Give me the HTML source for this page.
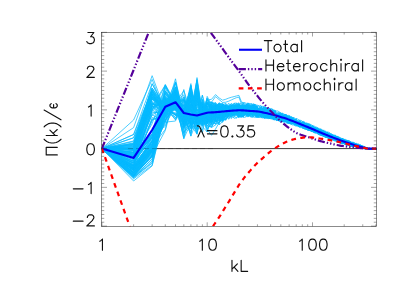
<!DOCTYPE html>
<html><head><meta charset="utf-8"><title>Flux</title>
<style>
html,body{margin:0;padding:0;background:#fff;}
body{width:407px;height:291px;overflow:hidden;font-family:"Liberation Sans",sans-serif;}
svg{display:block}
</style></head><body>
<svg width="407" height="291" viewBox="0 0 407 291">
<rect width="407" height="291" fill="#fff"/>
<defs><clipPath id="c"><rect x="101.5" y="32.5" width="275.0" height="193.8"/></clipPath></defs>
<g clip-path="url(#c)" fill="none" stroke-linejoin="round">
<path d="M101.5,148.6H376.5" stroke="#000" stroke-width="0.78"/>
<path d="M101.9,148.6L133.6,165.63L152.14,108.97L165.3,108.96L175.5,114.77L183.84,110.46L190.89,94.19L197,111.27L202.38,124.31L207.2,100L211.56,99.29L215.54,94.6L219.2,97.96L222.59,100.18L225.74,99.28L228.69,98.1L231.47,97.24L234.08,96.58L236.55,95.94L238.9,95.33L241.13,100.97L243.26,103.1L245.29,104.16L247.24,105.19L248.64,105.84L250.04,110.87L251.44,112.92L252.84,114.57L254.24,114.2L255.64,111.16L257.04,111.33L258.44,111.08L259.84,109.7L261.24,108.76L262.64,110.94L264.04,112.41L265.44,112.06L266.84,114.89L268.24,114.88L269.64,115.18L271.04,116.73L272.44,116.41L273.84,114.98L275.24,116.11L276.64,116.49L278.04,116.16L279.44,117.98L280.84,116.75L282.24,118.81L283.64,118.78L285.04,118.79L286.44,118.26L287.84,118.78L289.24,119.2L290.64,116.87L292.04,117.85L293.44,119.99L294.84,121.43L296.24,121.56L297.64,122.73L299.04,122.8L300.44,122.88L301.84,123.79L303.24,122.46L304.64,125.7L306.04,125.83L307.44,128.71L308.84,127.29L310.24,130.03L311.64,129.05L313.04,127.81L314.44,128.66L315.84,130.04L317.24,129.07L318.64,131.94L320.04,132.28L321.44,134.16L322.84,134.5L324.24,134.67L325.64,134.78L327.04,136.53L328.44,136.85L329.84,137.24L331.24,138.74L332.64,137.89L334.04,138.68L335.44,138.7L336.84,138.53L338.24,139.69L339.64,139.26L341.04,141.07L342.44,141.11L343.84,142.08L345.24,142.97L346.64,142.65L348.04,143.46L349.44,142.64L350.84,144.23L352.24,144.67L353.64,144.92L355.04,144.64L356.44,145.32L357.84,146L359.24,146.47L360.64,147.43L362.04,148.08L363.44,148.3L364.84,148.74L366.24,148.37L367.64,148.59L369.04,148.6L370.44,148.6L371.84,148.6L373.24,148.6L374.64,148.6L376.5,148.6M101.9,148.6L133.6,156.82L152.14,107.44L165.3,99.91L175.5,103.6L183.84,113.56L190.89,83.6L197,124.21L202.38,111.03L207.2,102.99L211.56,102.17L215.54,96.6L219.2,99.66L222.59,102.44L225.74,102.22L228.69,101.19L231.47,99.91L234.08,98.64L236.55,97.65L238.9,97.1L241.13,103.15L243.26,105.78L245.29,107.2L247.24,108.3L248.64,108.83L250.04,113.18L251.44,106.72L252.84,109.01L254.24,110.83L255.64,111.46L257.04,114.92L258.44,112.29L259.84,111.32L261.24,113.23L262.64,114.75L264.04,118.4L265.44,118.54L266.84,115.79L268.24,116.61L269.64,118.88L271.04,116.61L272.44,114.09L273.84,115.06L275.24,117.45L276.64,117.96L278.04,117.44L279.44,119.35L280.84,119.37L282.24,118.09L283.64,118.14L285.04,118.28L286.44,118.75L287.84,119.65L289.24,118.83L290.64,118.99L292.04,119.75L293.44,120.95L294.84,123.03L296.24,123.95L297.64,124.96L299.04,125.21L300.44,124.83L301.84,126.82L303.24,128.07L304.64,128.54L306.04,129.61L307.44,127.15L308.84,128.34L310.24,130.6L311.64,131.67L313.04,130.04L314.44,129.83L315.84,128.9L317.24,131.76L318.64,132.64L320.04,132.19L321.44,132.83L322.84,133.66L324.24,135.48L325.64,136.11L327.04,136.49L328.44,137.58L329.84,136.85L331.24,137.03L332.64,139.49L334.04,139.82L335.44,139.84L336.84,139.46L338.24,139.09L339.64,138.31L341.04,140.06L342.44,140.98L343.84,140.86L345.24,141.39L346.64,142.09L348.04,143.38L349.44,143.33L350.84,143.75L352.24,144.36L353.64,144.96L355.04,145.57L356.44,145.99L357.84,145.85L359.24,146.86L360.64,146.84L362.04,147.28L363.44,147.88L364.84,147.91L366.24,148.18L367.64,148.58L369.04,148.6L370.44,148.6L371.84,148.6L373.24,148.6L374.64,148.6L376.5,148.6M101.9,148.6L133.6,167.77L152.14,143.6L165.3,105.99L175.5,102.8L183.84,116.77L190.89,85.42L197,118.31L202.38,117.72L207.2,111L211.56,108.8L215.54,104.93L219.2,114.69L222.59,111.07L225.74,107.78L228.69,107.62L231.47,109.19L234.08,111.99L236.55,108.81L238.9,110.26L241.13,108.99L243.26,110.66L245.29,110.28L247.24,110.94L248.64,109.01L250.04,110.05L251.44,110.9L252.84,106.96L254.24,104.95L255.64,109.68L257.04,112.94L258.44,113.18L259.84,111.85L261.24,109.18L262.64,110.55L264.04,113.1L265.44,112.15L266.84,111.74L268.24,109.23L269.64,110.15L271.04,108.89L272.44,108.97L273.84,111.61L275.24,110.94L276.64,115.05L278.04,116.55L279.44,116.31L280.84,117.3L282.24,120.14L283.64,121.59L285.04,120.94L286.44,121.54L287.84,121.85L289.24,119.72L290.64,119.51L292.04,120.75L293.44,121.29L294.84,121.28L296.24,122.42L297.64,123.33L299.04,124.03L300.44,123.48L301.84,122.36L303.24,122.86L304.64,125.62L306.04,125.7L307.44,127.5L308.84,128.78L310.24,128.9L311.64,131.6L313.04,130.09L314.44,128.62L315.84,130.8L317.24,132.47L318.64,132.9L320.04,131.97L321.44,131.35L322.84,134.43L324.24,133.48L325.64,134.63L327.04,132.99L328.44,135.17L329.84,137.26L331.24,136.77L332.64,137.21L334.04,137.5L335.44,138.49L336.84,139.01L338.24,139.49L339.64,140.43L341.04,142.36L342.44,142.05L343.84,141.05L345.24,141.35L346.64,143.12L348.04,142.88L349.44,143.35L350.84,144.3L352.24,144.28L353.64,144.79L355.04,145.48L356.44,145.16L357.84,145.76L359.24,146.08L360.64,147.15L362.04,147.16L363.44,147.87L364.84,148.18L366.24,148.19L367.64,148.3L369.04,148.6L370.44,148.6L371.84,148.6L373.24,148.6L374.64,148.6L376.5,148.6M101.9,148.6L133.6,170.48L152.14,149.93L165.3,115.57L175.5,97.51L183.84,112L190.89,117.04L197,124.85L202.38,115.31L207.2,110.06L211.56,103.65L215.54,106.26L219.2,103.26L222.59,107.39L225.74,107.54L228.69,107.29L231.47,107.41L234.08,106.59L236.55,107.46L238.9,109.45L241.13,113.16L243.26,115.83L245.29,114.48L247.24,113.47L248.64,112.98L250.04,110.1L251.44,110.37L252.84,108.9L254.24,110.42L255.64,112.15L257.04,110.97L258.44,111.32L259.84,111.44L261.24,112.81L262.64,112.49L264.04,113.72L265.44,113.15L266.84,115.94L268.24,114.09L269.64,115.74L271.04,117.43L272.44,118.17L273.84,118.68L275.24,117.04L276.64,115.57L278.04,114.17L279.44,116.41L280.84,115.86L282.24,118.1L283.64,117.19L285.04,116.98L286.44,115.82L287.84,116.8L289.24,116.87L290.64,119.74L292.04,120.21L293.44,122.53L294.84,122.15L296.24,122.09L297.64,122.71L299.04,123.53L300.44,125.56L301.84,126.65L303.24,127.55L304.64,127.89L306.04,125.65L307.44,126.09L308.84,125.29L310.24,126.58L311.64,128.69L313.04,129.25L314.44,130.52L315.84,131.41L317.24,131.93L318.64,132.13L320.04,132.71L321.44,132.41L322.84,131.01L324.24,133.43L325.64,134.53L327.04,135.67L328.44,136.6L329.84,135.84L331.24,137.12L332.64,139.36L334.04,138.26L335.44,139.8L336.84,140.4L338.24,139.39L339.64,139.3L341.04,139.91L342.44,138.43L343.84,140.76L345.24,142.07L346.64,142.05L348.04,142.43L349.44,143.73L350.84,144.01L352.24,144.32L353.64,145.93L355.04,146.38L356.44,145.59L357.84,145.06L359.24,146.35L360.64,146.69L362.04,145.67L363.44,147.01L364.84,147.96L366.24,148.23L367.64,148.46L369.04,148.6L370.44,148.6L371.84,148.6L373.24,148.6L374.64,148.6L376.5,148.6M101.9,148.6L133.6,168.56L152.14,147.65L165.3,105.94L175.5,115.6L183.84,114.34L190.89,97.79L197,119.74L202.38,126.24L207.2,99.77L211.56,102.87L215.54,104.77L219.2,110.92L222.59,118.04L225.74,114.89L228.69,108.27L231.47,110.3L234.08,108.29L236.55,110.61L238.9,108.34L241.13,107.34L243.26,111.38L245.29,111.84L247.24,112.68L248.64,112.52L250.04,112.5L251.44,113.92L252.84,111.65L254.24,110.42L255.64,111.13L257.04,109.9L258.44,112.97L259.84,113.91L261.24,117.24L262.64,114.57L264.04,115.28L265.44,114.84L266.84,113.26L268.24,114.36L269.64,114.75L271.04,114L272.44,109.35L273.84,112.19L275.24,114.84L276.64,115.03L278.04,116.07L279.44,117.18L280.84,116.82L282.24,118.35L283.64,118.58L285.04,116.42L286.44,117.89L287.84,118.59L289.24,121.17L290.64,120.19L292.04,119.73L293.44,119.52L294.84,122.07L296.24,122.96L297.64,124.52L299.04,124.52L300.44,124.4L301.84,125.53L303.24,124.98L304.64,126.26L306.04,126.19L307.44,126.55L308.84,127.83L310.24,127.15L311.64,128.59L313.04,129.3L314.44,131.34L315.84,130.73L317.24,130.99L318.64,132.39L320.04,133.86L321.44,133.56L322.84,133L324.24,134L325.64,134.51L327.04,131.55L328.44,133.8L329.84,134.86L331.24,135.7L332.64,137.26L334.04,137.73L335.44,139.49L336.84,139.49L338.24,139.79L339.64,139.5L341.04,140.19L342.44,140.04L343.84,141.51L345.24,143.57L346.64,143.37L348.04,143.84L349.44,144.46L350.84,144.96L352.24,144.23L353.64,144.8L355.04,145.33L356.44,145.52L357.84,145.93L359.24,146.47L360.64,147.17L362.04,148.24L363.44,148.04L364.84,148.59L366.24,148.25L367.64,148.48L369.04,148.6L370.44,148.6L371.84,148.6L373.24,148.6L374.64,148.6L376.5,148.6M101.9,148.6L133.6,172.15L152.14,141.67L165.3,104.99L175.5,105.5L183.84,113.1L190.89,108.38L197,119.46L202.38,120.19L207.2,123.59L211.56,109.04L215.54,117.18L219.2,113.84L222.59,109.81L225.74,110L228.69,113.06L231.47,111.23L234.08,112.27L236.55,108.43L238.9,108L241.13,111.64L243.26,108.74L245.29,106.39L247.24,108.12L248.64,113.31L250.04,114.12L251.44,113.63L252.84,111.52L254.24,110.57L255.64,110.11L257.04,112.28L258.44,112.37L259.84,113.12L261.24,117.32L262.64,112.64L264.04,113.09L265.44,113.98L266.84,113.14L268.24,111.72L269.64,113.75L271.04,114.15L272.44,116L273.84,114.44L275.24,117.73L276.64,116.75L278.04,115.9L279.44,116.64L280.84,116.7L282.24,117.25L283.64,117.86L285.04,117.1L286.44,119.36L287.84,120.21L289.24,119.4L290.64,117.68L292.04,119.69L293.44,121.28L294.84,121.8L296.24,123.8L297.64,124.87L299.04,124.54L300.44,125.22L301.84,124.7L303.24,126.36L304.64,126.31L306.04,128.48L307.44,128.63L308.84,128.36L310.24,128.95L311.64,127.77L313.04,127.88L314.44,131.18L315.84,130.63L317.24,131.41L318.64,133.63L320.04,131.91L321.44,133.1L322.84,134.27L324.24,135.78L325.64,134.87L327.04,135.33L328.44,135.98L329.84,136.15L331.24,136.15L332.64,137.33L334.04,137.96L335.44,139.79L336.84,140.53L338.24,142.47L339.64,141.35L341.04,141.99L342.44,142.69L343.84,141.39L345.24,141.79L346.64,142.79L348.04,143.88L349.44,143.51L350.84,143.9L352.24,144.82L353.64,144.69L355.04,145.52L356.44,145.15L357.84,145.7L359.24,145.78L360.64,146.29L362.04,146.92L363.44,148.13L364.84,148.29L366.24,148.25L367.64,148.51L369.04,148.6L370.44,148.6L371.84,148.6L373.24,148.6L374.64,148.6L376.5,148.6M101.9,148.6L133.6,168.31L152.14,140.93L165.3,94.18L175.5,105.1L183.84,125.88L190.89,104.37L197,93.87L202.38,114.13L207.2,118.41L211.56,117.08L215.54,114.67L219.2,112.37L222.59,110.36L225.74,110.47L228.69,107.55L231.47,110.89L234.08,107.48L236.55,111.42L238.9,113.16L241.13,114.88L243.26,111.98L245.29,113.23L247.24,113.47L248.64,113.53L250.04,117L251.44,116.49L252.84,114.43L254.24,113.14L255.64,112.83L257.04,113.2L258.44,111.22L259.84,110.68L261.24,107.67L262.64,110.05L264.04,113.04L265.44,109.73L266.84,111.28L268.24,112.51L269.64,116.09L271.04,115.48L272.44,115.69L273.84,115.07L275.24,115.85L276.64,116.06L278.04,116.1L279.44,117.93L280.84,116.58L282.24,119.23L283.64,121.11L285.04,119.85L286.44,120.25L287.84,122.91L289.24,121.95L290.64,120.77L292.04,120.94L293.44,121.28L294.84,120.95L296.24,122.51L297.64,123.01L299.04,123.36L300.44,124.18L301.84,125.25L303.24,125.05L304.64,124.83L306.04,125.96L307.44,126.62L308.84,126.83L310.24,127.8L311.64,127.94L313.04,128.56L314.44,129.79L315.84,130.5L317.24,133.25L318.64,133.36L320.04,132.68L321.44,133.82L322.84,135.77L324.24,136.79L325.64,135.53L327.04,135.87L328.44,135.7L329.84,136.65L331.24,136.35L332.64,137.45L334.04,137.57L335.44,137.61L336.84,138.92L338.24,140.1L339.64,141.17L341.04,142.1L342.44,141.93L343.84,142.08L345.24,142.97L346.64,143.46L348.04,142.25L349.44,143.1L350.84,143.3L352.24,143.62L353.64,145.52L355.04,145.07L356.44,145.59L357.84,145.94L359.24,146.25L360.64,147.22L362.04,146.42L363.44,147.43L364.84,147.83L366.24,148.48L367.64,148.64L369.04,148.6L370.44,148.6L371.84,148.6L373.24,148.6L374.64,148.6L376.5,148.6M101.9,148.6L133.6,147.25L152.14,95.68L165.3,111.71L175.5,108.46L183.84,116.02L190.89,89.38L197,120.29L202.38,107.05L207.2,115.26L211.56,109.47L215.54,110.85L219.2,106.27L222.59,108.87L225.74,113.15L228.69,112.59L231.47,111.72L234.08,111.87L236.55,110.4L238.9,105.19L241.13,109.3L243.26,105.99L245.29,110.28L247.24,109.18L248.64,112.1L250.04,111.12L251.44,109.56L252.84,108.22L254.24,112.41L255.64,110.69L257.04,110.89L258.44,105.11L259.84,107.69L261.24,109.99L262.64,109.14L264.04,109.17L265.44,107.23L266.84,113.13L268.24,112.75L269.64,113.91L271.04,114.87L272.44,116.74L273.84,119.96L275.24,116.56L276.64,116.28L278.04,115.33L279.44,114.49L280.84,116.96L282.24,116.09L283.64,117.01L285.04,120.19L286.44,118.66L287.84,120.41L289.24,122.16L290.64,120.15L292.04,122.07L293.44,124.17L294.84,125.69L296.24,126.18L297.64,125.48L299.04,126.94L300.44,127.65L301.84,126.66L303.24,127.3L304.64,128.47L306.04,127.99L307.44,127.78L308.84,127.28L310.24,127.84L311.64,129.06L313.04,129.65L314.44,131.78L315.84,129.49L317.24,130.96L318.64,131.15L320.04,132.27L321.44,132.58L322.84,133.05L324.24,134.34L325.64,134.12L327.04,133.56L328.44,136.39L329.84,136.66L331.24,137.2L332.64,137.29L334.04,137.91L335.44,139.89L336.84,140.95L338.24,141.66L339.64,141.94L341.04,143.49L342.44,143.08L343.84,143.27L345.24,144.37L346.64,143.9L348.04,142.39L349.44,143.48L350.84,143.87L352.24,144.22L353.64,144.85L355.04,144.92L356.44,145.55L357.84,147.05L359.24,146.36L360.64,146.7L362.04,147.39L363.44,147.27L364.84,148.32L366.24,148.31L367.64,148.54L369.04,148.6L370.44,148.6L371.84,148.6L373.24,148.6L374.64,148.6L376.5,148.6M101.9,148.6L133.6,155.13L152.14,114.91L165.3,107.45L175.5,119.54L183.84,89.5L190.89,123.67L197,120.12L202.38,106.41L207.2,113.95L211.56,101.85L215.54,107.01L219.2,110.77L222.59,107.67L225.74,106L228.69,110.1L231.47,108.48L234.08,110.18L236.55,111.5L238.9,110.25L241.13,110.68L243.26,110.41L245.29,111.13L247.24,113.03L248.64,112.16L250.04,113.36L251.44,112.84L252.84,112.59L254.24,110.15L255.64,108.61L257.04,113.8L258.44,111.56L259.84,109.11L261.24,111.71L262.64,111.47L264.04,112.66L265.44,109.3L266.84,110.86L268.24,112.18L269.64,116.21L271.04,115.87L272.44,115.33L273.84,114.69L275.24,115.6L276.64,115.71L278.04,120.38L279.44,119.63L280.84,118.53L282.24,118.72L283.64,118.82L285.04,117.58L286.44,120.09L287.84,122.53L289.24,120.71L290.64,119.63L292.04,119.21L293.44,120.18L294.84,121.66L296.24,122.11L297.64,122.64L299.04,124.23L300.44,123.88L301.84,126.23L303.24,127.36L304.64,128.76L306.04,127.83L307.44,128.16L308.84,128.19L310.24,127.56L311.64,127.91L313.04,129.86L314.44,130.4L315.84,130.65L317.24,131.3L318.64,133.15L320.04,132.89L321.44,131.92L322.84,130.18L324.24,134.21L325.64,134.59L327.04,135.4L328.44,135.32L329.84,136.55L331.24,137.07L332.64,138.38L334.04,139.61L335.44,138.74L336.84,139.32L338.24,139.14L339.64,139.54L341.04,140.95L342.44,141.64L343.84,141.92L345.24,142.6L346.64,142.82L348.04,142.95L349.44,143.73L350.84,143.77L352.24,144.32L353.64,144.55L355.04,145.12L356.44,146.18L357.84,145.96L359.24,147.35L360.64,147.12L362.04,146.99L363.44,147.56L364.84,147.66L366.24,147.99L367.64,148.46L369.04,148.6L370.44,148.6L371.84,148.6L373.24,148.6L374.64,148.6L376.5,148.6M101.9,148.6L133.6,170.89L152.14,152.6L165.3,121.04L175.5,102.58L183.84,113.91L190.89,94.34L197,118.02L202.38,114.25L207.2,115.51L211.56,121.47L215.54,124.28L219.2,115.04L222.59,108.28L225.74,114.29L228.69,111.97L231.47,111.2L234.08,110.38L236.55,112.28L238.9,111.62L241.13,108.99L243.26,107.35L245.29,110.78L247.24,111.62L248.64,114.41L250.04,112.16L251.44,110.8L252.84,111.78L254.24,111.16L255.64,111.03L257.04,112.08L258.44,111.86L259.84,112.61L261.24,114.12L262.64,115.28L264.04,117.89L265.44,117.2L266.84,117.91L268.24,118.1L269.64,118.05L271.04,114.62L272.44,116.97L273.84,116.41L275.24,116.94L276.64,115.71L278.04,113.96L279.44,115.43L280.84,116.95L282.24,117.93L283.64,116.83L285.04,115.7L286.44,114.99L287.84,116.62L289.24,119.81L290.64,119.9L292.04,120.92L293.44,120.05L294.84,119.61L296.24,123.13L297.64,124.4L299.04,127.16L300.44,125.93L301.84,125.88L303.24,126.34L304.64,128.54L306.04,128.26L307.44,127.75L308.84,129.25L310.24,129.12L311.64,128.45L313.04,129.26L314.44,129.67L315.84,130.11L317.24,127.21L318.64,130.02L320.04,131.58L321.44,132.53L322.84,132.5L324.24,133.23L325.64,134.61L327.04,135.02L328.44,136.41L329.84,136.25L331.24,138.47L332.64,136.9L334.04,137.61L335.44,138.85L336.84,139.43L338.24,139.45L339.64,137.93L341.04,138.38L342.44,141.35L343.84,141.32L345.24,143.71L346.64,143.85L348.04,143.95L349.44,142.95L350.84,144.56L352.24,145.64L353.64,144.71L355.04,145.44L356.44,146.03L357.84,146.93L359.24,146.98L360.64,147.34L362.04,147.35L363.44,147.64L364.84,148.37L366.24,148.35L367.64,148.47L369.04,148.6L370.44,148.6L371.84,148.6L373.24,148.6L374.64,148.6L376.5,148.6M101.9,148.6L133.6,159.82L152.14,133.51L165.3,98.45L175.5,104.92L183.84,115.43L190.89,114.67L197,94.84L202.38,114.84L207.2,102.99L211.56,102.92L215.54,103.93L219.2,109.83L222.59,115.54L225.74,108.79L228.69,110.28L231.47,111.65L234.08,112.84L236.55,110.59L238.9,105.85L241.13,107.1L243.26,105.35L245.29,108.58L247.24,109.56L248.64,109.96L250.04,110.59L251.44,112.03L252.84,111.52L254.24,109.42L255.64,110.27L257.04,107.27L258.44,111.59L259.84,115.73L261.24,116.72L262.64,114.23L264.04,115.97L265.44,115.58L266.84,112.52L268.24,111.61L269.64,113.5L271.04,113.41L272.44,114.16L273.84,116.25L275.24,115.18L276.64,115.7L278.04,116.56L279.44,119.14L280.84,116.87L282.24,117.96L283.64,118.94L285.04,119.19L286.44,118.56L287.84,119.1L289.24,118.68L290.64,118.18L292.04,120.49L293.44,123.18L294.84,124.58L296.24,123.03L297.64,124.89L299.04,124.1L300.44,125.45L301.84,125.13L303.24,125.17L304.64,124.91L306.04,125.63L307.44,126.42L308.84,125.84L310.24,128.46L311.64,128.9L313.04,129.02L314.44,130.05L315.84,131.11L317.24,130.26L318.64,131.18L320.04,133.43L321.44,132.43L322.84,131.98L324.24,132.49L325.64,135.39L327.04,136.53L328.44,137.86L329.84,138.88L331.24,138.37L332.64,137.65L334.04,137.82L335.44,137.96L336.84,136.63L338.24,138.71L339.64,139.88L341.04,140.7L342.44,141.08L343.84,140.47L345.24,141.87L346.64,141.7L348.04,142.01L349.44,142.34L350.84,143.1L352.24,143.72L353.64,144.57L355.04,146.61L356.44,146.53L357.84,146.71L359.24,146.29L360.64,147.08L362.04,148.05L363.44,148.08L364.84,147.81L366.24,147.87L367.64,148.52L369.04,148.6L370.44,148.6L371.84,148.6L373.24,148.6L374.64,148.6L376.5,148.6M101.9,148.6L133.6,152.72L152.14,96.89L165.3,112.58L175.5,97.42L183.84,114.91L190.89,90.77L197,117.97L202.38,120L207.2,114.34L211.56,105.36L215.54,109.7L219.2,106.7L222.59,111.66L225.74,108.13L228.69,112.14L231.47,113.7L234.08,113.33L236.55,113.87L238.9,109.7L241.13,110.11L243.26,107.58L245.29,107.83L247.24,105.02L248.64,107.19L250.04,112.45L251.44,112.78L252.84,110.65L254.24,113.9L255.64,113.54L257.04,108.61L258.44,109.78L259.84,111.25L261.24,108.87L262.64,110.46L264.04,112.21L265.44,111.15L266.84,112.44L268.24,113.04L269.64,113.65L271.04,115.58L272.44,113.95L273.84,112.49L275.24,115.97L276.64,115.63L278.04,118.39L279.44,118.6L280.84,116.89L282.24,118.49L283.64,120.3L285.04,120.25L286.44,120.46L287.84,121.2L289.24,118.83L290.64,119.77L292.04,120.74L293.44,119.65L294.84,121.54L296.24,124.05L297.64,124.44L299.04,123.54L300.44,125.46L301.84,124.73L303.24,125.06L304.64,124.57L306.04,126.19L307.44,127.81L308.84,128.52L310.24,127.69L311.64,127.96L313.04,129.11L314.44,130.73L315.84,129.25L317.24,130.48L318.64,131.72L320.04,132.51L321.44,133.37L322.84,134.73L324.24,135.38L325.64,135.77L327.04,136.87L328.44,137.9L329.84,136.72L331.24,136.85L332.64,136.56L334.04,137.1L335.44,137.67L336.84,138.17L338.24,138.9L339.64,138.37L341.04,138.59L342.44,141.08L343.84,141.98L345.24,141.38L346.64,140.78L348.04,141.15L349.44,142.76L350.84,143.44L352.24,144.04L353.64,144.43L355.04,145.26L356.44,145.21L357.84,143.87L359.24,146.35L360.64,147.37L362.04,147.26L363.44,147.81L364.84,147.95L366.24,148.32L367.64,148.52L369.04,148.6L370.44,148.6L371.84,148.6L373.24,148.6L374.64,148.6L376.5,148.6M101.9,148.6L133.6,149.4L152.14,102.16L165.3,116.12L175.5,105.66L183.84,105.76L190.89,109.45L197,125.47L202.38,109.5L207.2,117.81L211.56,112.1L215.54,114.3L219.2,116.8L222.59,107.94L225.74,109.5L228.69,114.01L231.47,112.11L234.08,111.78L236.55,105.78L238.9,107.49L241.13,107.16L243.26,109.79L245.29,106.47L247.24,106.33L248.64,111.74L250.04,107.87L251.44,106.11L252.84,108.14L254.24,112.53L255.64,111.67L257.04,112.11L258.44,115.61L259.84,113.2L261.24,113.2L262.64,115.26L264.04,112.91L265.44,115.31L266.84,116.45L268.24,117.22L269.64,115.9L271.04,113.21L272.44,113.78L273.84,117.41L275.24,116.68L276.64,118.8L278.04,117.92L279.44,118.12L280.84,119.85L282.24,120.27L283.64,119.4L285.04,118.29L286.44,117.01L287.84,119.04L289.24,120.2L290.64,120.08L292.04,121.57L293.44,121.26L294.84,123.39L296.24,123.37L297.64,122.65L299.04,121.91L300.44,124.14L301.84,124.9L303.24,123.97L304.64,126.67L306.04,126.41L307.44,128.44L308.84,128.97L310.24,128.42L311.64,128.66L313.04,129.07L314.44,128.76L315.84,128.59L317.24,131.27L318.64,131.66L320.04,133.56L321.44,132.6L322.84,133.18L324.24,135.44L325.64,136.22L327.04,136.67L328.44,137.17L329.84,136.66L331.24,136.05L332.64,136.31L334.04,138.01L335.44,138.02L336.84,139.02L338.24,139.51L339.64,138.55L341.04,140.52L342.44,141.58L343.84,141.48L345.24,144.16L346.64,144.34L348.04,144.61L349.44,143.92L350.84,144.68L352.24,144.32L353.64,143.74L355.04,144.25L356.44,145.61L357.84,146.84L359.24,146.8L360.64,147.17L362.04,147.83L363.44,147.81L364.84,148.13L366.24,148.19L367.64,148.52L369.04,148.6L370.44,148.6L371.84,148.6L373.24,148.6L374.64,148.6L376.5,148.6M101.9,148.6L133.6,174.98L152.14,155.11L165.3,103.58L175.5,102.78L183.84,126.9L190.89,119.15L197,128.16L202.38,113.64L207.2,123.51L211.56,113.16L215.54,113.77L219.2,114.67L222.59,107.58L225.74,111.83L228.69,113.34L231.47,111.31L234.08,106.89L236.55,109.58L238.9,107.98L241.13,109.07L243.26,110.13L245.29,114.22L247.24,113.33L248.64,113.56L250.04,110.47L251.44,112.48L252.84,110.85L254.24,114.18L255.64,115.62L257.04,110.84L258.44,112.96L259.84,111.8L261.24,108.58L262.64,108.47L264.04,108.86L265.44,112.75L266.84,111L268.24,113.57L269.64,114.1L271.04,116.42L272.44,116.25L273.84,113.33L275.24,113.51L276.64,114.78L278.04,112.25L279.44,115.38L280.84,113.97L282.24,113.43L283.64,117.76L285.04,119.32L286.44,117.07L287.84,115.13L289.24,115.69L290.64,119.67L292.04,120.64L293.44,121.92L294.84,122.37L296.24,124.45L297.64,124.68L299.04,124.66L300.44,123.7L301.84,124.3L303.24,124.29L304.64,126.97L306.04,127.89L307.44,128.57L308.84,126.16L310.24,127.21L311.64,128.77L313.04,129.5L314.44,130.23L315.84,130.37L317.24,130.82L318.64,132.23L320.04,132.38L321.44,134.06L322.84,135.6L324.24,135.62L325.64,137.23L327.04,136.37L328.44,135.59L329.84,134.17L331.24,136.89L332.64,136.89L334.04,138.19L335.44,137.68L336.84,137.91L338.24,139.51L339.64,141.05L341.04,141.43L342.44,140.31L343.84,141.49L345.24,141.82L346.64,142.4L348.04,141.62L349.44,141.85L350.84,143.38L352.24,144.19L353.64,143.97L355.04,144.04L356.44,144.78L357.84,145.56L359.24,146.17L360.64,146.47L362.04,147.04L363.44,147.89L364.84,148L366.24,148.45L367.64,148.55L369.04,148.6L370.44,148.6L371.84,148.6L373.24,148.6L374.64,148.6L376.5,148.6M101.9,148.6L133.6,162.72L152.14,138.16L165.3,92.78L175.5,103.85L183.84,115.36L190.89,104.27L197,122.32L202.38,108.63L207.2,112.69L211.56,106.45L215.54,109.72L219.2,104.51L222.59,109.64L225.74,111.09L228.69,107.15L231.47,108.91L234.08,106.11L236.55,102.94L238.9,108.2L241.13,107.48L243.26,108.09L245.29,109.28L247.24,107.95L248.64,111.9L250.04,110.14L251.44,113.75L252.84,116.61L254.24,114.77L255.64,113.33L257.04,114.07L258.44,112.39L259.84,112.09L261.24,112.71L262.64,112.48L264.04,113.65L265.44,116.55L266.84,113.25L268.24,112.37L269.64,108.1L271.04,111.1L272.44,109.72L273.84,114.08L275.24,116.01L276.64,114.73L278.04,115.01L279.44,116.51L280.84,119.17L282.24,118.24L283.64,117.84L285.04,117.44L286.44,117.62L287.84,117.65L289.24,118.21L290.64,116.25L292.04,116.81L293.44,121.22L294.84,124.3L296.24,124.33L297.64,123.91L299.04,123.28L300.44,124.11L301.84,124.42L303.24,127.88L304.64,127.17L306.04,126.97L307.44,126.98L308.84,126.74L310.24,129.03L311.64,130.63L313.04,131.31L314.44,130.82L315.84,132.31L317.24,133.43L318.64,133.34L320.04,133.32L321.44,133.35L322.84,131.61L324.24,134.2L325.64,133.4L327.04,135.13L328.44,135.36L329.84,136.15L331.24,137.57L332.64,137.86L334.04,137.92L335.44,139.05L336.84,139.98L338.24,138.53L339.64,140.03L341.04,141.04L342.44,140.61L343.84,140.45L345.24,142.11L346.64,143.74L348.04,143.9L349.44,143.53L350.84,145.94L352.24,145.78L353.64,145.72L355.04,147.28L356.44,145.58L357.84,145.89L359.24,147.93L360.64,147.51L362.04,148.28L363.44,148L364.84,148.36L366.24,148.36L367.64,148.57L369.04,148.6L370.44,148.6L371.84,148.6L373.24,148.6L374.64,148.6L376.5,148.6M101.9,148.6L133.6,154.25L152.14,106.1L165.3,122.16L175.5,121L183.84,100.48L190.89,116.11L197,134.2L202.38,99.26L207.2,112.5L211.56,116.87L215.54,111.8L219.2,110.18L222.59,116.12L225.74,111.55L228.69,106.21L231.47,109.64L234.08,110.85L236.55,112.92L238.9,113.67L241.13,115.79L243.26,116.25L245.29,113.04L247.24,111.33L248.64,108.18L250.04,112.48L251.44,111.01L252.84,109L254.24,106.56L255.64,109.58L257.04,112.15L258.44,114.73L259.84,114.55L261.24,118.12L262.64,114.78L264.04,114.54L265.44,110.38L266.84,113.19L268.24,114.22L269.64,113.69L271.04,113.98L272.44,115.75L273.84,113.57L275.24,115.79L276.64,115.71L278.04,118.66L279.44,117.68L280.84,116.2L282.24,117.23L283.64,119.42L285.04,120.51L286.44,119.99L287.84,121.76L289.24,120.25L290.64,120.18L292.04,120.15L293.44,119.44L294.84,122.75L296.24,122.23L297.64,122.9L299.04,123.54L300.44,124.45L301.84,125.4L303.24,126.25L304.64,125.44L306.04,125.47L307.44,124.53L308.84,127.45L310.24,128.07L311.64,128.8L313.04,130.35L314.44,129.69L315.84,130.05L317.24,130.76L318.64,132.47L320.04,131.8L321.44,133.66L322.84,133.39L324.24,133.95L325.64,136.37L327.04,137.73L328.44,138.21L329.84,137.98L331.24,138.81L332.64,136.87L334.04,137.94L335.44,139.22L336.84,138.79L338.24,139.36L339.64,138.8L341.04,140.27L342.44,141.59L343.84,141.58L345.24,142.43L346.64,142.98L348.04,142.6L349.44,143.2L350.84,143.78L352.24,144.16L353.64,144.98L355.04,146.62L356.44,147.6L357.84,146.92L359.24,146.2L360.64,146.6L362.04,146.89L363.44,147.91L364.84,148.14L366.24,148.38L367.64,148.52L369.04,148.6L370.44,148.6L371.84,148.6L373.24,148.6L374.64,148.6L376.5,148.6M101.9,148.6L133.6,177.71L152.14,163.32L165.3,112.73L175.5,102.26L183.84,110.39L190.89,114.72L197,96.38L202.38,113.99L207.2,123.86L211.56,115.72L215.54,118.91L219.2,115.61L222.59,116.32L225.74,110.44L228.69,108.74L231.47,107.88L234.08,105.46L236.55,105.47L238.9,113.69L241.13,116.2L243.26,112.76L245.29,111.76L247.24,107.84L248.64,115.29L250.04,113.93L251.44,114.63L252.84,108.86L254.24,108.25L255.64,111.81L257.04,116.7L258.44,111.54L259.84,109.77L261.24,108.9L262.64,112.32L264.04,112.43L265.44,111L266.84,107.21L268.24,111.02L269.64,114.56L271.04,113.14L272.44,112.45L273.84,114.18L275.24,114.67L276.64,117.72L278.04,118.37L279.44,115.88L280.84,116.39L282.24,115.6L283.64,117.54L285.04,119.25L286.44,116.82L287.84,118.89L289.24,121.38L290.64,120.92L292.04,119.84L293.44,120.52L294.84,121.97L296.24,121.92L297.64,123.46L299.04,124.08L300.44,124.09L301.84,125.24L303.24,127.86L304.64,126.03L306.04,127.11L307.44,125.92L308.84,127.41L310.24,129.87L311.64,128.67L313.04,130.07L314.44,131.72L315.84,131.75L317.24,131.57L318.64,131.66L320.04,132.31L321.44,132.43L322.84,135.29L324.24,134.92L325.64,134.76L327.04,135L328.44,135.65L329.84,136.17L331.24,136.19L332.64,137.92L334.04,138.24L335.44,138.97L336.84,138.83L338.24,139.55L339.64,139.55L341.04,139.8L342.44,141.42L343.84,141.55L345.24,142.8L346.64,142.54L348.04,143.61L349.44,144.74L350.84,145.01L352.24,144.67L353.64,144.49L355.04,144.91L356.44,145.6L357.84,146L359.24,146.95L360.64,146.49L362.04,148.15L363.44,147.8L364.84,147.56L366.24,148.29L367.64,148.52L369.04,148.6L370.44,148.6L371.84,148.6L373.24,148.6L374.64,148.6L376.5,148.6M101.9,148.6L133.6,162.16L152.14,137.71L165.3,113.84L175.5,95.71L183.84,112.05L190.89,101.67L197,118.28L202.38,124.75L207.2,118.57L211.56,120.94L215.54,119.45L219.2,106.89L222.59,110.42L225.74,109.63L228.69,107.25L231.47,103.11L234.08,106.21L236.55,111.02L238.9,106.75L241.13,107.17L243.26,105.98L245.29,108.44L247.24,107.46L248.64,110.02L250.04,111.9L251.44,112.38L252.84,109.58L254.24,110.44L255.64,105.85L257.04,106.56L258.44,109.15L259.84,111.38L261.24,112.24L262.64,112.32L264.04,107.9L265.44,109.95L266.84,113.54L268.24,113.03L269.64,114.48L271.04,114.1L272.44,114.8L273.84,117.6L275.24,117.03L276.64,115.33L278.04,114.43L279.44,116L280.84,117.94L282.24,119.07L283.64,119.24L285.04,119.07L286.44,117.33L287.84,120.2L289.24,119.58L290.64,118.99L292.04,118.24L293.44,119.01L294.84,121.08L296.24,121.19L297.64,121.97L299.04,124.13L300.44,124.47L301.84,123.03L303.24,124.9L304.64,125.53L306.04,125.81L307.44,126.27L308.84,127.36L310.24,130.11L311.64,131.44L313.04,131L314.44,131.84L315.84,131.07L317.24,131.91L318.64,131.22L320.04,131.63L321.44,131.98L322.84,134.83L324.24,135.24L325.64,134.74L327.04,135.43L328.44,136.01L329.84,136.43L331.24,139.42L332.64,138.45L334.04,137.81L335.44,138.93L336.84,136.13L338.24,139.61L339.64,139.87L341.04,142.49L342.44,142.9L343.84,143.07L345.24,142.48L346.64,142.16L348.04,142.88L349.44,144.5L350.84,146.1L352.24,145.2L353.64,145.04L355.04,145.94L356.44,146.15L357.84,146.64L359.24,146.92L360.64,147.18L362.04,147.47L363.44,148.15L364.84,148.43L366.24,148.57L367.64,148.65L369.04,148.6L370.44,148.6L371.84,148.6L373.24,148.6L374.64,148.6L376.5,148.6M101.9,148.6L133.6,176.38L152.14,159.26L165.3,114.13L175.5,94.41L183.84,121.57L190.89,118.54L197,99.28L202.38,117.44L207.2,109.03L211.56,114.57L215.54,111.32L219.2,109.84L222.59,117.57L225.74,110.16L228.69,111.94L231.47,111.98L234.08,110.11L236.55,113.18L238.9,116.71L241.13,117.45L243.26,115.98L245.29,113.67L247.24,107.33L248.64,113.36L250.04,112.99L251.44,110.67L252.84,111.41L254.24,111.13L255.64,113.33L257.04,113.75L258.44,114.22L259.84,111.8L261.24,112.57L262.64,112.23L264.04,113.97L265.44,113.09L266.84,113.07L268.24,113.4L269.64,114.89L271.04,113.48L272.44,113.93L273.84,114.62L275.24,115.39L276.64,116.47L278.04,119.39L279.44,118.54L280.84,120.21L282.24,118.1L283.64,118.45L285.04,120.5L286.44,121.49L287.84,122.97L289.24,121.86L290.64,122.04L292.04,122.62L293.44,122.44L294.84,122.2L296.24,122.81L297.64,123.03L299.04,124.56L300.44,124.46L301.84,125.55L303.24,125.23L304.64,125.37L306.04,126.91L307.44,126.41L308.84,127.91L310.24,128.6L311.64,130.87L313.04,130.68L314.44,128.31L315.84,128.14L317.24,129.84L318.64,131.72L320.04,132.6L321.44,134.12L322.84,133.62L324.24,134.08L325.64,134.95L327.04,135.64L328.44,137.42L329.84,137.49L331.24,138.62L332.64,138.41L334.04,138.04L335.44,138.13L336.84,139.87L338.24,140.49L339.64,140.62L341.04,140.44L342.44,142.69L343.84,142.52L345.24,142.65L346.64,142.77L348.04,143.67L349.44,144.96L350.84,144.51L352.24,143.63L353.64,144.74L355.04,145.25L356.44,145.23L357.84,144.27L359.24,145.12L360.64,145.85L362.04,146.28L363.44,146.81L364.84,147.26L366.24,148L367.64,148.34L369.04,148.6L370.44,148.6L371.84,148.6L373.24,148.6L374.64,148.6L376.5,148.6M101.9,148.6L133.6,172.87L152.14,147.12L165.3,100.04L175.5,108.53L183.84,119.85L190.89,133.87L197,80.4L202.38,121.25L207.2,108.21L211.56,113.5L215.54,111.67L219.2,115.82L222.59,113.54L225.74,113.91L228.69,112.22L231.47,110.42L234.08,107.96L236.55,108.17L238.9,106.87L241.13,109.45L243.26,105.31L245.29,105.84L247.24,103.55L248.64,107.71L250.04,112.17L251.44,113.2L252.84,114.16L254.24,111.27L255.64,113.26L257.04,107.94L258.44,111.43L259.84,112.06L261.24,109.43L262.64,111.93L264.04,111.59L265.44,112.95L266.84,111.66L268.24,115.3L269.64,115.18L271.04,114.84L272.44,114.78L273.84,114.83L275.24,115.13L276.64,120.55L278.04,119.63L279.44,119.08L280.84,119.12L282.24,118.51L283.64,119.35L285.04,119.14L286.44,119.64L287.84,119.45L289.24,119.2L290.64,120.06L292.04,120.32L293.44,121.74L294.84,121.82L296.24,122.41L297.64,122.91L299.04,124.05L300.44,123.95L301.84,123.42L303.24,125.87L304.64,125.79L306.04,126.7L307.44,126.94L308.84,129.7L310.24,129.74L311.64,129.07L313.04,128.62L314.44,129.73L315.84,131L317.24,131.8L318.64,131.3L320.04,132.29L321.44,133.7L322.84,133.77L324.24,133.46L325.64,131.32L327.04,134.47L328.44,136.2L329.84,137.71L331.24,135.99L332.64,137.18L334.04,136.48L335.44,137.69L336.84,138.77L338.24,139.47L339.64,139.71L341.04,139.96L342.44,141.48L343.84,142.01L345.24,142.96L346.64,143.27L348.04,143.42L349.44,145.1L350.84,145.38L352.24,145.7L353.64,145.56L355.04,145.89L356.44,144.99L357.84,146.86L359.24,148.19L360.64,147.1L362.04,147.13L363.44,147.22L364.84,148.02L366.24,148.2L367.64,148.28L369.04,148.6L370.44,148.6L371.84,148.6L373.24,148.6L374.64,148.6L376.5,148.6M101.9,148.6L133.6,177.75L152.14,161.02L165.3,110.58L175.5,91.05L183.84,112.85L190.89,96.18L197,119.59L202.38,122.39L207.2,116.34L211.56,115.4L215.54,115.12L219.2,109.96L222.59,116.4L225.74,112.53L228.69,110.55L231.47,109.23L234.08,108.89L236.55,107.38L238.9,111.22L241.13,111.15L243.26,111.8L245.29,112.16L247.24,111.85L248.64,108.66L250.04,109.81L251.44,108.65L252.84,109.49L254.24,110.91L255.64,110.95L257.04,110.93L258.44,114.13L259.84,114.87L261.24,114.67L262.64,113.48L264.04,112.23L265.44,113.35L266.84,117.23L268.24,114.92L269.64,115.74L271.04,113.88L272.44,114.26L273.84,114.26L275.24,114.75L276.64,115.7L278.04,116.77L279.44,113.88L280.84,115.56L282.24,117.91L283.64,119.47L285.04,118.47L286.44,119.25L287.84,116.9L289.24,118.46L290.64,120.32L292.04,119.51L293.44,119.39L294.84,119.99L296.24,121.73L297.64,123.99L299.04,123.48L300.44,123.97L301.84,124.57L303.24,126.43L304.64,127.12L306.04,127.39L307.44,126.44L308.84,126.21L310.24,127L311.64,131.07L313.04,131.58L314.44,132.28L315.84,131.45L317.24,132.32L318.64,134.27L320.04,134.89L321.44,135.06L322.84,135L324.24,133.45L325.64,134.41L327.04,137.01L328.44,138.5L329.84,139.07L331.24,137.87L332.64,137.65L334.04,137.9L335.44,138.45L336.84,139.11L338.24,139.8L339.64,140.75L341.04,141.11L342.44,141.62L343.84,144.29L345.24,144.68L346.64,145.08L348.04,143.49L349.44,143.67L350.84,143.91L352.24,143.16L353.64,144.08L355.04,144.21L356.44,144.51L357.84,146L359.24,146.31L360.64,146.53L362.04,147.15L363.44,148.06L364.84,148.22L366.24,148.42L367.64,148.59L369.04,148.6L370.44,148.6L371.84,148.6L373.24,148.6L374.64,148.6L376.5,148.6M101.9,148.6L133.6,159.53L152.14,111.79L165.3,114.35L175.5,97.7L183.84,120.97L190.89,97.04L197,121.12L202.38,104.18L207.2,113.48L211.56,111.66L215.54,114.75L219.2,118.86L222.59,120.23L225.74,119.39L228.69,116.38L231.47,118.6L234.08,109.69L236.55,112.91L238.9,114.46L241.13,114.04L243.26,113.24L245.29,112.06L247.24,112.66L248.64,113.24L250.04,111.7L251.44,112.72L252.84,114.14L254.24,111.89L255.64,115.54L257.04,113.98L258.44,116L259.84,111.67L261.24,109.93L262.64,114.76L264.04,116.65L265.44,113.64L266.84,112.33L268.24,111.54L269.64,114.06L271.04,114.02L272.44,114.49L273.84,113.68L275.24,116.02L276.64,115.59L278.04,113.49L279.44,112.92L280.84,116.17L282.24,115.9L283.64,117.55L285.04,119.76L286.44,120.32L287.84,118.53L289.24,117.78L290.64,119.61L292.04,117.45L293.44,120.87L294.84,121.21L296.24,121.87L297.64,124.13L299.04,122.95L300.44,123.2L301.84,122.42L303.24,124.1L304.64,123.13L306.04,123.98L307.44,125.33L308.84,125.39L310.24,125.23L311.64,126.62L313.04,129.67L314.44,130.39L315.84,130.02L317.24,128.99L318.64,131.69L320.04,131.43L321.44,133.91L322.84,133.43L324.24,134.6L325.64,135.74L327.04,134.49L328.44,136.09L329.84,137.13L331.24,138.66L332.64,139.14L334.04,137.61L335.44,137.91L336.84,138.56L338.24,139.65L339.64,137.98L341.04,139.69L342.44,141.37L343.84,141.22L345.24,142.07L346.64,142.46L348.04,143.9L349.44,143.56L350.84,144.19L352.24,146.65L353.64,145.98L355.04,146.81L356.44,146.86L357.84,145.81L359.24,146.51L360.64,146.71L362.04,147.19L363.44,147.41L364.84,147.53L366.24,148.32L367.64,148.46L369.04,148.6L370.44,148.6L371.84,148.6L373.24,148.6L374.64,148.6L376.5,148.6M101.9,148.6L133.6,174.42L152.14,147.04L165.3,97.62L175.5,102.02L183.84,99.8L190.89,112.24L197,94.87L202.38,113.43L207.2,109.39L211.56,108.23L215.54,114.13L219.2,108.16L222.59,106.78L225.74,106.63L228.69,111.37L231.47,110.48L234.08,109.58L236.55,106.49L238.9,108.29L241.13,110.85L243.26,111.48L245.29,111.01L247.24,107.9L248.64,108.78L250.04,110L251.44,106.98L252.84,107.37L254.24,108.75L255.64,111.84L257.04,115.86L258.44,113.27L259.84,116.46L261.24,115.29L262.64,111.96L264.04,112.13L265.44,113.89L266.84,113.91L268.24,112.87L269.64,110.06L271.04,108.41L272.44,113.38L273.84,115.67L275.24,116.96L276.64,116L278.04,117.02L279.44,116.41L280.84,116.36L282.24,119.29L283.64,119.83L285.04,118.24L286.44,120.9L287.84,120.36L289.24,119.91L290.64,120.91L292.04,122.71L293.44,121.3L294.84,121.48L296.24,122.52L297.64,125.44L299.04,125.81L300.44,126.46L301.84,126.27L303.24,126.82L304.64,126.67L306.04,127.82L307.44,127.09L308.84,127.43L310.24,128.08L311.64,129.24L313.04,129.06L314.44,130.26L315.84,130.51L317.24,130.74L318.64,132.44L320.04,132.54L321.44,134.06L322.84,132.11L324.24,132.75L325.64,132.09L327.04,134.61L328.44,137.71L329.84,137.85L331.24,137.84L332.64,137.26L334.04,137.24L335.44,138.39L336.84,138.5L338.24,139.41L339.64,140.89L341.04,141.45L342.44,140.94L343.84,141.53L345.24,141.36L346.64,143L348.04,143.62L349.44,144.3L350.84,144.07L352.24,144.04L353.64,144.75L355.04,145.5L356.44,146.47L357.84,146.04L359.24,146.39L360.64,146.76L362.04,147.38L363.44,147.77L364.84,148.42L366.24,148.51L367.64,148.61L369.04,148.6L370.44,148.6L371.84,148.6L373.24,148.6L374.64,148.6L376.5,148.6M101.9,148.6L133.6,156.24L152.14,119.87L165.3,114.39L175.5,93.42L183.84,126.58L190.89,104.78L197,91.95L202.38,120.56L207.2,125.71L211.56,127.33L215.54,118.51L219.2,109.89L222.59,113.79L225.74,111.64L228.69,110.73L231.47,112.35L234.08,114.15L236.55,113.9L238.9,112.14L241.13,107.81L243.26,110.9L245.29,110.38L247.24,108.64L248.64,112.16L250.04,112.58L251.44,109.69L252.84,111.19L254.24,114.47L255.64,116.53L257.04,111.69L258.44,111.31L259.84,112.91L261.24,114.3L262.64,115.23L264.04,114.57L265.44,111.87L266.84,112.91L268.24,110.45L269.64,112.42L271.04,114.3L272.44,115.61L273.84,114.89L275.24,114.9L276.64,114.78L278.04,113.9L279.44,114.7L280.84,117.87L282.24,117.15L283.64,117.74L285.04,118.96L286.44,118.19L287.84,119.31L289.24,119.22L290.64,119.65L292.04,121.86L293.44,123.36L294.84,124.15L296.24,122.59L297.64,123.33L299.04,123.55L300.44,124.14L301.84,124.38L303.24,123.36L304.64,125.83L306.04,125.62L307.44,126.7L308.84,127.69L310.24,126.35L311.64,127.88L313.04,129.06L314.44,130.99L315.84,131.3L317.24,131.97L318.64,130.95L320.04,132.28L321.44,133.81L322.84,133.56L324.24,134.41L325.64,135.68L327.04,135.2L328.44,136.55L329.84,137.98L331.24,136.95L332.64,137L334.04,135.51L335.44,135.28L336.84,138.74L338.24,140.31L339.64,141.85L341.04,141.25L342.44,141.47L343.84,141.92L345.24,143.25L346.64,143.26L348.04,142.97L349.44,143.3L350.84,143.82L352.24,144.9L353.64,145.2L355.04,144.91L356.44,145.55L357.84,146.45L359.24,147.29L360.64,146.28L362.04,145.64L363.44,146.11L364.84,147.2L366.24,147.83L367.64,148.49L369.04,148.6L370.44,148.6L371.84,148.6L373.24,148.6L374.64,148.6L376.5,148.6M101.9,148.6L133.6,166.14L152.14,144.53L165.3,99.85L175.5,104.4L183.84,121.05L190.89,93.39L197,119.52L202.38,108.74L207.2,114.07L211.56,104.14L215.54,103.62L219.2,109.02L222.59,110.19L225.74,112.22L228.69,112.13L231.47,107.46L234.08,105.86L236.55,106.82L238.9,106.29L241.13,115.15L243.26,112.24L245.29,111.72L247.24,111.7L248.64,105.86L250.04,105.47L251.44,109.93L252.84,108.48L254.24,110.68L255.64,113L257.04,113.51L258.44,112.06L259.84,111.63L261.24,111.26L262.64,115.39L264.04,116.1L265.44,115.36L266.84,116.34L268.24,114.84L269.64,115.22L271.04,113.42L272.44,113.57L273.84,113.49L275.24,112.42L276.64,114.7L278.04,116.08L279.44,117.82L280.84,117.82L282.24,119.28L283.64,119.41L285.04,118.4L286.44,118.76L287.84,119.18L289.24,118.06L290.64,119.82L292.04,120.16L293.44,121.77L294.84,122.38L296.24,122.44L297.64,123.28L299.04,123.58L300.44,124.53L301.84,124.67L303.24,125.05L304.64,126.01L306.04,128.37L307.44,127.87L308.84,127.76L310.24,128.92L311.64,128.02L313.04,128.88L314.44,129.9L315.84,131.47L317.24,132.53L318.64,133.04L320.04,132.85L321.44,132.59L322.84,135.09L324.24,135.95L325.64,137.07L327.04,135.18L328.44,136.66L329.84,138.02L331.24,137.32L332.64,137.55L334.04,137.96L335.44,139.9L336.84,140.85L338.24,140.45L339.64,140.47L341.04,140.82L342.44,141.74L343.84,142.15L345.24,142.06L346.64,142.53L348.04,143.54L349.44,143.44L350.84,144.1L352.24,143.31L353.64,145.11L355.04,145.24L356.44,145.66L357.84,146.65L359.24,146.2L360.64,146.69L362.04,147.14L363.44,147.72L364.84,148.67L366.24,148.62L367.64,148.5L369.04,148.6L370.44,148.6L371.84,148.6L373.24,148.6L374.64,148.6L376.5,148.6M101.9,148.6L133.6,169.67L152.14,145.12L165.3,115.21L175.5,100.86L183.84,120.26L190.89,118.11L197,123.36L202.38,104.13L207.2,112.48L211.56,106.74L215.54,114.19L219.2,116.13L222.59,110.69L225.74,107.35L228.69,111.93L231.47,111.87L234.08,112.21L236.55,110.31L238.9,105.04L241.13,106.31L243.26,107.52L245.29,106.91L247.24,112.29L248.64,108.76L250.04,110.32L251.44,110.96L252.84,108.43L254.24,104.7L255.64,109.81L257.04,111.14L258.44,111.41L259.84,112.16L261.24,113.57L262.64,114.66L264.04,113.1L265.44,114.8L266.84,113.68L268.24,112.91L269.64,113.84L271.04,113.78L272.44,114.44L273.84,115.34L275.24,113.65L276.64,115.36L278.04,117.05L279.44,117.38L280.84,117.54L282.24,117.3L283.64,121L285.04,119.78L286.44,119.6L287.84,118.78L289.24,119.29L290.64,120.62L292.04,121.34L293.44,122.96L294.84,119.68L296.24,120.73L297.64,122.07L299.04,123.51L300.44,124.1L301.84,124.78L303.24,124.99L304.64,127.33L306.04,127.42L307.44,125.52L308.84,125.77L310.24,126.53L311.64,129.44L313.04,126.98L314.44,129.01L315.84,130.5L317.24,131.04L318.64,131.28L320.04,132.3L321.44,131.5L322.84,133.08L324.24,132.61L325.64,134.83L327.04,134.46L328.44,136.01L329.84,136.79L331.24,137.39L332.64,137.2L334.04,137.9L335.44,138.33L336.84,138.79L338.24,140.67L339.64,139.74L341.04,141.14L342.44,139.89L343.84,141.13L345.24,141.7L346.64,143.07L348.04,141.82L349.44,143.1L350.84,143.48L352.24,144.69L353.64,144.03L355.04,145.21L356.44,145.56L357.84,146.09L359.24,147.31L360.64,147.38L362.04,147.49L363.44,147.77L364.84,148.4L366.24,148.19L367.64,148.5L369.04,148.6L370.44,148.6L371.84,148.6L373.24,148.6L374.64,148.6L376.5,148.6M101.9,148.6L133.6,176.17L152.14,156.18L165.3,115.59L175.5,92.15L183.84,115.01L190.89,121.33L197,112.51L202.38,116.93L207.2,116.98L211.56,109.96L215.54,105.15L219.2,107.45L222.59,106.73L225.74,106.78L228.69,107.7L231.47,111.06L234.08,111.52L236.55,108.94L238.9,108.18L241.13,105.07L243.26,103.52L245.29,106.68L247.24,112.95L248.64,108.6L250.04,115.36L251.44,114.88L252.84,117.28L254.24,114.41L255.64,113.21L257.04,117.39L258.44,116.16L259.84,112.67L261.24,110.67L262.64,112.9L264.04,111.32L265.44,109.42L266.84,113.55L268.24,111.26L269.64,113.23L271.04,113.8L272.44,116.04L273.84,117.57L275.24,118.21L276.64,120.66L278.04,117.49L279.44,116.91L280.84,120.63L282.24,117.28L283.64,117.94L285.04,119.04L286.44,117.46L287.84,120.59L289.24,119.37L290.64,120.22L292.04,121.96L293.44,120.69L294.84,119.05L296.24,121.2L297.64,121.66L299.04,124.09L300.44,124.5L301.84,124.67L303.24,123.46L304.64,125.11L306.04,125.35L307.44,127.32L308.84,128.96L310.24,130.19L311.64,131.17L313.04,129.16L314.44,129.84L315.84,131.57L317.24,131.19L318.64,133.71L320.04,134.05L321.44,134.5L322.84,135.65L324.24,134.91L325.64,135.79L327.04,135.61L328.44,136.77L329.84,136.27L331.24,137.65L332.64,138.88L334.04,137.75L335.44,137.97L336.84,137.87L338.24,139.67L339.64,140.58L341.04,140.79L342.44,140.75L343.84,141.32L345.24,143.43L346.64,143.19L348.04,144.89L349.44,145.1L350.84,144.36L352.24,144.09L353.64,143.94L355.04,144.24L356.44,145.73L357.84,144.23L359.24,145.83L360.64,146.12L362.04,147.14L363.44,147.64L364.84,148.11L366.24,148.54L367.64,148.5L369.04,148.6L370.44,148.6L371.84,148.6L373.24,148.6L374.64,148.6L376.5,148.6M101.9,148.6L133.6,169.73L152.14,150.69L165.3,122.42L175.5,81.81L183.84,112.79L190.89,116.57L197,129.01L202.38,116.91L207.2,129.17L211.56,122.99L215.54,112.73L219.2,112.13L222.59,113.36L225.74,120.3L228.69,115.15L231.47,113.56L234.08,118.3L236.55,117.8L238.9,113.56L241.13,112.22L243.26,109.49L245.29,109.55L247.24,108.69L248.64,113.21L250.04,113.32L251.44,111.97L252.84,111.06L254.24,111.41L255.64,109.82L257.04,108.93L258.44,110.77L259.84,111.47L261.24,110.14L262.64,110.87L264.04,108.76L265.44,111.78L266.84,114.24L268.24,114.74L269.64,112.38L271.04,114.21L272.44,115.72L273.84,117.43L275.24,115.1L276.64,117.52L278.04,116.11L279.44,116.5L280.84,116.75L282.24,116.71L283.64,115.92L285.04,117.99L286.44,119.36L287.84,122.16L289.24,121.19L290.64,121.16L292.04,120.73L293.44,122.97L294.84,122.03L296.24,122.23L297.64,123.03L299.04,124.51L300.44,125.3L301.84,125.84L303.24,126.71L304.64,125.6L306.04,125.83L307.44,126.58L308.84,127.51L310.24,128.05L311.64,127.38L313.04,127.53L314.44,128.61L315.84,128.25L317.24,128.98L318.64,131.06L320.04,131.65L321.44,132.81L322.84,134.26L324.24,134.38L325.64,134.78L327.04,135.26L328.44,135.11L329.84,136.13L331.24,136.22L332.64,138.68L334.04,139.02L335.44,139.59L336.84,140.98L338.24,141.08L339.64,140.98L341.04,140.46L342.44,140.98L343.84,142.48L345.24,141.9L346.64,142.53L348.04,140.96L349.44,141.32L350.84,144.51L352.24,145.47L353.64,144.54L355.04,144.85L356.44,144.58L357.84,145.18L359.24,146L360.64,145.54L362.04,146.97L363.44,146.95L364.84,147.29L366.24,148L367.64,148.45L369.04,148.6L370.44,148.6L371.84,148.6L373.24,148.6L374.64,148.6L376.5,148.6M101.9,148.6L133.6,157.25L152.14,109.96L165.3,85.18L175.5,103.82L183.84,100.27L190.89,118.58L197,87.08L202.38,116.07L207.2,114.77L211.56,114.23L215.54,115.03L219.2,118.14L222.59,114.76L225.74,112.47L228.69,108.52L231.47,108.69L234.08,107.03L236.55,104.21L238.9,107.82L241.13,109.23L243.26,108.22L245.29,109.44L247.24,107.4L248.64,112.2L250.04,111.73L251.44,109.54L252.84,111.53L254.24,112.34L255.64,110.94L257.04,109.62L258.44,113.7L259.84,113.54L261.24,113.13L262.64,114.4L264.04,114.72L265.44,112.89L266.84,114.05L268.24,111.25L269.64,111.88L271.04,112.9L272.44,114.58L273.84,114.3L275.24,113.85L276.64,115.36L278.04,118.84L279.44,119.45L280.84,120.95L282.24,120.27L283.64,119.16L285.04,121.11L286.44,120.71L287.84,118.33L289.24,118.54L290.64,120.17L292.04,121.61L293.44,122.79L294.84,122.01L296.24,123.47L297.64,123.77L299.04,125.65L300.44,125.62L301.84,125.45L303.24,125.81L304.64,127.61L306.04,128.66L307.44,128.66L308.84,129.13L310.24,129.32L311.64,129.8L313.04,129.06L314.44,131.52L315.84,131.17L317.24,130.19L318.64,131.06L320.04,130.33L321.44,131.77L322.84,132.67L324.24,133.46L325.64,134.18L327.04,134.76L328.44,135.74L329.84,135.94L331.24,136.72L332.64,137.84L334.04,138.56L335.44,139.32L336.84,141.19L338.24,139.92L339.64,141.1L341.04,140.98L342.44,139.67L343.84,140.97L345.24,141.87L346.64,141.89L348.04,143.23L349.44,142.82L350.84,143.64L352.24,144.99L353.64,145.17L355.04,145.92L356.44,146.67L357.84,147.17L359.24,147.23L360.64,146.51L362.04,146.89L363.44,148L364.84,147.93L366.24,148.14L367.64,148.41L369.04,148.6L370.44,148.6L371.84,148.6L373.24,148.6L374.64,148.6L376.5,148.6M101.9,148.6L133.6,157.21L152.14,95.64L165.3,108.51L175.5,102.35L183.84,132.48L190.89,125.07L197,134.12L202.38,108.87L207.2,114.76L211.56,110.01L215.54,107.67L219.2,107.51L222.59,112.65L225.74,116.27L228.69,113.02L231.47,113.08L234.08,109.64L236.55,108.07L238.9,106.73L241.13,107.26L243.26,108.78L245.29,112.2L247.24,109.05L248.64,106.87L250.04,107.38L251.44,112.08L252.84,114.57L254.24,113.38L255.64,110.96L257.04,112.62L258.44,112.37L259.84,108.91L261.24,108.91L262.64,110.86L264.04,111.34L265.44,112.92L266.84,115.4L268.24,112.19L269.64,110.9L271.04,115.08L272.44,115.11L273.84,114.45L275.24,115.16L276.64,115.34L278.04,115.33L279.44,117.03L280.84,121.71L282.24,119.82L283.64,118.48L285.04,119.59L286.44,119.2L287.84,119.21L289.24,120.49L290.64,119.84L292.04,122.95L293.44,121.7L294.84,121.43L296.24,122.5L297.64,122.94L299.04,123.78L300.44,123.71L301.84,124.7L303.24,126.38L304.64,125.46L306.04,127.47L307.44,126.6L308.84,126.51L310.24,127.92L311.64,128.68L313.04,129.24L314.44,131.45L315.84,132.24L317.24,131.83L318.64,132.15L320.04,132.82L321.44,133.8L322.84,134.17L324.24,134.64L325.64,136.47L327.04,135.29L328.44,135.7L329.84,135.61L331.24,135.9L332.64,137.16L334.04,137.73L335.44,137.52L336.84,137.33L338.24,138.48L339.64,139.74L341.04,140.43L342.44,139.82L343.84,141.04L345.24,139.8L346.64,141.74L348.04,142.06L349.44,143.42L350.84,144.32L352.24,144.21L353.64,144.69L355.04,144.67L356.44,145.1L357.84,145.64L359.24,146.37L360.64,146.75L362.04,147.46L363.44,147.46L364.84,148.15L366.24,148.1L367.64,148.5L369.04,148.6L370.44,148.6L371.84,148.6L373.24,148.6L374.64,148.6L376.5,148.6M101.9,148.6L133.6,175.54L152.14,156.08L165.3,99.63L175.5,101.61L183.84,106.21L190.89,119.35L197,124.44L202.38,108.06L207.2,118.39L211.56,112.55L215.54,118.69L219.2,124.58L222.59,110.63L225.74,107.56L228.69,109.78L231.47,110.14L234.08,108.06L236.55,110.11L238.9,109.46L241.13,106.2L243.26,111.56L245.29,112.81L247.24,115L248.64,113.56L250.04,112.88L251.44,110.61L252.84,112.03L254.24,109.38L255.64,109.71L257.04,110.72L258.44,109.91L259.84,111.16L261.24,110.71L262.64,113.15L264.04,107.71L265.44,115.01L266.84,112.05L268.24,111.7L269.64,118.1L271.04,118.38L272.44,116.72L273.84,117.78L275.24,116.13L276.64,118.05L278.04,116.34L279.44,116.32L280.84,117.84L282.24,118.52L283.64,117.89L285.04,119.42L286.44,120.15L287.84,118.4L289.24,118.2L290.64,119.09L292.04,120.23L293.44,120.8L294.84,121.96L296.24,124.07L297.64,122.8L299.04,123.53L300.44,124.67L301.84,124.44L303.24,124.95L304.64,123.5L306.04,124.6L307.44,122.97L308.84,124.91L310.24,126.4L311.64,128.23L313.04,127.89L314.44,128.48L315.84,129.68L317.24,131.76L318.64,134.51L320.04,135.04L321.44,135L322.84,135.68L324.24,136.25L325.64,135.6L327.04,135.17L328.44,135.36L329.84,135.47L331.24,136.22L332.64,134.04L334.04,136.49L335.44,137.92L336.84,138L338.24,139.15L339.64,140.62L341.04,140.76L342.44,141.89L343.84,141.91L345.24,141.12L346.64,141.38L348.04,141.22L349.44,140.87L350.84,143.69L352.24,143.82L353.64,144.23L355.04,144.24L356.44,145.24L357.84,146.09L359.24,146.67L360.64,146.59L362.04,147.42L363.44,147.62L364.84,148L366.24,148.33L367.64,148.43L369.04,148.6L370.44,148.6L371.84,148.6L373.24,148.6L374.64,148.6L376.5,148.6M101.9,148.6L133.6,169.27L152.14,146.53L165.3,105.23L175.5,90.07L183.84,115.82L190.89,120.57L197,116.96L202.38,105.61L207.2,122.81L211.56,127.48L215.54,124.93L219.2,121.71L222.59,114.15L225.74,105.14L228.69,107.42L231.47,112.21L234.08,108.61L236.55,111.96L238.9,112.61L241.13,114.7L243.26,113.34L245.29,113.93L247.24,109.92L248.64,111.28L250.04,111.68L251.44,113.83L252.84,113.34L254.24,112.56L255.64,113.33L257.04,111.99L258.44,110.68L259.84,111.48L261.24,112.13L262.64,108.81L264.04,112.57L265.44,112.23L266.84,115.08L268.24,111.76L269.64,112.47L271.04,112.72L272.44,113.73L273.84,116.69L275.24,115.13L276.64,116.66L278.04,118.03L279.44,117.02L280.84,117.79L282.24,119.68L283.64,119.89L285.04,117.38L286.44,118.55L287.84,119.06L289.24,118.11L290.64,119.6L292.04,120.34L293.44,117.71L294.84,117.93L296.24,121.59L297.64,123.11L299.04,123.93L300.44,125.6L301.84,125.45L303.24,124.92L304.64,125.4L306.04,127.46L307.44,127.78L308.84,129.47L310.24,131.03L311.64,129.35L313.04,130.28L314.44,130.94L315.84,132.08L317.24,130.26L318.64,131.38L320.04,132.55L321.44,132.38L322.84,133.29L324.24,132.1L325.64,130.93L327.04,134.15L328.44,134.64L329.84,136.1L331.24,137.12L332.64,137.81L334.04,139.36L335.44,140.54L336.84,139.61L338.24,140.79L339.64,141.52L341.04,142.21L342.44,141.62L343.84,142.9L345.24,143.08L346.64,141.87L348.04,142.49L349.44,143.26L350.84,142.96L352.24,144.34L353.64,144.44L355.04,145.07L356.44,146.32L357.84,145.56L359.24,145.92L360.64,146.23L362.04,147.13L363.44,147.7L364.84,147.93L366.24,148.36L367.64,148.41L369.04,148.6L370.44,148.6L371.84,148.6L373.24,148.6L374.64,148.6L376.5,148.6M101.9,148.6L133.6,168.86L152.14,149.85L165.3,102.15L175.5,101.7L183.84,121.73L190.89,124.07L197,115.85L202.38,105.56L207.2,122.54L211.56,112.57L215.54,117.99L219.2,117.34L222.59,119.06L225.74,115.97L228.69,113.25L231.47,112.52L234.08,107.19L236.55,112.61L238.9,112.13L241.13,111.17L243.26,113.34L245.29,111.42L247.24,112.56L248.64,111.01L250.04,112.38L251.44,113.37L252.84,110.74L254.24,112.53L255.64,110.57L257.04,109.36L258.44,111.54L259.84,113.6L261.24,111.78L262.64,111.64L264.04,111.83L265.44,114.86L266.84,115.58L268.24,113.53L269.64,112.27L271.04,115.74L272.44,116.51L273.84,114.46L275.24,111.6L276.64,114.67L278.04,115.32L279.44,119.31L280.84,116.96L282.24,119.27L283.64,120.8L285.04,118.6L286.44,118.18L287.84,117.54L289.24,118.91L290.64,121.25L292.04,120.63L293.44,118.84L294.84,121.51L296.24,122.42L297.64,122.84L299.04,123.56L300.44,123.85L301.84,125.57L303.24,124.7L304.64,126.64L306.04,126.29L307.44,129.79L308.84,129.84L310.24,129.25L311.64,128.43L313.04,129.63L314.44,129.16L315.84,132.77L317.24,131.49L318.64,131.45L320.04,129.84L321.44,131.52L322.84,133.52L324.24,133.49L325.64,134.96L327.04,135.07L328.44,135.33L329.84,136.3L331.24,135.83L332.64,135.84L334.04,137.22L335.44,139.01L336.84,140.44L338.24,140.57L339.64,141.75L341.04,142.35L342.44,142.41L343.84,142.27L345.24,142.62L346.64,142.72L348.04,144.61L349.44,144.58L350.84,143.92L352.24,142.83L353.64,145.13L355.04,144.87L356.44,145.49L357.84,145.83L359.24,146.24L360.64,146.65L362.04,147.21L363.44,147.67L364.84,148.47L366.24,148.6L367.64,148.55L369.04,148.6L370.44,148.6L371.84,148.6L373.24,148.6L374.64,148.6L376.5,148.6M101.9,148.6L133.6,170.96L152.14,146.55L165.3,104.19L175.5,89.11L183.84,113.56L190.89,92.34L197,111.01L202.38,105.85L207.2,118.17L211.56,102L215.54,107.69L219.2,110.44L222.59,110.71L225.74,110.48L228.69,112.39L231.47,109.15L234.08,109.77L236.55,113.11L238.9,112.4L241.13,112.08L243.26,108.5L245.29,111.45L247.24,109.82L248.64,113.44L250.04,110.89L251.44,114.26L252.84,116.02L254.24,117.42L255.64,116.9L257.04,115.07L258.44,114.45L259.84,114.31L261.24,114.23L262.64,110.55L264.04,109.22L265.44,108.76L266.84,112.4L268.24,114.53L269.64,110.88L271.04,110.54L272.44,112.84L273.84,116.55L275.24,118.01L276.64,120.45L278.04,118.75L279.44,117.81L280.84,118.71L282.24,118.29L283.64,117.61L285.04,119.86L286.44,119.82L287.84,120.71L289.24,119.58L290.64,119.85L292.04,119.67L293.44,119.92L294.84,121.55L296.24,121.86L297.64,122.96L299.04,123.26L300.44,123.29L301.84,124.56L303.24,125.2L304.64,126.71L306.04,127.53L307.44,126.86L308.84,125.04L310.24,128L311.64,128.64L313.04,129.68L314.44,129.86L315.84,129.21L317.24,129.53L318.64,130.04L320.04,132.13L321.44,132.85L322.84,133.1L324.24,133.75L325.64,134.58L327.04,134.97L328.44,136.08L329.84,138.35L331.24,138.55L332.64,137.48L334.04,138.25L335.44,137.93L336.84,138.94L338.24,139.04L339.64,140.15L341.04,142.63L342.44,143.42L343.84,143.49L345.24,143.99L346.64,143.15L348.04,143.74L349.44,144.04L350.84,145.03L352.24,145.28L353.64,145L355.04,145.99L356.44,146.19L357.84,145.65L359.24,146.33L360.64,146.49L362.04,147.03L363.44,147.16L364.84,147.61L366.24,147.93L367.64,148.51L369.04,148.6L370.44,148.6L371.84,148.6L373.24,148.6L374.64,148.6L376.5,148.6M101.9,148.6L133.6,146.73L152.14,106.04L165.3,84.92L175.5,107.4L183.84,123.19L190.89,110.29L197,104.87L202.38,104.96L207.2,115.17L211.56,125.06L215.54,118.66L219.2,114.52L222.59,109.67L225.74,111.29L228.69,112.01L231.47,106.11L234.08,105.91L236.55,105.9L238.9,106.82L241.13,107.6L243.26,108.55L245.29,112.22L247.24,110.58L248.64,108.2L250.04,110.96L251.44,106.21L252.84,105.85L254.24,110.1L255.64,112.01L257.04,108.7L258.44,109.31L259.84,109.25L261.24,109.14L262.64,112.58L264.04,112.58L265.44,115.71L266.84,114.79L268.24,112.88L269.64,113.53L271.04,114.24L272.44,116.88L273.84,116.19L275.24,115.19L276.64,118.98L278.04,119.19L279.44,116.36L280.84,114.78L282.24,115.47L283.64,115.84L285.04,115.5L286.44,114.97L287.84,117.71L289.24,118.27L290.64,121.01L292.04,120.84L293.44,120.83L294.84,119.29L296.24,122.44L297.64,123.39L299.04,124.91L300.44,125.16L301.84,125.24L303.24,126.48L304.64,126.88L306.04,126.94L307.44,126.71L308.84,128.41L310.24,128.45L311.64,129.35L313.04,128.24L314.44,130.68L315.84,129.86L317.24,129.18L318.64,130.87L320.04,130.18L321.44,132.59L322.84,133.46L324.24,133.39L325.64,133.81L327.04,134.13L328.44,136.14L329.84,137.27L331.24,136.95L332.64,135.55L334.04,137.35L335.44,138.7L336.84,139.01L338.24,138.71L339.64,137.87L341.04,139.88L342.44,138.41L343.84,140.27L345.24,142.44L346.64,143.48L348.04,143.5L349.44,144.88L350.84,145.57L352.24,144.3L353.64,145.35L355.04,145.1L356.44,145.62L357.84,145.98L359.24,147.19L360.64,146.76L362.04,147.42L363.44,147.43L364.84,147.38L366.24,148.12L367.64,148.52L369.04,148.6L370.44,148.6L371.84,148.6L373.24,148.6L374.64,148.6L376.5,148.6M101.9,148.6L133.6,169.83L152.14,151.26L165.3,114.9L175.5,102.42L183.84,138.34L190.89,123.31L197,115.88L202.38,109.23L207.2,117L211.56,108.76L215.54,112.95L219.2,118.14L222.59,112.79L225.74,110.26L228.69,108.45L231.47,107.34L234.08,110.83L236.55,111.37L238.9,109.45L241.13,109.48L243.26,105.93L245.29,107.55L247.24,111.07L248.64,110.96L250.04,112.25L251.44,111.63L252.84,107.02L254.24,112.7L255.64,109.88L257.04,111.25L258.44,109.75L259.84,109.75L261.24,112.29L262.64,111.79L264.04,111.03L265.44,115.4L266.84,113.24L268.24,113.31L269.64,116.67L271.04,115.17L272.44,119.61L273.84,119.43L275.24,118.09L276.64,117.82L278.04,118.66L279.44,119.01L280.84,116.42L282.24,119.71L283.64,118.46L285.04,118.31L286.44,119.98L287.84,118.39L289.24,120.53L290.64,120.3L292.04,121.09L293.44,123.19L294.84,125.09L296.24,121.55L297.64,122.32L299.04,122.07L300.44,123.51L301.84,124.98L303.24,126.36L304.64,127.92L306.04,125.47L307.44,127.99L308.84,127.92L310.24,128.01L311.64,128.68L313.04,127.87L314.44,128.78L315.84,131.13L317.24,133L318.64,134.23L320.04,133.92L321.44,132.57L322.84,133.03L324.24,132.56L325.64,132.76L327.04,134.15L328.44,135.81L329.84,136.13L331.24,137.33L332.64,137.54L334.04,137.92L335.44,137.31L336.84,138.11L338.24,140.29L339.64,140.55L341.04,140.27L342.44,139.39L343.84,139.54L345.24,140.57L346.64,142L348.04,142.51L349.44,143.44L350.84,143.52L352.24,144.82L353.64,145.05L355.04,145.47L356.44,145.43L357.84,144.43L359.24,145.97L360.64,146.46L362.04,147.11L363.44,146.87L364.84,147.06L366.24,148.12L367.64,148.54L369.04,148.6L370.44,148.6L371.84,148.6L373.24,148.6L374.64,148.6L376.5,148.6M101.9,148.6L133.6,152.52L152.14,93.85L165.3,115.26L175.5,102.46L183.84,117.87L190.89,117.51L197,90.87L202.38,120.68L207.2,106.07L211.56,107.04L215.54,108.75L219.2,107.95L222.59,104.38L225.74,105.7L228.69,106.62L231.47,107.27L234.08,109.45L236.55,112.54L238.9,113.1L241.13,109.96L243.26,108.11L245.29,108.1L247.24,110.91L248.64,109.15L250.04,111.99L251.44,111.07L252.84,110.36L254.24,113.5L255.64,111.52L257.04,113.18L258.44,115.79L259.84,113.72L261.24,113.18L262.64,114.49L264.04,113.94L265.44,112.93L266.84,112.3L268.24,112.57L269.64,112.4L271.04,113.62L272.44,114.33L273.84,117.85L275.24,117.33L276.64,116.5L278.04,118.05L279.44,117.17L280.84,116.09L282.24,117.16L283.64,117.52L285.04,118.48L286.44,118.72L287.84,118.45L289.24,118.86L290.64,119.92L292.04,121.17L293.44,122.38L294.84,122.17L296.24,122.83L297.64,123.96L299.04,126L300.44,126.24L301.84,124.66L303.24,126.78L304.64,128.11L306.04,126.14L307.44,126.91L308.84,128.22L310.24,128.9L311.64,128.79L313.04,130.03L314.44,131.4L315.84,131.82L317.24,132.37L318.64,132.61L320.04,132.2L321.44,133.45L322.84,134.09L324.24,134.64L325.64,135.67L327.04,134.66L328.44,135.76L329.84,137.48L331.24,137.79L332.64,137.36L334.04,137.96L335.44,137.38L336.84,138.69L338.24,139.68L339.64,140.05L341.04,140.99L342.44,142.51L343.84,141.56L345.24,142.25L346.64,144.55L348.04,143.15L349.44,144.62L350.84,145.09L352.24,145.77L353.64,145.84L355.04,146.27L356.44,146.76L357.84,146.31L359.24,146.35L360.64,145.9L362.04,147.12L363.44,147.73L364.84,148.21L366.24,148.38L367.64,148.51L369.04,148.6L370.44,148.6L371.84,148.6L373.24,148.6L374.64,148.6L376.5,148.6M101.9,148.6L133.6,143.59L152.14,98.37L165.3,112.13L175.5,93.85L183.84,123.51L190.89,94.05L197,125.97L202.38,113.16L207.2,111.88L211.56,112.71L215.54,121.33L219.2,118.42L222.59,109.08L225.74,106.43L228.69,105.71L231.47,104.79L234.08,105.02L236.55,107.87L238.9,111.27L241.13,112.07L243.26,108.78L245.29,113.71L247.24,117.12L248.64,115.62L250.04,112.35L251.44,113.04L252.84,111.17L254.24,109.73L255.64,110.59L257.04,111.96L258.44,113.01L259.84,113.65L261.24,112.46L262.64,111.94L264.04,110.96L265.44,111.47L266.84,113.11L268.24,113.39L269.64,114.77L271.04,114.11L272.44,117.14L273.84,116.41L275.24,114.59L276.64,115.96L278.04,116.96L279.44,119.54L280.84,116.74L282.24,116.8L283.64,117.39L285.04,117.42L286.44,120.3L287.84,120.75L289.24,119.08L290.64,120.42L292.04,122.78L293.44,122.57L294.84,124.41L296.24,122.57L297.64,124.11L299.04,124.34L300.44,124.79L301.84,124.69L303.24,125.19L304.64,125.88L306.04,125.96L307.44,126.72L308.84,125.77L310.24,127.85L311.64,127.96L313.04,127.3L314.44,128.83L315.84,129.62L317.24,131.11L318.64,131.24L320.04,132.11L321.44,132.72L322.84,132.76L324.24,133.26L325.64,135.09L327.04,135.21L328.44,135.76L329.84,135.33L331.24,136.66L332.64,137.4L334.04,137.35L335.44,138.28L336.84,138.98L338.24,139.51L339.64,138.14L341.04,140.46L342.44,140.69L343.84,141.57L345.24,142.41L346.64,142.95L348.04,142.56L349.44,142.53L350.84,143.73L352.24,144.27L353.64,143.72L355.04,145.01L356.44,143.79L357.84,144.96L359.24,146.17L360.64,146.75L362.04,146.79L363.44,147.95L364.84,148.27L366.24,148.29L367.64,148.5L369.04,148.6L370.44,148.6L371.84,148.6L373.24,148.6L374.64,148.6L376.5,148.6M101.9,148.6L133.6,166.33L152.14,119.05L165.3,119.84L175.5,90.13L183.84,118.31L190.89,92.3L197,115.89L202.38,111.62L207.2,122.73L211.56,109.09L215.54,108.31L219.2,113L222.59,114.65L225.74,115.61L228.69,116.14L231.47,111.55L234.08,109.74L236.55,105.68L238.9,105.29L241.13,107.94L243.26,108.16L245.29,105.95L247.24,109.6L248.64,108.56L250.04,111.33L251.44,109.48L252.84,110.47L254.24,109.09L255.64,109.2L257.04,115.69L258.44,113.61L259.84,111.72L261.24,113.55L262.64,112.14L264.04,109.83L265.44,111.66L266.84,113.21L268.24,111.47L269.64,115.8L271.04,115.58L272.44,116.9L273.84,116.81L275.24,115.17L276.64,119.51L278.04,121.01L279.44,117.75L280.84,117.02L282.24,117.4L283.64,118.08L285.04,117.59L286.44,118.62L287.84,118.52L289.24,119.7L290.64,121.4L292.04,121.82L293.44,121.98L294.84,123.04L296.24,122.3L297.64,122.74L299.04,123.09L300.44,123.03L301.84,123.19L303.24,122.79L304.64,125.06L306.04,127.34L307.44,129.87L308.84,129.29L310.24,130.24L311.64,129.9L313.04,130.07L314.44,129.36L315.84,130.46L317.24,129.96L318.64,131.87L320.04,133.86L321.44,134.97L322.84,134.78L324.24,135.12L325.64,136.25L327.04,135.18L328.44,135.84L329.84,135.28L331.24,136.84L332.64,138.28L334.04,137.94L335.44,138.16L336.84,137.98L338.24,138.9L339.64,140.16L341.04,140.16L342.44,142.25L343.84,142.49L345.24,142.77L346.64,144.15L348.04,142.77L349.44,143.24L350.84,145.14L352.24,145.83L353.64,145.16L355.04,144.71L356.44,144.81L357.84,146.12L359.24,146.01L360.64,145.73L362.04,146.81L363.44,147.52L364.84,148.21L366.24,148.31L367.64,148.56L369.04,148.6L370.44,148.6L371.84,148.6L373.24,148.6L374.64,148.6L376.5,148.6M101.9,148.6L133.6,166.19L152.14,110.28L165.3,98L175.5,108.76L183.84,108.03L190.89,116.55L197,121.59L202.38,116.03L207.2,108.72L211.56,117.64L215.54,120.15L219.2,122.68L222.59,117.79L225.74,108.51L228.69,110.72L231.47,106.22L234.08,111.61L236.55,111.71L238.9,115.36L241.13,115L243.26,112.72L245.29,111.49L247.24,115.35L248.64,114.76L250.04,115.83L251.44,117.14L252.84,117.16L254.24,116.36L255.64,113.7L257.04,114.88L258.44,111.44L259.84,114.41L261.24,114.65L262.64,116.12L264.04,116.13L265.44,116.57L266.84,115.21L268.24,113.69L269.64,115.15L271.04,115.4L272.44,117.21L273.84,114.52L275.24,116.72L276.64,116.55L278.04,116.82L279.44,118.93L280.84,119.47L282.24,120.16L283.64,119.14L285.04,119.75L286.44,120.73L287.84,121.24L289.24,123.5L290.64,123.19L292.04,120.95L293.44,122.75L294.84,122.91L296.24,125.81L297.64,124.58L299.04,125.54L300.44,124.42L301.84,125.46L303.24,128.4L304.64,126.94L306.04,126.47L307.44,126.52L308.84,127.58L310.24,127.8L311.64,127.56L313.04,126.98L314.44,125.97L315.84,129.56L317.24,131.77L318.64,131.66L320.04,132.62L321.44,133.76L322.84,133.98L324.24,133.88L325.64,133.71L327.04,134.75L328.44,134.76L329.84,136.11L331.24,136.66L332.64,138.21L334.04,138.48L335.44,139.39L336.84,140.2L338.24,140.14L339.64,141.19L341.04,141.28L342.44,140.65L343.84,141.72L345.24,141.83L346.64,142.31L348.04,143.83L349.44,144.7L350.84,144.8L352.24,144.53L353.64,144.89L355.04,145.6L356.44,146.59L357.84,146.76L359.24,148.21L360.64,146.56L362.04,147.15L363.44,147.62L364.84,148.12L366.24,148.1L367.64,148.4L369.04,148.6L370.44,148.6L371.84,148.6L373.24,148.6L374.64,148.6L376.5,148.6M101.9,148.6L133.6,167.89L152.14,141.85L165.3,95.67L175.5,106.37L183.84,109.11L190.89,104.04L197,110.42L202.38,107.69L207.2,116.08L211.56,113.12L215.54,115.55L219.2,119.31L222.59,120.73L225.74,117.82L228.69,114.47L231.47,109.87L234.08,109.01L236.55,111.21L238.9,112.51L241.13,113.37L243.26,110.16L245.29,110.77L247.24,109.09L248.64,107.2L250.04,108.6L251.44,110.02L252.84,109.63L254.24,107.84L255.64,112.71L257.04,110.74L258.44,112.97L259.84,113.05L261.24,113.97L262.64,115.12L264.04,114.41L265.44,112.4L266.84,111.82L268.24,113.81L269.64,112.53L271.04,113.89L272.44,113.63L273.84,110.1L275.24,113.7L276.64,117.06L278.04,119.87L279.44,120.57L280.84,118.33L282.24,116.86L283.64,117.75L285.04,118.55L286.44,117.2L287.84,120.44L289.24,120.09L290.64,118.52L292.04,119.15L293.44,121.29L294.84,122.32L296.24,123.09L297.64,123.6L299.04,125.7L300.44,125.17L301.84,125.5L303.24,128.23L304.64,128.89L306.04,128.12L307.44,127.2L308.84,129.05L310.24,129.64L311.64,130.64L313.04,130.61L314.44,130.73L315.84,131.34L317.24,132.01L318.64,132.67L320.04,130.71L321.44,132.09L322.84,133.51L324.24,134.41L325.64,134.24L327.04,135.4L328.44,135.99L329.84,135.85L331.24,135.52L332.64,137.36L334.04,137.89L335.44,138.73L336.84,139.83L338.24,139.49L339.64,139.8L341.04,140.4L342.44,141.01L343.84,141.39L345.24,141.4L346.64,144L348.04,142.96L349.44,143.21L350.84,143.07L352.24,145.42L353.64,144.58L355.04,145.21L356.44,147.43L357.84,146.67L359.24,145.73L360.64,144.88L362.04,146.45L363.44,147.4L364.84,147.87L366.24,148.56L367.64,148.6L369.04,148.6L370.44,148.6L371.84,148.6L373.24,148.6L374.64,148.6L376.5,148.6M101.9,148.6L133.6,152.68L152.14,99.25L165.3,111.81L175.5,97.97L183.84,99.7L190.89,115.88L197,105.17L202.38,117.26L207.2,132L211.56,113.03L215.54,114.45L219.2,111.19L222.59,110.12L225.74,109.53L228.69,109.57L231.47,110.22L234.08,110.91L236.55,106.6L238.9,103.93L241.13,107.69L243.26,106.49L245.29,106.3L247.24,107.01L248.64,105.85L250.04,110.69L251.44,105.33L252.84,107.61L254.24,107.78L255.64,110.56L257.04,110.81L258.44,110.98L259.84,111.7L261.24,110.94L262.64,113.61L264.04,113.79L265.44,116.04L266.84,113.76L268.24,113.32L269.64,111.68L271.04,111.74L272.44,114.86L273.84,115.62L275.24,115.32L276.64,115.45L278.04,115.94L279.44,116.83L280.84,116.14L282.24,118.76L283.64,118.26L285.04,118.31L286.44,118.06L287.84,118.64L289.24,119.95L290.64,120.74L292.04,118.97L293.44,121.22L294.84,121.79L296.24,121.48L297.64,122.83L299.04,122.94L300.44,124.09L301.84,123.85L303.24,123.18L304.64,122.63L306.04,125.3L307.44,126.01L308.84,127.26L310.24,127.67L311.64,128.37L313.04,128.06L314.44,128.69L315.84,130.06L317.24,129.05L318.64,131.1L320.04,132.05L321.44,133.05L322.84,133.45L324.24,131.32L325.64,135.56L327.04,136.52L328.44,135.21L329.84,137.25L331.24,135.93L332.64,135.39L334.04,136.29L335.44,138.18L336.84,139.2L338.24,140.85L339.64,141.72L341.04,141.38L342.44,141.78L343.84,142.39L345.24,142.56L346.64,143.77L348.04,145.45L349.44,145.44L350.84,145.48L352.24,145.18L353.64,145.22L355.04,145.82L356.44,145.38L357.84,146.1L359.24,146.61L360.64,146.75L362.04,147.15L363.44,147.19L364.84,147.52L366.24,147.91L367.64,148.22L369.04,148.6L370.44,148.6L371.84,148.6L373.24,148.6L374.64,148.6L376.5,148.6M101.9,148.6L133.6,169.53L152.14,117.64L165.3,120.4L175.5,105.39L183.84,114.76L190.89,120.78L197,122.55L202.38,119.93L207.2,96.4L211.56,104.86L215.54,113.32L219.2,117.17L222.59,113.75L225.74,108.21L228.69,110.71L231.47,109.64L234.08,112.2L236.55,109.93L238.9,116.81L241.13,114.6L243.26,114.88L245.29,112.37L247.24,108.84L248.64,107.2L250.04,109.29L251.44,110.88L252.84,109.87L254.24,111.76L255.64,114.12L257.04,115.16L258.44,114.43L259.84,114.44L261.24,115.22L262.64,116.25L264.04,116.62L265.44,115.54L266.84,115.55L268.24,113.58L269.64,113.04L271.04,112.27L272.44,113.23L273.84,112.71L275.24,116.37L276.64,116.57L278.04,116.92L279.44,114.22L280.84,115.3L282.24,115.57L283.64,118.37L285.04,119.89L286.44,119.03L287.84,118.18L289.24,115.87L290.64,119.3L292.04,120.43L293.44,119.88L294.84,121.95L296.24,125.25L297.64,123.9L299.04,124.97L300.44,126.42L301.84,126.82L303.24,128.63L304.64,126.52L306.04,125.77L307.44,127.48L308.84,127.05L310.24,129.34L311.64,128.23L313.04,129.01L314.44,129.58L315.84,130.7L317.24,130.78L318.64,131.15L320.04,131.35L321.44,131.86L322.84,134.72L324.24,135.12L325.64,137.26L327.04,136.71L328.44,135.72L329.84,137.37L331.24,136.38L332.64,136.98L334.04,137.26L335.44,137.46L336.84,138.97L338.24,138.31L339.64,139.35L341.04,139.74L342.44,139.22L343.84,141.34L345.24,142.04L346.64,142.49L348.04,142.96L349.44,143.41L350.84,143.93L352.24,144.85L353.64,145.47L355.04,146.01L356.44,146.03L357.84,144.57L359.24,146.39L360.64,146.86L362.04,148.02L363.44,147.13L364.84,147.71L366.24,148.24L367.64,148.47L369.04,148.6L370.44,148.6L371.84,148.6L373.24,148.6L374.64,148.6L376.5,148.6M101.9,148.6L133.6,157.87L152.14,134.51L165.3,110.27L175.5,113.7L183.84,128.59L190.89,99.77L197,118.47L202.38,103.67L207.2,113.82L211.56,115.97L215.54,119.38L219.2,116.12L222.59,104.7L225.74,105.7L228.69,109.21L231.47,109.07L234.08,108.46L236.55,108.83L238.9,111.65L241.13,114.17L243.26,111.37L245.29,112.29L247.24,110.9L248.64,109.03L250.04,110.08L251.44,110.63L252.84,103.71L254.24,104.09L255.64,109.04L257.04,109.89L258.44,108.05L259.84,109.44L261.24,109.72L262.64,112.32L264.04,112.63L265.44,114.49L266.84,117.41L268.24,117.33L269.64,117.79L271.04,114.18L272.44,115.32L273.84,114.21L275.24,113.56L276.64,115.24L278.04,117.35L279.44,118.32L280.84,118.57L282.24,116.05L283.64,118.09L285.04,118.27L286.44,115.91L287.84,117.5L289.24,118.83L290.64,119.04L292.04,121.9L293.44,121.39L294.84,122.1L296.24,122.19L297.64,123.1L299.04,123.2L300.44,123.82L301.84,124.25L303.24,124.77L304.64,124.84L306.04,127.63L307.44,128.32L308.84,127.5L310.24,126.81L311.64,127.59L313.04,128.74L314.44,128.96L315.84,129.7L317.24,131.07L318.64,132.39L320.04,133.01L321.44,133.27L322.84,130.38L324.24,132.24L325.64,134.93L327.04,135.01L328.44,136.04L329.84,136.91L331.24,137.4L332.64,137.88L334.04,137.4L335.44,139.06L336.84,139.37L338.24,140.69L339.64,139.92L341.04,140.53L342.44,141.05L343.84,143.36L345.24,143.1L346.64,142.87L348.04,144.35L349.44,143.63L350.84,142.96L352.24,144.43L353.64,144.96L355.04,144.74L356.44,145.45L357.84,145.94L359.24,147.59L360.64,148.11L362.04,147.97L363.44,147.73L364.84,148.31L366.24,148.35L367.64,148.43L369.04,148.6L370.44,148.6L371.84,148.6L373.24,148.6L374.64,148.6L376.5,148.6M101.9,148.6L133.6,137.66L152.14,90.22L165.3,112.17L175.5,91.61L183.84,118.82L190.89,110.51L197,96L202.38,115.48L207.2,102.33L211.56,106.33L215.54,113.67L219.2,108.2L222.59,109.16L225.74,113.39L228.69,109.49L231.47,108.9L234.08,110.86L236.55,111.94L238.9,108.97L241.13,106.51L243.26,102.67L245.29,102.62L247.24,105.62L248.64,106.3L250.04,106.16L251.44,107.18L252.84,107.47L254.24,112.31L255.64,113.54L257.04,117.21L258.44,114.08L259.84,114.03L261.24,111L262.64,113.29L264.04,115.99L265.44,115.12L266.84,110.94L268.24,113.28L269.64,107.91L271.04,111.63L272.44,114.86L273.84,116.24L275.24,116.24L276.64,115.6L278.04,115.37L279.44,117.94L280.84,120.64L282.24,122.06L283.64,119.82L285.04,119.49L286.44,117.72L287.84,120.43L289.24,120.43L290.64,120.16L292.04,120.09L293.44,121.22L294.84,123.13L296.24,124.28L297.64,123.17L299.04,123.24L300.44,123.73L301.84,124.43L303.24,126.4L304.64,127.21L306.04,126.67L307.44,127.81L308.84,129.51L310.24,130.22L311.64,129.66L313.04,129.79L314.44,132.8L315.84,132.07L317.24,130.43L318.64,128.51L320.04,130.56L321.44,133.43L322.84,134.51L324.24,134.16L325.64,136.23L327.04,135L328.44,135.14L329.84,136.01L331.24,135.48L332.64,136.77L334.04,137.79L335.44,138.45L336.84,139.23L338.24,139.63L339.64,141.02L341.04,142.17L342.44,142.15L343.84,142.67L345.24,141.32L346.64,143.55L348.04,145.38L349.44,144.32L350.84,143.88L352.24,144.29L353.64,144.94L355.04,143.35L356.44,145.58L357.84,146.48L359.24,146.3L360.64,146.73L362.04,146.59L363.44,147.84L364.84,147.84L366.24,148.25L367.64,148.55L369.04,148.6L370.44,148.6L371.84,148.6L373.24,148.6L374.64,148.6L376.5,148.6M101.9,148.6L133.6,172.34L152.14,155.34L165.3,130.5L175.5,92.91L183.84,119.74L190.89,118.97L197,101.35L202.38,112.98L207.2,120.48L211.56,119.34L215.54,115.08L219.2,108.87L222.59,119.01L225.74,116.48L228.69,112.71L231.47,111.26L234.08,114.36L236.55,115.41L238.9,117.6L241.13,115.05L243.26,113.55L245.29,114.06L247.24,112.19L248.64,117.06L250.04,112.22L251.44,113.21L252.84,111.59L254.24,113.24L255.64,110.62L257.04,111.49L258.44,112.12L259.84,113.46L261.24,112.44L262.64,114.96L264.04,112.9L265.44,111.87L266.84,111.2L268.24,113.29L269.64,115.71L271.04,115.41L272.44,117.8L273.84,118.46L275.24,117.07L276.64,117.72L278.04,115.02L279.44,115.61L280.84,115.48L282.24,116.41L283.64,117.84L285.04,119.25L286.44,118.54L287.84,118.49L289.24,119.77L290.64,119.54L292.04,119.31L293.44,120.86L294.84,121.98L296.24,123.15L297.64,123.02L299.04,123.61L300.44,123.54L301.84,124.7L303.24,124.69L304.64,123.77L306.04,125.49L307.44,125.85L308.84,124.28L310.24,125.18L311.64,128.57L313.04,129.09L314.44,130.06L315.84,131.28L317.24,132.94L318.64,132.58L320.04,132.46L321.44,135.39L322.84,134.79L324.24,135.14L325.64,134.84L327.04,135.4L328.44,138.37L329.84,138.16L331.24,137.55L332.64,138.37L334.04,138.25L335.44,138.6L336.84,139.63L338.24,139.5L339.64,140.47L341.04,139.61L342.44,139.57L343.84,141.54L345.24,143.66L346.64,144.09L348.04,143L349.44,144.25L350.84,143.58L352.24,144.33L353.64,144.77L355.04,144.17L356.44,146.15L357.84,145.78L359.24,146.18L360.64,145.09L362.04,146.41L363.44,146.68L364.84,147.16L366.24,148.05L367.64,148.54L369.04,148.6L370.44,148.6L371.84,148.6L373.24,148.6L374.64,148.6L376.5,148.6M101.9,148.6L133.6,142.91L152.14,91.29L165.3,107.47L175.5,97.32L183.84,121.1L190.89,118.32L197,121L202.38,106.69L207.2,117.71L211.56,106.72L215.54,106.81L219.2,104.25L222.59,109.26L225.74,111.85L228.69,113.81L231.47,113.95L234.08,114.85L236.55,114.95L238.9,106.03L241.13,112.16L243.26,112.27L245.29,111.58L247.24,112.32L248.64,109.01L250.04,111.6L251.44,111.33L252.84,108.19L254.24,112.22L255.64,111.21L257.04,110.83L258.44,111.85L259.84,109.41L261.24,113.49L262.64,112.84L264.04,109.51L265.44,112.78L266.84,112.96L268.24,114.42L269.64,114.49L271.04,117.14L272.44,115.5L273.84,113.38L275.24,114.05L276.64,114.89L278.04,113.99L279.44,115.4L280.84,115.86L282.24,116.53L283.64,120.77L285.04,120.9L286.44,121.43L287.84,119.71L289.24,119.69L290.64,121.94L292.04,122.88L293.44,122.03L294.84,123.8L296.24,123.42L297.64,122.67L299.04,123.35L300.44,122.14L301.84,123.62L303.24,123.89L304.64,125.55L306.04,126.91L307.44,128.31L308.84,128.59L310.24,129.17L311.64,130.2L313.04,130.65L314.44,130.34L315.84,130.67L317.24,130.93L318.64,131.51L320.04,131.78L321.44,131.51L322.84,133.34L324.24,133.26L325.64,134.19L327.04,135.31L328.44,134.94L329.84,136.48L331.24,135.56L332.64,136.86L334.04,136L335.44,136.6L336.84,136.32L338.24,137.15L339.64,137.14L341.04,139.37L342.44,140.72L343.84,141.74L345.24,143.12L346.64,140.58L348.04,142.51L349.44,143.35L350.84,143.56L352.24,144.37L353.64,144.48L355.04,144.62L356.44,146.64L357.84,146.85L359.24,147.11L360.64,147.91L362.04,147.15L363.44,147.78L364.84,148.24L366.24,148.2L367.64,148.6L369.04,148.6L370.44,148.6L371.84,148.6L373.24,148.6L374.64,148.6L376.5,148.6M101.9,148.6L133.6,152.18L152.14,92.19L165.3,112.83L175.5,105.21L183.84,108.26L190.89,109.54L197,82.59L202.38,116.12L207.2,103.46L211.56,111.47L215.54,109.08L219.2,111.5L222.59,110.78L225.74,111.06L228.69,107.39L231.47,113.74L234.08,107.73L236.55,110L238.9,116.57L241.13,111.26L243.26,112.96L245.29,109.39L247.24,107.81L248.64,110.02L250.04,111.09L251.44,109.59L252.84,112.92L254.24,113.6L255.64,114.69L257.04,112.24L258.44,111.03L259.84,110.45L261.24,111.07L262.64,111.27L264.04,107.27L265.44,109.36L266.84,111.34L268.24,112.19L269.64,115.52L271.04,114.11L272.44,114.15L273.84,115.21L275.24,112.54L276.64,114.07L278.04,116.63L279.44,115.17L280.84,118.03L282.24,117.68L283.64,117.96L285.04,118.14L286.44,120.75L287.84,120.98L289.24,121.63L290.64,122.73L292.04,123.7L293.44,123.32L294.84,122.48L296.24,124.93L297.64,123.03L299.04,122.96L300.44,123.66L301.84,125.21L303.24,125.37L304.64,124.34L306.04,124L307.44,123.13L308.84,127.06L310.24,127.45L311.64,128.62L313.04,130.59L314.44,130.08L315.84,132.04L317.24,132.38L318.64,133.1L320.04,130.93L321.44,132.8L322.84,133.92L324.24,134.43L325.64,133.15L327.04,134.98L328.44,135.46L329.84,134.08L331.24,136.86L332.64,137.43L334.04,137.95L335.44,140.1L336.84,140.03L338.24,139.43L339.64,140.83L341.04,141.98L342.44,141.02L343.84,140.71L345.24,141.4L346.64,141.21L348.04,141.82L349.44,143.16L350.84,142.97L352.24,143.47L353.64,144.5L355.04,144.4L356.44,143.35L357.84,144.63L359.24,146.1L360.64,147.31L362.04,147.79L363.44,147.77L364.84,148.13L366.24,148.25L367.64,148.48L369.04,148.6L370.44,148.6L371.84,148.6L373.24,148.6L374.64,148.6L376.5,148.6M101.9,148.6L133.6,170.31L152.14,141.78L165.3,93.12L175.5,105.1L183.84,120.53L190.89,107.77L197,80.35L202.38,113.69L207.2,103.96L211.56,104.26L215.54,111.81L219.2,117.08L222.59,119.53L225.74,110.58L228.69,107.99L231.47,110.98L234.08,114.12L236.55,112.78L238.9,107.41L241.13,111.22L243.26,114.91L245.29,114.6L247.24,112.63L248.64,111.64L250.04,113.78L251.44,112.25L252.84,114.16L254.24,111.12L255.64,111.38L257.04,113.47L258.44,111.54L259.84,110.3L261.24,108.77L262.64,113.02L264.04,110.82L265.44,110.76L266.84,113.16L268.24,112.11L269.64,110.31L271.04,111.56L272.44,111.9L273.84,113.93L275.24,114.83L276.64,115.43L278.04,114.63L279.44,117.36L280.84,117.32L282.24,118.94L283.64,121.82L285.04,119.41L286.44,119.55L287.84,123.04L289.24,123.34L290.64,118.46L292.04,119.75L293.44,121.04L294.84,123.1L296.24,123.01L297.64,122.87L299.04,123.24L300.44,123.28L301.84,124.06L303.24,124.11L304.64,124.26L306.04,126.61L307.44,126.8L308.84,127.33L310.24,128.09L311.64,128.62L313.04,127.5L314.44,129.78L315.84,128.71L317.24,129.74L318.64,131.32L320.04,132.08L321.44,131.04L322.84,132.24L324.24,133.93L325.64,134.06L327.04,133.55L328.44,134.88L329.84,135.63L331.24,135.15L332.64,135.91L334.04,135.82L335.44,138.74L336.84,139.63L338.24,139.31L339.64,140.44L341.04,140.63L342.44,141.08L343.84,142.63L345.24,142.59L346.64,142.73L348.04,144.79L349.44,144.1L350.84,145.49L352.24,145.1L353.64,145.18L355.04,145.62L356.44,145.07L357.84,145.81L359.24,146.31L360.64,146.38L362.04,147.64L363.44,147.49L364.84,147.89L366.24,148.46L367.64,148.6L369.04,148.6L370.44,148.6L371.84,148.6L373.24,148.6L374.64,148.6L376.5,148.6M101.9,148.6L133.6,120L152.14,79.44L165.3,113.84L175.5,103.09L183.84,137L190.89,116.38L197,127.9L202.38,129.9L207.2,110.21L211.56,119.09L215.54,118.21L219.2,110.45L222.59,114.95L225.74,116.61L228.69,114.32L231.47,116.57L234.08,113.67L236.55,111.35L238.9,106.1L241.13,107.41L243.26,105.79L245.29,108.16L247.24,111.97L248.64,112.15L250.04,108.3L251.44,109.1L252.84,110.87L254.24,113.07L255.64,115.03L257.04,111.97L258.44,114.4L259.84,113.01L261.24,113.46L262.64,113.97L264.04,116.1L265.44,117.35L266.84,117.25L268.24,113.03L269.64,112.98L271.04,114.21L272.44,111.85L273.84,114.31L275.24,115.33L276.64,114.94L278.04,115.49L279.44,118.61L280.84,116.94L282.24,118.04L283.64,116.04L285.04,116.67L286.44,118.58L287.84,118.35L289.24,119.29L290.64,120.11L292.04,120.15L293.44,122.54L294.84,121.87L296.24,123.31L297.64,123.64L299.04,125.07L300.44,126.01L301.84,126.48L303.24,126.61L304.64,127.62L306.04,127.36L307.44,129.75L308.84,129.82L310.24,128.62L311.64,129.34L313.04,130.04L314.44,129.67L315.84,131.81L317.24,132.27L318.64,132.61L320.04,132.98L321.44,133.31L322.84,134.28L324.24,134.53L325.64,134.79L327.04,135.18L328.44,137.3L329.84,137.02L331.24,137.9L332.64,137.26L334.04,137.38L335.44,138.73L336.84,138.25L338.24,138.04L339.64,139.32L341.04,139.24L342.44,139.42L343.84,141.86L345.24,141.51L346.64,144.71L348.04,145.48L349.44,143.45L350.84,144.52L352.24,144.4L353.64,144.4L355.04,145.2L356.44,146.05L357.84,146.7L359.24,147.16L360.64,146.76L362.04,147.53L363.44,147.56L364.84,148.45L366.24,148.39L367.64,148.46L369.04,148.6L370.44,148.6L371.84,148.6L373.24,148.6L374.64,148.6L376.5,148.6M101.9,148.6L133.6,156.66L152.14,137.96L165.3,109.34L175.5,91.61L183.84,115.17L190.89,118.59L197,102.37L202.38,119.81L207.2,121.38L211.56,112.3L215.54,116.43L219.2,113.01L222.59,113.89L225.74,110.31L228.69,108.28L231.47,108.8L234.08,107.92L236.55,107.13L238.9,105.71L241.13,108.26L243.26,108.79L245.29,108.72L247.24,109.17L248.64,113.51L250.04,111.41L251.44,111.97L252.84,113.07L254.24,113.71L255.64,113.21L257.04,109.19L258.44,110.99L259.84,110L261.24,108.31L262.64,111.14L264.04,107.76L265.44,112.96L266.84,113.95L268.24,112.32L269.64,111.57L271.04,112.15L272.44,113.19L273.84,114.58L275.24,111.87L276.64,115.56L278.04,116.07L279.44,117.09L280.84,117.59L282.24,119.94L283.64,118.37L285.04,119.72L286.44,120.64L287.84,119.16L289.24,120.84L290.64,121.23L292.04,122.52L293.44,121.45L294.84,122.49L296.24,123.75L297.64,123.54L299.04,123.8L300.44,123.48L301.84,125.29L303.24,125.17L304.64,126.15L306.04,126.39L307.44,125.26L308.84,127.28L310.24,128.01L311.64,130.33L313.04,131.91L314.44,130.22L315.84,130.72L317.24,132.15L318.64,133.62L320.04,133.95L321.44,134.76L322.84,134.96L324.24,135.61L325.64,134.5L327.04,135.54L328.44,133.84L329.84,134.57L331.24,134.91L332.64,137.86L334.04,138.51L335.44,138.96L336.84,139.99L338.24,140.17L339.64,140.69L341.04,142.51L342.44,141.48L343.84,141.42L345.24,141.11L346.64,142.62L348.04,143.19L349.44,142.54L350.84,144.55L352.24,144.03L353.64,144.52L355.04,145.67L356.44,144.92L357.84,144.61L359.24,145.53L360.64,147.1L362.04,146.89L363.44,147.45L364.84,147.83L366.24,148.21L367.64,148.51L369.04,148.6L370.44,148.6L371.84,148.6L373.24,148.6L374.64,148.6L376.5,148.6M101.9,148.6L133.6,169.72L152.14,148.57L165.3,119.72L175.5,107.51L183.84,112.81L190.89,93.9L197,125.64L202.38,115.85L207.2,113.91L211.56,113.9L215.54,110.29L219.2,106.92L222.59,107.76L225.74,107.49L228.69,111.2L231.47,110.86L234.08,108.66L236.55,108.44L238.9,109.84L241.13,109.39L243.26,108.9L245.29,105.02L247.24,105.96L248.64,109.61L250.04,107.77L251.44,108.99L252.84,108.6L254.24,111.57L255.64,110.93L257.04,112.16L258.44,115L259.84,111.99L261.24,111.43L262.64,112.3L264.04,114.33L265.44,114.42L266.84,114.47L268.24,112.9L269.64,113.46L271.04,112.25L272.44,113.23L273.84,114.95L275.24,116.35L276.64,115.47L278.04,116.82L279.44,116.48L280.84,116.16L282.24,116.96L283.64,117.15L285.04,116.68L286.44,118.52L287.84,118.84L289.24,117.7L290.64,119.46L292.04,120.62L293.44,120.24L294.84,121.77L296.24,122.09L297.64,123.23L299.04,123.42L300.44,123.5L301.84,122.78L303.24,121.72L304.64,121.85L306.04,126.65L307.44,126.92L308.84,128.24L310.24,127.37L311.64,128.99L313.04,131.75L314.44,131.26L315.84,130.83L317.24,131.11L318.64,133.21L320.04,134.28L321.44,133.62L322.84,135.29L324.24,133.98L325.64,135.5L327.04,135.07L328.44,135.86L329.84,136.28L331.24,137.33L332.64,137.41L334.04,139.17L335.44,138.99L336.84,139.46L338.24,139.33L339.64,140.6L341.04,140.06L342.44,140.06L343.84,141.8L345.24,140.81L346.64,141.09L348.04,142.98L349.44,142.5L350.84,141.36L352.24,143.51L353.64,143.78L355.04,142.86L356.44,146.03L357.84,146.15L359.24,146.3L360.64,146.73L362.04,147.64L363.44,147.64L364.84,147.79L366.24,148.14L367.64,148.43L369.04,148.6L370.44,148.6L371.84,148.6L373.24,148.6L374.64,148.6L376.5,148.6M101.9,148.6L133.6,155.08L152.14,105.98L165.3,117.1L175.5,107.5L183.84,108.45L190.89,108.53L197,96.28L202.38,118.11L207.2,129.41L211.56,135.3L215.54,129L219.2,122.43L222.59,117.96L225.74,112.15L228.69,108.16L231.47,113.27L234.08,114.7L236.55,112.21L238.9,110.59L241.13,109.85L243.26,105.72L245.29,109.96L247.24,111.33L248.64,108.87L250.04,110.97L251.44,110.97L252.84,111.79L254.24,111.15L255.64,111.11L257.04,110.32L258.44,112.51L259.84,110.76L261.24,110.68L262.64,112.66L264.04,113.04L265.44,114.27L266.84,115.07L268.24,113.01L269.64,113.7L271.04,114.06L272.44,114.56L273.84,114.27L275.24,115.65L276.64,115.68L278.04,116.11L279.44,116.38L280.84,116.06L282.24,116.28L283.64,118.25L285.04,118.3L286.44,121.21L287.84,122.87L289.24,123.6L290.64,120.93L292.04,122.01L293.44,121.52L294.84,121.16L296.24,118.49L297.64,119.05L299.04,120.22L300.44,121.14L301.84,124.06L303.24,123.76L304.64,124.16L306.04,126.79L307.44,127.77L308.84,128.1L310.24,127.88L311.64,128.45L313.04,131.76L314.44,131.57L315.84,130.92L317.24,132.72L318.64,132.32L320.04,134.09L321.44,134.36L322.84,135.22L324.24,134.43L325.64,136.26L327.04,137.16L328.44,137.03L329.84,137.36L331.24,136.73L332.64,136.17L334.04,137.01L335.44,137.72L336.84,138.8L338.24,138.13L339.64,137.83L341.04,139.83L342.44,141.41L343.84,141.86L345.24,142.9L346.64,142.88L348.04,143.13L349.44,143.99L350.84,144.11L352.24,144.12L353.64,144.64L355.04,145.24L356.44,145.39L357.84,145.24L359.24,146.26L360.64,146.56L362.04,147.39L363.44,147.45L364.84,147.08L366.24,148L367.64,148.54L369.04,148.6L370.44,148.6L371.84,148.6L373.24,148.6L374.64,148.6L376.5,148.6M101.9,148.6L133.6,146.57L152.14,96.8L165.3,112.55L175.5,99.05L183.84,112.56L190.89,96.41L197,110.05L202.38,112.61L207.2,126.68L211.56,119.72L215.54,109.14L219.2,106.26L222.59,111.81L225.74,109.54L228.69,110.82L231.47,108.5L234.08,110.24L236.55,112.57L238.9,114.05L241.13,114.02L243.26,106.02L245.29,108.18L247.24,106.26L248.64,104.86L250.04,112.65L251.44,109.44L252.84,105.56L254.24,109.33L255.64,114.24L257.04,116.71L258.44,117.2L259.84,110.94L261.24,111.9L262.64,111.34L264.04,106.84L265.44,109.91L266.84,114.36L268.24,112.3L269.64,113.03L271.04,112.4L272.44,113.58L273.84,112.49L275.24,116.22L276.64,118.03L278.04,115.72L279.44,115.29L280.84,118.45L282.24,119.25L283.64,120.52L285.04,119.01L286.44,117.28L287.84,120.58L289.24,120.63L290.64,122.38L292.04,123.09L293.44,121.96L294.84,122.19L296.24,122.41L297.64,123.21L299.04,123.6L300.44,123.82L301.84,126.11L303.24,127.09L304.64,127.02L306.04,128.29L307.44,127.71L308.84,128.55L310.24,128.01L311.64,128.34L313.04,129.37L314.44,130.35L315.84,130.49L317.24,130.76L318.64,131.67L320.04,131.76L321.44,132.64L322.84,134.51L324.24,133.84L325.64,134.54L327.04,135.1L328.44,134.99L329.84,136.28L331.24,137.12L332.64,138.6L334.04,139.12L335.44,137.43L336.84,138.99L338.24,140.19L339.64,140.91L341.04,139.66L342.44,138.21L343.84,140.39L345.24,141.13L346.64,141.43L348.04,143.01L349.44,144.01L350.84,144.37L352.24,144.97L353.64,145.85L355.04,146.17L356.44,145.79L357.84,146.34L359.24,147.79L360.64,148.15L362.04,147.34L363.44,147.47L364.84,147.82L366.24,148.21L367.64,148.54L369.04,148.6L370.44,148.6L371.84,148.6L373.24,148.6L374.64,148.6L376.5,148.6M101.9,148.6L133.6,150.24L152.14,98.39L165.3,109.58L175.5,107.53L183.84,106.02L190.89,119.38L197,116.61L202.38,105.59L207.2,112.57L211.56,119.47L215.54,117.11L219.2,110.56L222.59,108.16L225.74,105.52L228.69,109.86L231.47,107.68L234.08,108.43L236.55,114.09L238.9,110.84L241.13,110.49L243.26,113.12L245.29,109.97L247.24,105.27L248.64,109.38L250.04,107.22L251.44,107.57L252.84,104.98L254.24,104.34L255.64,110.16L257.04,114.98L258.44,116.36L259.84,114.31L261.24,114.74L262.64,112.28L264.04,115.1L265.44,117.3L266.84,116.17L268.24,116.02L269.64,118.42L271.04,116.04L272.44,116.22L273.84,116.73L275.24,114.84L276.64,115.67L278.04,115.76L279.44,118.71L280.84,118.9L282.24,119.82L283.64,119.61L285.04,117.9L286.44,120.16L287.84,118.96L289.24,120.37L290.64,120.2L292.04,122.28L293.44,121.66L294.84,124.1L296.24,123.24L297.64,123L299.04,123.72L300.44,124.02L301.84,123.81L303.24,125.39L304.64,125.76L306.04,125.88L307.44,128.45L308.84,130.24L310.24,127.94L311.64,130.19L313.04,128.87L314.44,129.63L315.84,128.78L317.24,130.76L318.64,133.92L320.04,135.08L321.44,135.65L322.84,133.31L324.24,135.29L325.64,134.53L327.04,135.16L328.44,135.91L329.84,138.06L331.24,139.64L332.64,139.24L334.04,139.44L335.44,138.72L336.84,139.66L338.24,140.99L339.64,140.63L341.04,140.48L342.44,141.08L343.84,141.57L345.24,142.27L346.64,141.94L348.04,143L349.44,143.47L350.84,144.51L352.24,144.33L353.64,145.46L355.04,145.92L356.44,146.78L357.84,147.45L359.24,146.38L360.64,146.41L362.04,147.11L363.44,146.66L364.84,147.68L366.24,147.92L367.64,148.44L369.04,148.6L370.44,148.6L371.84,148.6L373.24,148.6L374.64,148.6L376.5,148.6M101.9,148.6L133.6,140.9L152.14,88.04L165.3,109.49L175.5,95.32L183.84,112.55L190.89,100.08L197,117.95L202.38,117.44L207.2,120.22L211.56,119.21L215.54,118.22L219.2,112.09L222.59,114.26L225.74,110.4L228.69,111.69L231.47,110.9L234.08,108.3L236.55,110.69L238.9,113.43L241.13,107.15L243.26,105.91L245.29,107.85L247.24,109.66L248.64,112.65L250.04,111.66L251.44,111.9L252.84,110.44L254.24,111.9L255.64,111.11L257.04,110.57L258.44,112.51L259.84,111.8L261.24,112.6L262.64,111.87L264.04,110.65L265.44,110.6L266.84,111.36L268.24,111.48L269.64,110.73L271.04,115.45L272.44,116.78L273.84,118.71L275.24,117.03L276.64,117.7L278.04,118.27L279.44,119.12L280.84,117.69L282.24,118.65L283.64,118.66L285.04,119.91L286.44,120.79L287.84,119.23L289.24,121.8L290.64,121.37L292.04,121.1L293.44,119.02L294.84,120.67L296.24,122.15L297.64,122.24L299.04,123.13L300.44,122.63L301.84,124.6L303.24,125.28L304.64,125.74L306.04,125.74L307.44,126.36L308.84,126.57L310.24,128.29L311.64,129.29L313.04,131.27L314.44,129.84L315.84,131.44L317.24,130.93L318.64,133.6L320.04,132.16L321.44,132.27L322.84,134.47L324.24,134.35L325.64,136.43L327.04,136.25L328.44,137.13L329.84,135.95L331.24,137.53L332.64,137.6L334.04,139.52L335.44,138.82L336.84,139.23L338.24,140.52L339.64,140.95L341.04,141.38L342.44,140L343.84,141.59L345.24,141.58L346.64,142.15L348.04,143.93L349.44,143.48L350.84,144.73L352.24,144.41L353.64,145.84L355.04,145.67L356.44,146.31L357.84,147.13L359.24,147.48L360.64,147.93L362.04,147.88L363.44,148.67L364.84,148.61L366.24,148.59L367.64,148.54L369.04,148.6L370.44,148.6L371.84,148.6L373.24,148.6L374.64,148.6L376.5,148.6M101.9,148.6L133.6,168.43L152.14,145.84L165.3,114.15L175.5,98.23L183.84,102.63L190.89,124.58L197,115.59L202.38,122.57L207.2,112.29L211.56,105.21L215.54,106.89L219.2,107.33L222.59,110.74L225.74,108.14L228.69,111.63L231.47,106.57L234.08,109.79L236.55,112.31L238.9,112.37L241.13,117.04L243.26,112.9L245.29,114.05L247.24,113.75L248.64,108.26L250.04,110.25L251.44,114.88L252.84,114.32L254.24,114.39L255.64,113.23L257.04,112.74L258.44,114.55L259.84,113.24L261.24,112.9L262.64,113.12L264.04,112.6L265.44,111.92L266.84,113.42L268.24,113.4L269.64,112.39L271.04,114.15L272.44,111.39L273.84,113.6L275.24,113.92L276.64,115.71L278.04,117.62L279.44,117.62L280.84,116.5L282.24,117.28L283.64,119.01L285.04,119.13L286.44,118.63L287.84,118.9L289.24,117.14L290.64,118.69L292.04,120.37L293.44,120.92L294.84,124.61L296.24,124.94L297.64,125.27L299.04,126.14L300.44,126.15L301.84,128.14L303.24,128.28L304.64,128.45L306.04,127.13L307.44,129.95L308.84,129.83L310.24,128.03L311.64,130.58L313.04,130.58L314.44,129.36L315.84,130.24L317.24,131.35L318.64,132.18L320.04,131.91L321.44,131.47L322.84,133.83L324.24,135.07L325.64,134.49L327.04,136.13L328.44,135.72L329.84,137.24L331.24,137.67L332.64,137.04L334.04,136.95L335.44,138.3L336.84,140.31L338.24,139.2L339.64,140.04L341.04,139.77L342.44,141.04L343.84,141L345.24,141.74L346.64,141.46L348.04,141.62L349.44,144.2L350.84,146.27L352.24,146.17L353.64,144.94L355.04,145.62L356.44,146.7L357.84,146.87L359.24,147.69L360.64,146.74L362.04,147.07L363.44,147.75L364.84,147.84L366.24,147.66L367.64,148.52L369.04,148.6L370.44,148.6L371.84,148.6L373.24,148.6L374.64,148.6L376.5,148.6M101.9,148.6L133.6,163.09L152.14,136.91L165.3,124.59L175.5,106.77L183.84,108.01L190.89,118.74L197,119.8L202.38,99.71L207.2,114.42L211.56,120.56L215.54,110.34L219.2,109.3L222.59,116.41L225.74,111.33L228.69,110.25L231.47,105.63L234.08,110.8L236.55,112.01L238.9,108.07L241.13,109.14L243.26,108.5L245.29,108.53L247.24,114.97L248.64,114.91L250.04,112.91L251.44,110.87L252.84,110.11L254.24,111.38L255.64,109.69L257.04,110.5L258.44,111L259.84,116.63L261.24,114.43L262.64,110.61L264.04,111.89L265.44,112.84L266.84,113.21L268.24,113.76L269.64,114.74L271.04,115.27L272.44,118.18L273.84,119.66L275.24,117.74L276.64,117.05L278.04,117.89L279.44,116.39L280.84,114.95L282.24,116.49L283.64,117.51L285.04,118.78L286.44,121.43L287.84,121.05L289.24,123.81L290.64,122.21L292.04,122.46L293.44,123.31L294.84,122.89L296.24,122.8L297.64,123.98L299.04,125.77L300.44,124.72L301.84,125L303.24,125.31L304.64,126.02L306.04,126.33L307.44,128L308.84,126.92L310.24,127.84L311.64,129.11L313.04,131.39L314.44,131.6L315.84,131.18L317.24,132.26L318.64,132.41L320.04,132.98L321.44,133.9L322.84,133.84L324.24,134.2L325.64,134.19L327.04,134.05L328.44,136.02L329.84,138.14L331.24,137.93L332.64,137.4L334.04,137.9L335.44,137.9L336.84,139.01L338.24,138.7L339.64,140.69L341.04,140.14L342.44,141.01L343.84,140.4L345.24,140.88L346.64,143.43L348.04,143.89L349.44,144.22L350.84,142.93L352.24,144.88L353.64,144.79L355.04,145.2L356.44,145.6L357.84,146.12L359.24,146.07L360.64,146.5L362.04,147.05L363.44,147.67L364.84,147.77L366.24,148.27L367.64,148.51L369.04,148.6L370.44,148.6L371.84,148.6L373.24,148.6L374.64,148.6L376.5,148.6M101.9,148.6L133.6,134.43L152.14,83.51L165.3,109.81L175.5,100.84L183.84,109.53L190.89,98.08L197,117.66L202.38,117.24L207.2,101.49L211.56,111.02L215.54,109.8L219.2,109.65L222.59,114.1L225.74,106.72L228.69,108.14L231.47,112.29L234.08,108.6L236.55,110.01L238.9,113.19L241.13,110.83L243.26,109.08L245.29,109.51L247.24,110.39L248.64,105.04L250.04,107.01L251.44,107.36L252.84,107.31L254.24,109.05L255.64,112.95L257.04,113.95L258.44,111.54L259.84,114.07L261.24,112.76L262.64,110.18L264.04,112.63L265.44,115.52L266.84,117.92L268.24,117.2L269.64,115.99L271.04,114.24L272.44,114.44L273.84,116.05L275.24,116.24L276.64,115.35L278.04,115.41L279.44,115.81L280.84,119.65L282.24,118.99L283.64,117.85L285.04,119.5L286.44,118.44L287.84,118.9L289.24,117.53L290.64,119.99L292.04,123.44L293.44,123.51L294.84,123.69L296.24,122.23L297.64,123.16L299.04,122.9L300.44,122.93L301.84,123.01L303.24,125.05L304.64,126.29L306.04,129.39L307.44,126.9L308.84,127.04L310.24,129.39L311.64,126.84L313.04,126.21L314.44,129.6L315.84,130.66L317.24,130.97L318.64,131.36L320.04,133.05L321.44,131.56L322.84,130.94L324.24,131.32L325.64,134.17L327.04,133.09L328.44,134.34L329.84,136.23L331.24,138.98L332.64,138.84L334.04,138.6L335.44,138.36L336.84,138.85L338.24,139.72L339.64,139.66L341.04,140.56L342.44,141.31L343.84,142.45L345.24,143.19L346.64,140.76L348.04,143.29L349.44,142.5L350.84,143.58L352.24,145.06L353.64,145.41L355.04,145.44L356.44,145.14L357.84,145.77L359.24,146.2L360.64,146.91L362.04,147.41L363.44,147.43L364.84,148.11L366.24,148.45L367.64,148.59L369.04,148.6L370.44,148.6L371.84,148.6L373.24,148.6L374.64,148.6L376.5,148.6M101.9,148.6L133.6,172.34L152.14,150.53L165.3,104.37L175.5,105.46L183.84,108.43L190.89,118.79L197,118.45L202.38,122.84L207.2,104.05L211.56,102.33L215.54,103.11L219.2,106.21L222.59,106.56L225.74,114.81L228.69,112.34L231.47,108.42L234.08,106.69L236.55,111.41L238.9,112L241.13,114.05L243.26,112.76L245.29,110.45L247.24,111.85L248.64,111.31L250.04,110.44L251.44,112.37L252.84,114.09L254.24,113.81L255.64,112.35L257.04,112.95L258.44,113.1L259.84,112.47L261.24,113.13L262.64,113.56L264.04,112.6L265.44,112.93L266.84,113.66L268.24,114.81L269.64,113.91L271.04,115.65L272.44,114.59L273.84,113.56L275.24,115.67L276.64,116.58L278.04,114.64L279.44,116.32L280.84,116.91L282.24,117.39L283.64,117.51L285.04,114.16L286.44,115.21L287.84,118.92L289.24,121.45L290.64,122.34L292.04,120.1L293.44,120.09L294.84,122.77L296.24,122.81L297.64,124.12L299.04,125.08L300.44,125.71L301.84,125.14L303.24,125.05L304.64,125.96L306.04,126.33L307.44,125.69L308.84,125.94L310.24,127L311.64,128.44L313.04,128.79L314.44,130.3L315.84,131.23L317.24,130.52L318.64,132.56L320.04,132.75L321.44,133.81L322.84,135.67L324.24,135.06L325.64,135.06L327.04,136.61L328.44,136.46L329.84,138.31L331.24,139.17L332.64,138.26L334.04,137.95L335.44,138.09L336.84,138.68L338.24,139.29L339.64,140.21L341.04,140.54L342.44,140.16L343.84,141.42L345.24,141.93L346.64,142.63L348.04,142.76L349.44,144.13L350.84,144.3L352.24,145.32L353.64,145.82L355.04,145.04L356.44,145.08L357.84,145.45L359.24,147.44L360.64,148.05L362.04,147.73L363.44,147.69L364.84,147.93L366.24,148.12L367.64,148.42L369.04,148.6L370.44,148.6L371.84,148.6L373.24,148.6L374.64,148.6L376.5,148.6M101.9,148.6L133.6,156.28L152.14,106.57L165.3,108.39L175.5,93.36L183.84,123.3L190.89,85.9L197,118.87L202.38,111.7L207.2,113.69L211.56,111.96L215.54,111.16L219.2,107.64L222.59,116.26L225.74,108.74L228.69,111.42L231.47,109.45L234.08,108.8L236.55,112.22L238.9,111.16L241.13,114.4L243.26,108.18L245.29,106.96L247.24,113.85L248.64,114.35L250.04,115.5L251.44,116.81L252.84,114.2L254.24,112.11L255.64,113.37L257.04,111.27L258.44,114.02L259.84,111.8L261.24,112.01L262.64,112.46L264.04,113.94L265.44,114.53L266.84,114.36L268.24,114.76L269.64,112L271.04,114.05L272.44,114.37L273.84,110.82L275.24,114.82L276.64,115.58L278.04,117.96L279.44,119.29L280.84,117.33L282.24,119.72L283.64,120.64L285.04,118.6L286.44,119.48L287.84,120.12L289.24,120.06L290.64,123.75L292.04,123.46L293.44,121.55L294.84,121.96L296.24,122.08L297.64,123.85L299.04,123.97L300.44,125.51L301.84,124.01L303.24,124.9L304.64,125.32L306.04,126.38L307.44,127.31L308.84,127.51L310.24,128.34L311.64,129.3L313.04,129.27L314.44,129.19L315.84,128.26L317.24,132.2L318.64,131.72L320.04,132.3L321.44,132.76L322.84,134.98L324.24,135.09L325.64,135.53L327.04,135.55L328.44,135.26L329.84,133.81L331.24,136.55L332.64,136.37L334.04,137.4L335.44,138.25L336.84,138.75L338.24,139.16L339.64,138.89L341.04,140.44L342.44,141.3L343.84,141.14L345.24,142.1L346.64,143.28L348.04,143L349.44,143.99L350.84,145.26L352.24,144.75L353.64,144.78L355.04,145.91L356.44,145.82L357.84,146.93L359.24,148.14L360.64,147.71L362.04,148.01L363.44,147.59L364.84,147.78L366.24,147.96L367.64,148.48L369.04,148.6L370.44,148.6L371.84,148.6L373.24,148.6L374.64,148.6L376.5,148.6M101.9,148.6L133.6,161.08L152.14,99.28L165.3,106.96L175.5,107.38L183.84,113.59L190.89,88.39L197,122.2L202.38,109.87L207.2,116.98L211.56,106.52L215.54,104.61L219.2,109.42L222.59,110.43L225.74,111.79L228.69,118.58L231.47,114.28L234.08,114.01L236.55,112.48L238.9,115.02L241.13,107.61L243.26,107.09L245.29,106.68L247.24,106.72L248.64,106.04L250.04,106.35L251.44,111.1L252.84,110.17L254.24,104.43L255.64,108.96L257.04,105.87L258.44,109.43L259.84,111.37L261.24,111.21L262.64,110.19L264.04,108.4L265.44,109.88L266.84,113.94L268.24,116.22L269.64,114.58L271.04,116.08L272.44,117.23L273.84,116.02L275.24,115.28L276.64,118.31L278.04,117.87L279.44,116.35L280.84,115.25L282.24,120.49L283.64,122.41L285.04,122.76L286.44,123.11L287.84,122.75L289.24,118.96L290.64,119.08L292.04,120.33L293.44,120.21L294.84,121.77L296.24,122.61L297.64,123.64L299.04,125.63L300.44,124.85L301.84,125.12L303.24,125.22L304.64,126.86L306.04,126.01L307.44,127.58L308.84,126.53L310.24,125.47L311.64,128.49L313.04,127.72L314.44,129.05L315.84,130.52L317.24,131.09L318.64,132.01L320.04,131.53L321.44,134.12L322.84,134.04L324.24,133.52L325.64,134.39L327.04,134.59L328.44,136.46L329.84,136.35L331.24,137.15L332.64,137.32L334.04,137.86L335.44,137.99L336.84,135.9L338.24,137.1L339.64,140.02L341.04,140.03L342.44,140.43L343.84,141.46L345.24,142.13L346.64,141.19L348.04,142.5L349.44,143.61L350.84,144.07L352.24,144.58L353.64,144.99L355.04,145.17L356.44,145.09L357.84,145.64L359.24,146.38L360.64,146.79L362.04,147.2L363.44,148.04L364.84,148.79L366.24,148.28L367.64,148.54L369.04,148.6L370.44,148.6L371.84,148.6L373.24,148.6L374.64,148.6L376.5,148.6M101.9,148.6L133.6,168.83L152.14,141.3L165.3,117.09L175.5,104.19L183.84,115.93L190.89,132.8L197,103.31L202.38,119.95L207.2,117.99L211.56,113.02L215.54,106.98L219.2,103.85L222.59,105.2L225.74,108.41L228.69,109.21L231.47,107.21L234.08,107.58L236.55,108.03L238.9,105.57L241.13,108.95L243.26,108.52L245.29,108.54L247.24,107.3L248.64,104.73L250.04,109.95L251.44,108.62L252.84,109.62L254.24,111.31L255.64,111.01L257.04,111.71L258.44,116.16L259.84,111.92L261.24,115.34L262.64,115.24L264.04,112.37L265.44,112.91L266.84,116.18L268.24,114.44L269.64,114.24L271.04,114.34L272.44,115.01L273.84,117.25L275.24,116.45L276.64,116.22L278.04,117.34L279.44,116.18L280.84,114.08L282.24,114.93L283.64,117.2L285.04,117.32L286.44,118.78L287.84,119.16L289.24,122.74L290.64,123.78L292.04,123.68L293.44,121.9L294.84,120.43L296.24,119.4L297.64,121.09L299.04,121.92L300.44,123.44L301.84,123.76L303.24,124.82L304.64,125.03L306.04,124.86L307.44,124.74L308.84,126.8L310.24,128.14L311.64,130.21L313.04,128.6L314.44,129.37L315.84,130.51L317.24,130.7L318.64,131.91L320.04,133.14L321.44,135.39L322.84,134.56L324.24,133.84L325.64,133.97L327.04,131.97L328.44,133.25L329.84,133.13L331.24,135.4L332.64,134.35L334.04,136.42L335.44,135.36L336.84,136.82L338.24,140.18L339.64,140.83L341.04,142.59L342.44,143.52L343.84,143.34L345.24,143.5L346.64,142.96L348.04,143.02L349.44,143.32L350.84,143.69L352.24,144.37L353.64,144.71L355.04,145.53L356.44,147.15L357.84,147.5L359.24,148.23L360.64,147.63L362.04,147.27L363.44,147.68L364.84,147.59L366.24,147.74L367.64,148.38L369.04,148.6L370.44,148.6L371.84,148.6L373.24,148.6L374.64,148.6L376.5,148.6M101.9,148.6L133.6,177.76L152.14,158.52L165.3,102.72L175.5,91.57L183.84,112.09L190.89,124.27L197,121.77L202.38,107.48L207.2,114.37L211.56,119.13L215.54,115.37L219.2,114.39L222.59,114.61L225.74,115.55L228.69,116.51L231.47,115.28L234.08,113.11L236.55,113.11L238.9,111.36L241.13,106.27L243.26,105L245.29,106.92L247.24,110.04L248.64,113.86L250.04,113.33L251.44,114.2L252.84,110.29L254.24,110.68L255.64,110.13L257.04,114.32L258.44,117.18L259.84,112.21L261.24,113.9L262.64,112.49L264.04,116.02L265.44,113.07L266.84,112.96L268.24,113.49L269.64,114.69L271.04,114.37L272.44,115.52L273.84,114.62L275.24,112.19L276.64,114.08L278.04,115.94L279.44,112.9L280.84,116.46L282.24,114.82L283.64,117.78L285.04,118.99L286.44,121.83L287.84,121.5L289.24,123.07L290.64,122.57L292.04,121.42L293.44,121.41L294.84,122.5L296.24,124.71L297.64,123.43L299.04,124.83L300.44,124.17L301.84,125.56L303.24,125.24L304.64,125.74L306.04,124.44L307.44,125.85L308.84,127.88L310.24,128.23L311.64,130.96L313.04,129.29L314.44,129.66L315.84,130.51L317.24,132.58L318.64,132.66L320.04,133.19L321.44,131.21L322.84,134.1L324.24,132.71L325.64,134.62L327.04,135.63L328.44,135.74L329.84,135.17L331.24,136.86L332.64,137.23L334.04,137.95L335.44,139.14L336.84,139.72L338.24,140.37L339.64,140.12L341.04,140.84L342.44,141.7L343.84,142.18L345.24,143.25L346.64,142.47L348.04,143.38L349.44,143.66L350.84,144.12L352.24,144.29L353.64,145.24L355.04,145.7L356.44,144.83L357.84,145.97L359.24,146.44L360.64,147.15L362.04,147.9L363.44,147.62L364.84,148.03L366.24,148.19L367.64,148.41L369.04,148.6L370.44,148.6L371.84,148.6L373.24,148.6L374.64,148.6L376.5,148.6M101.9,148.6L133.6,166.9L152.14,150.44L165.3,104.49L175.5,82.47L183.84,124.33L190.89,96.81L197,116.4L202.38,117.71L207.2,106.91L211.56,109.25L215.54,105.14L219.2,105.07L222.59,107.07L225.74,115.03L228.69,111.96L231.47,112.6L234.08,109.23L236.55,108.03L238.9,113.31L241.13,110.61L243.26,107.95L245.29,112.01L247.24,112.53L248.64,107.21L250.04,105.03L251.44,109.77L252.84,107.6L254.24,104.06L255.64,110.55L257.04,108.52L258.44,110.21L259.84,111.51L261.24,113.29L262.64,112.85L264.04,114.29L265.44,114.49L266.84,115.48L268.24,114.76L269.64,117.16L271.04,114.23L272.44,116.43L273.84,119.88L275.24,119.27L276.64,116.74L278.04,116.1L279.44,116.9L280.84,118.01L282.24,120.13L283.64,118.88L285.04,117.5L286.44,116.1L287.84,117.41L289.24,116.44L290.64,117.01L292.04,120.69L293.44,122.69L294.84,121.03L296.24,121.82L297.64,122.84L299.04,119.61L300.44,121.89L301.84,123.41L303.24,125.68L304.64,125.49L306.04,125.76L307.44,126.35L308.84,126.8L310.24,127.65L311.64,128.61L313.04,129.74L314.44,129.84L315.84,130.59L317.24,132.12L318.64,131.54L320.04,132.23L321.44,131.33L322.84,134.54L324.24,136.39L325.64,134.98L327.04,136.26L328.44,134.9L329.84,135.36L331.24,137.73L332.64,138.93L334.04,140.77L335.44,141.34L336.84,141.4L338.24,140.91L339.64,140.76L341.04,143.23L342.44,142.27L343.84,141.52L345.24,141.38L346.64,142.53L348.04,143.14L349.44,143.78L350.84,143.81L352.24,144L353.64,145.2L355.04,144.31L356.44,145.4L357.84,143.84L359.24,144.33L360.64,145.75L362.04,146.93L363.44,147.46L364.84,147.61L366.24,148.13L367.64,148.51L369.04,148.6L370.44,148.6L371.84,148.6L373.24,148.6L374.64,148.6L376.5,148.6M101.9,148.6L133.6,163.48L152.14,130.86L165.3,91.09L175.5,109.14L183.84,97.13L190.89,115.96L197,92.33L202.38,118.12L207.2,122.04L211.56,109.47L215.54,109.8L219.2,110.96L222.59,116.27L225.74,114.44L228.69,109.07L231.47,111.93L234.08,114.04L236.55,112.73L238.9,112.09L241.13,111.17L243.26,109.3L245.29,110.35L247.24,113.05L248.64,112.7L250.04,110.37L251.44,110.46L252.84,112.36L254.24,112.73L255.64,112.19L257.04,111.13L258.44,111.08L259.84,109.17L261.24,110.98L262.64,112.83L264.04,113.83L265.44,111L266.84,111.73L268.24,112.4L269.64,113.98L271.04,113.49L272.44,114.29L273.84,115.99L275.24,116.8L276.64,115.72L278.04,115.84L279.44,114.63L280.84,117.11L282.24,118.72L283.64,116.84L285.04,117.61L286.44,118.46L287.84,118.6L289.24,119.18L290.64,120.22L292.04,120.72L293.44,122L294.84,121.2L296.24,121.92L297.64,122.88L299.04,124.47L300.44,125.39L301.84,124.12L303.24,123.11L304.64,123.98L306.04,124.89L307.44,125.23L308.84,129.56L310.24,131.1L311.64,130.9L313.04,131.71L314.44,131.44L315.84,131.09L317.24,130.97L318.64,131.39L320.04,132.28L321.44,131.79L322.84,133.85L324.24,134.01L325.64,134.07L327.04,134.95L328.44,136.16L329.84,136.17L331.24,136.66L332.64,137.98L334.04,137.76L335.44,137.67L336.84,138.71L338.24,139.25L339.64,140.39L341.04,140.44L342.44,141.05L343.84,142.32L345.24,142.25L346.64,142.48L348.04,145.22L349.44,145.24L350.84,145.61L352.24,144.36L353.64,143.96L355.04,144.07L356.44,146.02L357.84,145.56L359.24,144.81L360.64,145.21L362.04,147.09L363.44,147.63L364.84,147.98L366.24,148.19L367.64,148.4L369.04,148.6L370.44,148.6L371.84,148.6L373.24,148.6L374.64,148.6L376.5,148.6M101.9,148.6L133.6,149.49L152.14,134.41L165.3,84.4L175.5,102.85L183.84,111.82L190.89,98.35L197,115.72L202.38,112.61L207.2,115.46L211.56,108.47L215.54,109.59L219.2,111.62L222.59,107.03L225.74,110.97L228.69,109.9L231.47,112.15L234.08,111.14L236.55,112.89L238.9,113.97L241.13,111.24L243.26,109.74L245.29,109.54L247.24,107.48L248.64,105.27L250.04,109.83L251.44,107.67L252.84,109.4L254.24,111.69L255.64,114.07L257.04,111.79L258.44,111.02L259.84,108.35L261.24,110.72L262.64,112.15L264.04,115.14L265.44,117.9L266.84,116.66L268.24,114.38L269.64,114.14L271.04,114.17L272.44,115.19L273.84,113.36L275.24,115.99L276.64,117.12L278.04,119.77L279.44,120.45L280.84,117.93L282.24,117.5L283.64,116.21L285.04,117.64L286.44,119.41L287.84,120.8L289.24,121.49L290.64,120.22L292.04,120.98L293.44,123.15L294.84,123.68L296.24,123.3L297.64,124.85L299.04,125.89L300.44,125.08L301.84,124.71L303.24,125.07L304.64,124.67L306.04,126.55L307.44,128.28L308.84,128.71L310.24,128.13L311.64,128.03L313.04,129.57L314.44,131.19L315.84,131.29L317.24,132.48L318.64,131.68L320.04,132.86L321.44,135.01L322.84,133.9L324.24,134.76L325.64,134.37L327.04,132.8L328.44,132.8L329.84,135.68L331.24,136.8L332.64,137.41L334.04,137.78L335.44,137.79L336.84,138.37L338.24,139.28L339.64,140.03L341.04,142.82L342.44,143.89L343.84,142.65L345.24,141.96L346.64,141.88L348.04,144.2L349.44,143.48L350.84,143.84L352.24,144.74L353.64,145.56L355.04,145.84L356.44,146.38L357.84,146.62L359.24,146.83L360.64,147.46L362.04,147.15L363.44,147.5L364.84,147.95L366.24,148.24L367.64,148.56L369.04,148.6L370.44,148.6L371.84,148.6L373.24,148.6L374.64,148.6L376.5,148.6M101.9,148.6L133.6,144.3L152.14,103.62L165.3,107L175.5,99.96L183.84,128.75L190.89,106.92L197,100.78L202.38,109.18L207.2,118.58L211.56,115.61L215.54,117.47L219.2,106.69L222.59,105.63L225.74,106.69L228.69,109.49L231.47,110.09L234.08,110.79L236.55,110.43L238.9,112.17L241.13,109.45L243.26,105.73L245.29,108.75L247.24,113.53L248.64,113.16L250.04,115.4L251.44,113.55L252.84,114.34L254.24,114.15L255.64,116.12L257.04,114.38L258.44,113.82L259.84,111.97L261.24,112.73L262.64,115.28L264.04,117.38L265.44,116.77L266.84,114.34L268.24,115.34L269.64,115.32L271.04,114.4L272.44,115.7L273.84,114.71L275.24,112.93L276.64,116.03L278.04,118.49L279.44,118.76L280.84,120.68L282.24,117.88L283.64,117.84L285.04,118.23L286.44,120.09L287.84,118.07L289.24,119.11L290.64,120.15L292.04,119.99L293.44,121.22L294.84,122.75L296.24,124.28L297.64,123.24L299.04,123.12L300.44,123.02L301.84,123.99L303.24,124.49L304.64,124.95L306.04,125.98L307.44,125.86L308.84,126.67L310.24,128.68L311.64,130.94L313.04,132.13L314.44,132.18L315.84,131.27L317.24,132.28L318.64,133.01L320.04,134.5L321.44,134.13L322.84,134.23L324.24,135.36L325.64,137.24L327.04,136.5L328.44,135.83L329.84,136.47L331.24,136.44L332.64,137.33L334.04,137.89L335.44,138.59L336.84,139.48L338.24,140.07L339.64,141.38L341.04,142.65L342.44,141.68L343.84,141.56L345.24,142.88L346.64,144.24L348.04,145.23L349.44,144.31L350.84,143.87L352.24,144.14L353.64,144.71L355.04,144.86L356.44,145.86L357.84,145.09L359.24,145.86L360.64,146.56L362.04,146.91L363.44,146.68L364.84,147.61L366.24,148.21L367.64,148.5L369.04,148.6L370.44,148.6L371.84,148.6L373.24,148.6L374.64,148.6L376.5,148.6M101.9,148.6L133.6,175.53L152.14,152L165.3,112.15L175.5,87.31L183.84,125.9L190.89,99.04L197,115.73L202.38,118.91L207.2,111.19L211.56,111.02L215.54,113.16L219.2,114.07L222.59,111.42L225.74,115.97L228.69,113.26L231.47,114.97L234.08,115.43L236.55,108.15L238.9,108.58L241.13,107.08L243.26,106.98L245.29,108.41L247.24,110.02L248.64,114.15L250.04,112.31L251.44,111.97L252.84,110.78L254.24,110.28L255.64,110.19L257.04,104.76L258.44,111.53L259.84,113.4L261.24,114.81L262.64,114.59L264.04,114.22L265.44,112.85L266.84,113.79L268.24,114.13L269.64,113.96L271.04,114.17L272.44,113.87L273.84,116.86L275.24,118.42L276.64,117.78L278.04,115.82L279.44,117.36L280.84,116.04L282.24,116.08L283.64,116.05L285.04,116.56L286.44,117.19L287.84,120.01L289.24,121.65L290.64,120.22L292.04,122.07L293.44,123.18L294.84,121.78L296.24,123.72L297.64,123.23L299.04,122.93L300.44,124.11L301.84,126.21L303.24,125.71L304.64,125.54L306.04,127.57L307.44,129.78L308.84,129.63L310.24,127.89L311.64,128.49L313.04,127.06L314.44,128.89L315.84,129.75L317.24,128.46L318.64,131.25L320.04,133.41L321.44,133.14L322.84,133.08L324.24,133.85L325.64,136.31L327.04,135.84L328.44,135.59L329.84,136.74L331.24,137.68L332.64,137.35L334.04,136.82L335.44,138.22L336.84,137.41L338.24,138.71L339.64,139.73L341.04,140.29L342.44,141.72L343.84,142.35L345.24,144.03L346.64,144.16L348.04,143.68L349.44,144.19L350.84,143.93L352.24,144.13L353.64,143.88L355.04,144.66L356.44,145.42L357.84,145L359.24,145.79L360.64,146.17L362.04,146.6L363.44,147.94L364.84,148.05L366.24,147.96L367.64,148.53L369.04,148.6L370.44,148.6L371.84,148.6L373.24,148.6L374.64,148.6L376.5,148.6M101.9,148.6L133.6,174.41L152.14,150.66L165.3,104.77L175.5,103.56L183.84,116.41L190.89,98.47L197,110.87L202.38,111.64L207.2,103.85L211.56,107.93L215.54,106.76L219.2,114.9L222.59,120.45L225.74,110.02L228.69,110.81L231.47,113.07L234.08,111.48L236.55,112.36L238.9,113.47L241.13,111.02L243.26,111.12L245.29,112.64L247.24,106.17L248.64,106.9L250.04,108.65L251.44,110.91L252.84,112.83L254.24,111.12L255.64,111.47L257.04,111.47L258.44,112.98L259.84,110.51L261.24,109.9L262.64,114.56L264.04,114.88L265.44,116.54L266.84,117.59L268.24,118.82L269.64,115.65L271.04,114.83L272.44,116.75L273.84,119.14L275.24,116.44L276.64,118.72L278.04,117.51L279.44,118.15L280.84,116.66L282.24,115.37L283.64,114.69L285.04,116.44L286.44,115.09L287.84,117.8L289.24,118.77L290.64,119.91L292.04,121.14L293.44,121.37L294.84,122.13L296.24,122.96L297.64,124.25L299.04,126.58L300.44,126.03L301.84,125.88L303.24,125.1L304.64,125.81L306.04,125.85L307.44,124.79L308.84,124.06L310.24,124.1L311.64,126.77L313.04,128.06L314.44,129.02L315.84,129.4L317.24,131.44L318.64,133.04L320.04,133.65L321.44,133.7L322.84,134.06L324.24,135.54L325.64,134.79L327.04,133.67L328.44,135.7L329.84,136.27L331.24,136.5L332.64,136.99L334.04,138.8L335.44,136.13L336.84,138.99L338.24,141.56L339.64,143.05L341.04,143.24L342.44,140.82L343.84,141.12L345.24,142.22L346.64,142.93L348.04,142.48L349.44,143.27L350.84,143.66L352.24,144.86L353.64,146.1L355.04,145.26L356.44,145.55L357.84,145.55L359.24,146.32L360.64,146.73L362.04,146.86L363.44,146.67L364.84,147.16L366.24,147.42L367.64,148.34L369.04,148.6L370.44,148.6L371.84,148.6L373.24,148.6L374.64,148.6L376.5,148.6M101.9,148.6L133.6,152.17L152.14,104.61L165.3,109.65L175.5,109.65L183.84,112.05L190.89,115.57L197,116.57L202.38,114.63L207.2,118.89L211.56,119.39L215.54,120.36L219.2,120.1L222.59,120.22L225.74,114.09L228.69,113.31L231.47,110.59L234.08,110.31L236.55,106.82L238.9,105.42L241.13,107.81L243.26,111.35L245.29,107.27L247.24,107.83L248.64,106.71L250.04,110.01L251.44,106.53L252.84,106.48L254.24,109.23L255.64,113.64L257.04,111.9L258.44,111.39L259.84,111.79L261.24,111.79L262.64,108.17L264.04,113.45L265.44,112.29L266.84,113.12L268.24,117.33L269.64,115.27L271.04,112.91L272.44,113.35L273.84,113.13L275.24,111.29L276.64,115.82L278.04,115.89L279.44,117.8L280.84,116.93L282.24,117.6L283.64,118.04L285.04,118.75L286.44,120.94L287.84,119.11L289.24,117.75L290.64,120.02L292.04,120.74L293.44,121.48L294.84,121.86L296.24,122.43L297.64,122.99L299.04,123.47L300.44,125.15L301.84,126.16L303.24,125.49L304.64,125.58L306.04,127.56L307.44,129.22L308.84,128.03L310.24,128.39L311.64,131.13L313.04,130.4L314.44,130.93L315.84,129.79L317.24,131.54L318.64,132.52L320.04,132.97L321.44,132.95L322.84,133.57L324.24,136.29L325.64,136.5L327.04,137.93L328.44,136.89L329.84,137.72L331.24,138.56L332.64,136.96L334.04,140.03L335.44,139.86L336.84,139.51L338.24,136.69L339.64,138.86L341.04,140.39L342.44,141.06L343.84,141.23L345.24,142L346.64,142.72L348.04,143.32L349.44,143.24L350.84,143.88L352.24,144.32L353.64,144.49L355.04,145.22L356.44,147.35L357.84,145.97L359.24,147.44L360.64,146.76L362.04,146.88L363.44,147.34L364.84,147.86L366.24,148.21L367.64,148.56L369.04,148.6L370.44,148.6L371.84,148.6L373.24,148.6L374.64,148.6L376.5,148.6M101.9,148.6L133.6,178.87L152.14,165.28L165.3,108.78L175.5,100.61L183.84,122.65L190.89,93.22L197,117.39L202.38,95L207.2,113.53L211.56,104.14L215.54,105.29L219.2,109.15L222.59,107.05L225.74,109.44L228.69,111.81L231.47,111.38L234.08,111.94L236.55,107.1L238.9,110.69L241.13,109.88L243.26,111.34L245.29,106.14L247.24,105.84L248.64,103.23L250.04,110.52L251.44,108.72L252.84,109.25L254.24,110.13L255.64,112.51L257.04,116.3L258.44,115.97L259.84,114.36L261.24,116.77L262.64,112.26L264.04,113.83L265.44,115.65L266.84,115.3L268.24,118.07L269.64,116L271.04,118.97L272.44,118.36L273.84,117.46L275.24,117L276.64,115.57L278.04,116.84L279.44,117.97L280.84,121.65L282.24,119.21L283.64,118.6L285.04,118.91L286.44,120.05L287.84,118.68L289.24,119.69L290.64,119.16L292.04,117.39L293.44,121.7L294.84,122.46L296.24,124.23L297.64,124.02L299.04,123.52L300.44,123.62L301.84,123.68L303.24,124.55L304.64,126.2L306.04,126.82L307.44,127.88L308.84,127.91L310.24,130.01L311.64,129.12L313.04,129.28L314.44,130.34L315.84,131.47L317.24,133.94L318.64,133.62L320.04,132.41L321.44,133.99L322.84,133.45L324.24,135L325.64,135.89L327.04,137.67L328.44,136.63L329.84,135.88L331.24,136.53L332.64,136.59L334.04,136.38L335.44,138.5L336.84,138.81L338.24,138.89L339.64,138.61L341.04,140.56L342.44,138.77L343.84,139.65L345.24,140.61L346.64,142.33L348.04,143.06L349.44,144.53L350.84,145.28L352.24,145.84L353.64,145.45L355.04,145.25L356.44,145.08L357.84,145.89L359.24,146.03L360.64,145.63L362.04,146.49L363.44,147.51L364.84,148.26L366.24,148.36L367.64,148.54L369.04,148.6L370.44,148.6L371.84,148.6L373.24,148.6L374.64,148.6L376.5,148.6M101.9,148.6L133.6,172.89L152.14,152.51L165.3,104.25L175.5,98.17L183.84,112.9L190.89,135.97L197,90.68L202.38,117.35L207.2,119.49L211.56,116.04L215.54,111.7L219.2,104.42L222.59,103.09L225.74,108.26L228.69,112.06L231.47,110.1L234.08,109.02L236.55,105.51L238.9,104.64L241.13,105.37L243.26,109.38L245.29,111.14L247.24,111.47L248.64,106.24L250.04,110.87L251.44,111.13L252.84,109.61L254.24,106.24L255.64,109.92L257.04,111.75L258.44,113.51L259.84,112.47L261.24,112.45L262.64,111.01L264.04,110.66L265.44,112.02L266.84,111.9L268.24,109.75L269.64,110.6L271.04,113.4L272.44,113.65L273.84,115.26L275.24,114.72L276.64,116.89L278.04,117.72L279.44,117.53L280.84,118.91L282.24,117.83L283.64,117.41L285.04,117.36L286.44,120.75L287.84,123.26L289.24,122.02L290.64,121.82L292.04,123.16L293.44,121.74L294.84,123.48L296.24,124.64L297.64,124.47L299.04,125.88L300.44,123.79L301.84,125L303.24,125.66L304.64,126.28L306.04,127.7L307.44,128.31L308.84,128.77L310.24,128.58L311.64,130.86L313.04,128.55L314.44,128.14L315.84,126.59L317.24,130.87L318.64,131.98L320.04,129.76L321.44,132.01L322.84,133.24L324.24,134.12L325.64,135.51L327.04,134.97L328.44,136.35L329.84,136.12L331.24,136.75L332.64,136.06L334.04,137.15L335.44,138.38L336.84,140.1L338.24,139.45L339.64,139.48L341.04,140.56L342.44,140.66L343.84,140.7L345.24,140.86L346.64,142.86L348.04,142.52L349.44,144.22L350.84,143.95L352.24,144.59L353.64,145L355.04,145.45L356.44,144.87L357.84,145.74L359.24,146.37L360.64,146.92L362.04,147.66L363.44,147.52L364.84,148.13L366.24,148.37L367.64,148.51L369.04,148.6L370.44,148.6L371.84,148.6L373.24,148.6L374.64,148.6L376.5,148.6M101.9,148.6L133.6,156.76L152.14,136.49L165.3,116.77L175.5,107.36L183.84,119.77L190.89,98.05L197,120.73L202.38,103.73L207.2,118.55L211.56,122.49L215.54,115.13L219.2,112.66L222.59,110.44L225.74,113.56L228.69,108.56L231.47,113.88L234.08,115.43L236.55,114.6L238.9,113.41L241.13,109.71L243.26,109.61L245.29,109.06L247.24,112.93L248.64,109.91L250.04,113.2L251.44,114.68L252.84,113.74L254.24,111.03L255.64,108.3L257.04,111.34L258.44,114.67L259.84,114.04L261.24,115.67L262.64,113.63L264.04,116.39L265.44,116.19L266.84,115.79L268.24,118.15L269.64,116.2L271.04,114.79L272.44,114.77L273.84,114.76L275.24,118.68L276.64,115.42L278.04,115.6L279.44,116.62L280.84,116.36L282.24,117.68L283.64,118.22L285.04,119.98L286.44,118.79L287.84,118.55L289.24,117.61L290.64,120.75L292.04,120.71L293.44,120.64L294.84,121.86L296.24,122.25L297.64,123.74L299.04,123.52L300.44,125.43L301.84,124.98L303.24,127.32L304.64,126L306.04,127.08L307.44,126.67L308.84,125.99L310.24,127.38L311.64,128.29L313.04,129.29L314.44,130.42L315.84,131.15L317.24,132.78L318.64,131.91L320.04,130.68L321.44,133.19L322.84,133.45L324.24,132.2L325.64,135.03L327.04,134.88L328.44,136.58L329.84,136.95L331.24,136.84L332.64,138.17L334.04,139.68L335.44,138.99L336.84,138.93L338.24,140.05L339.64,139.85L341.04,142.16L342.44,141.44L343.84,142.84L345.24,141.97L346.64,142.17L348.04,143.05L349.44,144.23L350.84,144.7L352.24,144.49L353.64,144.76L355.04,145.18L356.44,146.39L357.84,146.94L359.24,146.66L360.64,146.77L362.04,146.93L363.44,147.44L364.84,148.15L366.24,148.55L367.64,148.61L369.04,148.6L370.44,148.6L371.84,148.6L373.24,148.6L374.64,148.6L376.5,148.6M101.9,148.6L133.6,143.41L152.14,88.35L165.3,107.71L175.5,115L183.84,105.01L190.89,120.23L197,88.06L202.38,114.75L207.2,122.67L211.56,120.58L215.54,124.16L219.2,115.3L222.59,108.29L225.74,113.5L228.69,111.92L231.47,112.98L234.08,112.05L236.55,105.67L238.9,105.03L241.13,110.4L243.26,109.49L245.29,110.82L247.24,110.97L248.64,111.55L250.04,110.88L251.44,112.51L252.84,114.89L254.24,114.8L255.64,112.1L257.04,112.17L258.44,114.65L259.84,111.62L261.24,108.35L262.64,109.19L264.04,112.48L265.44,113.65L266.84,114.37L268.24,113.51L269.64,113.87L271.04,112.9L272.44,113.66L273.84,115.22L275.24,116.26L276.64,118.77L278.04,119.09L279.44,116.95L280.84,119.9L282.24,117.26L283.64,118.59L285.04,118.72L286.44,118.78L287.84,118.29L289.24,115.8L290.64,119.41L292.04,120.74L293.44,122.69L294.84,123.75L296.24,122.44L297.64,123.7L299.04,124.69L300.44,124.1L301.84,125.46L303.24,125.52L304.64,125.92L306.04,126.21L307.44,126.16L308.84,127.65L310.24,127.67L311.64,127.76L313.04,127.02L314.44,128.76L315.84,128.93L317.24,127.86L318.64,130.44L320.04,131.02L321.44,132.66L322.84,134.27L324.24,135.23L325.64,135.62L327.04,136.92L328.44,137.43L329.84,138.92L331.24,139.27L332.64,139.19L334.04,139.16L335.44,139.56L336.84,139.32L338.24,139.47L339.64,140.35L341.04,140.54L342.44,141.51L343.84,141.25L345.24,140.73L346.64,141.41L348.04,142.21L349.44,143.59L350.84,144.74L352.24,146.08L353.64,146.26L355.04,146.09L356.44,145.4L357.84,145.61L359.24,146.07L360.64,148.01L362.04,148.26L363.44,147.56L364.84,147.74L366.24,148.27L367.64,148.6L369.04,148.6L370.44,148.6L371.84,148.6L373.24,148.6L374.64,148.6L376.5,148.6M101.9,148.6L133.6,148.09L152.14,84.03L165.3,108.15L175.5,113.37L183.84,118.85L190.89,94.55L197,114.21L202.38,115.08L207.2,104.32L211.56,104.93L215.54,108.32L219.2,114.73L222.59,115.77L225.74,114.72L228.69,109.66L231.47,111.61L234.08,109.66L236.55,109.39L238.9,111.51L241.13,112.76L243.26,117.17L245.29,110.88L247.24,109.27L248.64,111.67L250.04,110.09L251.44,109.58L252.84,105.59L254.24,108.34L255.64,108.77L257.04,109.76L258.44,110.41L259.84,109.81L261.24,111.69L262.64,110.36L264.04,106.67L265.44,110.21L266.84,110.53L268.24,108.94L269.64,110.67L271.04,114.26L272.44,116.37L273.84,119.34L275.24,120.31L276.64,118.07L278.04,119.77L279.44,118.64L280.84,118.75L282.24,117.4L283.64,119.12L285.04,119.16L286.44,115.81L287.84,116.54L289.24,119.08L290.64,119.6L292.04,120.18L293.44,120.86L294.84,123.26L296.24,123.98L297.64,124.54L299.04,125.71L300.44,124.4L301.84,123.07L303.24,124.83L304.64,125.3L306.04,126.39L307.44,126.76L308.84,127.78L310.24,128.6L311.64,129.01L313.04,129.22L314.44,130.12L315.84,130.49L317.24,129.98L318.64,130.81L320.04,128.88L321.44,130.85L322.84,133.27L324.24,135.09L325.64,135.96L327.04,135.39L328.44,134.9L329.84,135.23L331.24,136.54L332.64,136.73L334.04,137.26L335.44,138.37L336.84,139.59L338.24,138.14L339.64,139.13L341.04,139.52L342.44,140.63L343.84,141L345.24,141.33L346.64,140.61L348.04,142.14L349.44,145L350.84,144.34L352.24,145.29L353.64,146.48L355.04,146.45L356.44,145.61L357.84,146.84L359.24,147.52L360.64,147.44L362.04,146.63L363.44,147.53L364.84,148.22L366.24,148.4L367.64,148.55L369.04,148.6L370.44,148.6L371.84,148.6L373.24,148.6L374.64,148.6L376.5,148.6M101.9,148.6L133.6,169.9L152.14,145.35L165.3,101.92L175.5,104.14L183.84,112.94L190.89,116.95L197,121.82L202.38,107.93L207.2,121.77L211.56,112.87L215.54,109.14L219.2,108.91L222.59,110.57L225.74,110.67L228.69,111.49L231.47,110.95L234.08,109.65L236.55,110.74L238.9,111.95L241.13,110.22L243.26,110.23L245.29,109.2L247.24,112.66L248.64,112.53L250.04,110.1L251.44,111.8L252.84,111.98L254.24,111.41L255.64,115.01L257.04,115.57L258.44,113.07L259.84,110.94L261.24,112.01L262.64,111.13L264.04,108.42L265.44,111.57L266.84,110.52L268.24,113.19L269.64,116.57L271.04,114.94L272.44,116.35L273.84,114.84L275.24,115.16L276.64,117.67L278.04,117.46L279.44,117.3L280.84,117.71L282.24,116.71L283.64,117.71L285.04,118.8L286.44,119.3L287.84,122.63L289.24,121.37L290.64,122.63L292.04,121.1L293.44,120.92L294.84,121.89L296.24,123.39L297.64,123.03L299.04,124.08L300.44,124.99L301.84,126.01L303.24,126.62L304.64,127.81L306.04,127.22L307.44,126.84L308.84,126.71L310.24,128.92L311.64,128.83L313.04,129.51L314.44,130.98L315.84,131.27L317.24,132.88L318.64,132.56L320.04,132.89L321.44,134.12L322.84,133.66L324.24,136.1L325.64,136.46L327.04,136.11L328.44,136.14L329.84,135.95L331.24,137.41L332.64,137.61L334.04,139.09L335.44,138.83L336.84,137.02L338.24,136.52L339.64,139.36L341.04,139.7L342.44,140.17L343.84,140.37L345.24,141.54L346.64,142.27L348.04,144.19L349.44,144.33L350.84,145.58L352.24,145.94L353.64,144.54L355.04,144.98L356.44,145.03L357.84,145.96L359.24,145.82L360.64,146.06L362.04,146.84L363.44,147.01L364.84,146.97L366.24,147.99L367.64,148.42L369.04,148.6L370.44,148.6L371.84,148.6L373.24,148.6L374.64,148.6L376.5,148.6M101.9,148.6L133.6,168.98L152.14,148.83L165.3,106.79L175.5,108.38L183.84,102.83L190.89,119.73L197,119.09L202.38,107.2L207.2,113.24L211.56,113.8L215.54,116.2L219.2,110.79L222.59,110.92L225.74,111.72L228.69,110.91L231.47,112.13L234.08,108.33L236.55,109.6L238.9,113.14L241.13,113.62L243.26,110.44L245.29,110.23L247.24,109.13L248.64,112.31L250.04,113.07L251.44,110.73L252.84,108.01L254.24,107.16L255.64,110.4L257.04,107.01L258.44,111.82L259.84,111.4L261.24,111.7L262.64,111.02L264.04,115.09L265.44,114.74L266.84,113.1L268.24,110.66L269.64,109.46L271.04,111.17L272.44,114.38L273.84,116L275.24,115.94L276.64,115.73L278.04,115.53L279.44,114.57L280.84,114.25L282.24,116.89L283.64,118.5L285.04,117.87L286.44,119.07L287.84,120.46L289.24,121.31L290.64,120.14L292.04,120.63L293.44,121.46L294.84,120.41L296.24,122.42L297.64,122.94L299.04,123.95L300.44,124.74L301.84,124.83L303.24,122.68L304.64,123.12L306.04,126.16L307.44,126.41L308.84,126.51L310.24,127.87L311.64,129.3L313.04,131.54L314.44,132.72L315.84,133.37L317.24,131.11L318.64,131.12L320.04,132.3L321.44,133.19L322.84,133.93L324.24,134.71L325.64,134.59L327.04,135.08L328.44,135.14L329.84,136.06L331.24,136.83L332.64,137.04L334.04,137.46L335.44,138.46L336.84,138.59L338.24,139.36L339.64,140.04L341.04,140.57L342.44,142.94L343.84,142.99L345.24,143.52L346.64,144.23L348.04,143.7L349.44,143.16L350.84,144.05L352.24,144.37L353.64,145L355.04,144.75L356.44,144.43L357.84,145.13L359.24,146.17L360.64,147.13L362.04,147.12L363.44,147.83L364.84,148.03L366.24,148.42L367.64,148.54L369.04,148.6L370.44,148.6L371.84,148.6L373.24,148.6L374.64,148.6L376.5,148.6M101.9,148.6L133.6,169.35L152.14,150.94L165.3,111.96L175.5,102.57L183.84,90.73L190.89,112L197,121.64L202.38,104.35L207.2,116.54L211.56,118.82L215.54,114.42L219.2,106.2L222.59,107.16L225.74,113.71L228.69,112.35L231.47,108.7L234.08,112.63L236.55,109.81L238.9,107.96L241.13,110.39L243.26,109.77L245.29,110.91L247.24,106.85L248.64,109.37L250.04,110.43L251.44,110.25L252.84,110.01L254.24,111.01L255.64,110.72L257.04,113.44L258.44,115.1L259.84,114.61L261.24,114.35L262.64,114.96L264.04,117.63L265.44,111.56L266.84,110.82L268.24,108.04L269.64,113.76L271.04,114.72L272.44,114.58L273.84,116.92L275.24,117.73L276.64,118.93L278.04,120.14L279.44,118.17L280.84,117.47L282.24,116.53L283.64,116.75L285.04,119.22L286.44,120.43L287.84,120.3L289.24,121.34L290.64,120.15L292.04,120.57L293.44,120.33L294.84,119.76L296.24,119.1L297.64,121.82L299.04,123.83L300.44,125.34L301.84,122.75L303.24,126.16L304.64,126.98L306.04,125.88L307.44,126.69L308.84,124.24L310.24,127.93L311.64,128.56L313.04,128.37L314.44,129.86L315.84,128.6L317.24,129.3L318.64,131.15L320.04,128.45L321.44,131.87L322.84,133.63L324.24,134.45L325.64,136.07L327.04,136.64L328.44,136.34L329.84,137.93L331.24,137.18L332.64,137.39L334.04,136.36L335.44,137.38L336.84,138.84L338.24,140.45L339.64,140.67L341.04,140.17L342.44,139.91L343.84,140.31L345.24,141.02L346.64,143.16L348.04,143.14L349.44,143.78L350.84,143.74L352.24,144.75L353.64,144.59L355.04,145.38L356.44,146.79L357.84,146.91L359.24,146.82L360.64,146.41L362.04,147.53L363.44,147.58L364.84,147.97L366.24,148.54L367.64,148.61L369.04,148.6L370.44,148.6L371.84,148.6L373.24,148.6L374.64,148.6L376.5,148.6M101.9,148.6L133.6,145.27L152.14,94.3L165.3,112.02L175.5,99.08L183.84,126.54L190.89,121.52L197,103.99L202.38,112L207.2,108.86L211.56,109.85L215.54,121.25L219.2,120.56L222.59,122.3L225.74,116.57L228.69,112.12L231.47,111.53L234.08,114.36L236.55,112.37L238.9,108.53L241.13,112.36L243.26,114.23L245.29,111.97L247.24,108.05L248.64,115.4L250.04,112.23L251.44,111.12L252.84,110.24L254.24,111.73L255.64,111.17L257.04,112.49L258.44,113.56L259.84,112.96L261.24,112.94L262.64,112.22L264.04,112.06L265.44,112.71L266.84,112.67L268.24,111.78L269.64,111.31L271.04,115.93L272.44,114.49L273.84,117.32L275.24,115.2L276.64,115.69L278.04,115.28L279.44,116.07L280.84,116.43L282.24,118.72L283.64,119.18L285.04,119.5L286.44,118.51L287.84,119.69L289.24,120.62L290.64,118.68L292.04,119.72L293.44,120.54L294.84,121.7L296.24,122.18L297.64,123.01L299.04,121.3L300.44,123.96L301.84,124.46L303.24,125.09L304.64,125.48L306.04,126.69L307.44,129.23L308.84,129.09L310.24,127.27L311.64,127.86L313.04,129.22L314.44,130.7L315.84,131.54L317.24,132L318.64,131.52L320.04,133.1L321.44,133.39L322.84,133.26L324.24,133.9L325.64,133.7L327.04,135.1L328.44,135.68L329.84,136.04L331.24,133.41L332.64,136.58L334.04,136.48L335.44,137.66L336.84,138.99L338.24,139.49L339.64,142.54L341.04,142.06L342.44,142.92L343.84,142.12L345.24,142.81L346.64,142.98L348.04,144.49L349.44,143.41L350.84,143.4L352.24,143.99L353.64,143.95L355.04,144.98L356.44,145.21L357.84,145.64L359.24,146.39L360.64,147.8L362.04,147.15L363.44,147.39L364.84,147.36L366.24,147.91L367.64,148.36L369.04,148.6L370.44,148.6L371.84,148.6L373.24,148.6L374.64,148.6L376.5,148.6M101.9,148.6L133.6,165.61L152.14,141.34L165.3,108.51L175.5,96L183.84,116.08L190.89,123.14L197,120.46L202.38,117.88L207.2,114.8L211.56,123.95L215.54,114.02L219.2,109.94L222.59,107.48L225.74,112.21L228.69,108.88L231.47,109.32L234.08,109.07L236.55,110.03L238.9,104.16L241.13,108.02L243.26,105.98L245.29,110.61L247.24,114.46L248.64,112.48L250.04,112.74L251.44,110.88L252.84,106.83L254.24,110.26L255.64,110.45L257.04,110.79L258.44,111.06L259.84,110.22L261.24,107.13L262.64,111.66L264.04,114.63L265.44,115.55L266.84,113.27L268.24,109.04L269.64,111.84L271.04,113.94L272.44,113.01L273.84,113.99L275.24,114.37L276.64,115.64L278.04,115.57L279.44,116.34L280.84,117.53L282.24,117.33L283.64,116.31L285.04,118.37L286.44,121.24L287.84,119.02L289.24,120.34L290.64,121.48L292.04,122.04L293.44,120.98L294.84,121.71L296.24,122.43L297.64,123.43L299.04,124.44L300.44,124.43L301.84,125.55L303.24,124.81L304.64,125.63L306.04,125.6L307.44,128.78L308.84,130.59L310.24,130.48L311.64,130.41L313.04,130.63L314.44,129.83L315.84,131.14L317.24,130.88L318.64,131.38L320.04,132.31L321.44,132.17L322.84,132.64L324.24,135.02L325.64,137.29L327.04,137.31L328.44,136.8L329.84,136.12L331.24,136.78L332.64,135.82L334.04,137.41L335.44,138.91L336.84,140.14L338.24,140.35L339.64,139.92L341.04,139.9L342.44,140.91L343.84,142.33L345.24,143.16L346.64,143.64L348.04,144.72L349.44,145.87L350.84,145.69L352.24,146.04L353.64,145.41L355.04,145.31L356.44,146.48L357.84,145.41L359.24,146L360.64,145.75L362.04,146.3L363.44,147.21L364.84,147.85L366.24,147.82L367.64,148.47L369.04,148.6L370.44,148.6L371.84,148.6L373.24,148.6L374.64,148.6L376.5,148.6M101.9,148.6L133.6,168.94L152.14,150.39L165.3,110.31L175.5,104.49L183.84,123.1L190.89,128.21L197,88.37L202.38,116.81L207.2,107.64L211.56,117.63L215.54,117.15L219.2,113.53L222.59,107.49L225.74,108.52L228.69,108.9L231.47,109.35L234.08,108.54L236.55,105.75L238.9,104.07L241.13,106.71L243.26,109.62L245.29,108.45L247.24,112.12L248.64,111.65L250.04,111.65L251.44,110.7L252.84,110.48L254.24,113.53L255.64,113.6L257.04,115.71L258.44,116.44L259.84,114.6L261.24,113.52L262.64,115.01L264.04,115.33L265.44,112.67L266.84,111.91L268.24,111.94L269.64,110.73L271.04,114.51L272.44,115.68L273.84,117.16L275.24,117.46L276.64,117.82L278.04,119.17L279.44,118.09L280.84,117.96L282.24,121.72L283.64,118.73L285.04,118.18L286.44,117.87L287.84,119.65L289.24,122.56L290.64,120.79L292.04,121.29L293.44,121.35L294.84,121.66L296.24,121.79L297.64,121.49L299.04,123.21L300.44,123.54L301.84,123.81L303.24,123.75L304.64,124.23L306.04,123.4L307.44,127.62L308.84,127.3L310.24,128.65L311.64,129.22L313.04,129.28L314.44,131.15L315.84,130.24L317.24,130.71L318.64,131.13L320.04,132.16L321.44,132.66L322.84,133.39L324.24,134.8L325.64,132.69L327.04,134.29L328.44,135.68L329.84,138.12L331.24,137.2L332.64,136.79L334.04,137.51L335.44,138.18L336.84,138.74L338.24,138.81L339.64,139.47L341.04,140.07L342.44,143.18L343.84,141.56L345.24,141.8L346.64,139.79L348.04,143.02L349.44,143.57L350.84,143.93L352.24,144.82L353.64,144.77L355.04,145.63L356.44,144.5L357.84,145.99L359.24,146.12L360.64,146.76L362.04,147.96L363.44,147.64L364.84,148.07L366.24,148.59L367.64,148.54L369.04,148.6L370.44,148.6L371.84,148.6L373.24,148.6L374.64,148.6L376.5,148.6M101.9,148.6L133.6,152.67L152.14,102.95L165.3,106.3L175.5,97.45L183.84,116.73L190.89,111.76L197,122.54L202.38,109.24L207.2,112.59L211.56,108.19L215.54,106.56L219.2,113.51L222.59,117.42L225.74,107.61L228.69,111.11L231.47,108.55L234.08,104.78L236.55,108.2L238.9,108.08L241.13,107.26L243.26,111.97L245.29,112.74L247.24,115.64L248.64,106.69L250.04,103.01L251.44,110L252.84,107.21L254.24,109.26L255.64,106.36L257.04,108L258.44,111.13L259.84,105.46L261.24,105.81L262.64,112.12L264.04,113.38L265.44,112.12L266.84,112.41L268.24,114.24L269.64,114.12L271.04,113.71L272.44,114.27L273.84,114.16L275.24,115.53L276.64,115.56L278.04,116.05L279.44,116.14L280.84,116.87L282.24,119.02L283.64,120.52L285.04,120.32L286.44,119.75L287.84,118.62L289.24,122.02L290.64,123.67L292.04,124.18L293.44,123.08L294.84,121.72L296.24,120.58L297.64,123.58L299.04,123.36L300.44,124.01L301.84,123.77L303.24,123.33L304.64,125.41L306.04,128.97L307.44,128.24L308.84,126.99L310.24,127.95L311.64,128.53L313.04,129.09L314.44,130.08L315.84,130.51L317.24,131.96L318.64,132.25L320.04,131.28L321.44,132L322.84,133.72L324.24,136.38L325.64,137.24L327.04,136.76L328.44,135.67L329.84,135.92L331.24,136.65L332.64,138.72L334.04,139.38L335.44,140.04L336.84,140.22L338.24,141.13L339.64,140.29L341.04,140.7L342.44,140.9L343.84,142.04L345.24,142.13L346.64,139.98L348.04,140.9L349.44,141.35L350.84,142.55L352.24,143.44L353.64,143.92L355.04,143.75L356.44,145.61L357.84,145.28L359.24,146.37L360.64,147.3L362.04,147.73L363.44,147.95L364.84,147.87L366.24,148.24L367.64,148.56L369.04,148.6L370.44,148.6L371.84,148.6L373.24,148.6L374.64,148.6L376.5,148.6M101.9,148.6L133.6,157.63L152.14,142.09L165.3,105.67L175.5,109.53L183.84,125.29L190.89,98.64L197,126.21L202.38,108.17L207.2,112.43L211.56,115.72L215.54,121.12L219.2,117.59L222.59,120.17L225.74,112.96L228.69,113.38L231.47,113.1L234.08,110.33L236.55,112.66L238.9,112.45L241.13,111.58L243.26,114.15L245.29,111.03L247.24,107.39L248.64,106.9L250.04,109.49L251.44,110.87L252.84,113.99L254.24,113.34L255.64,110.48L257.04,110.05L258.44,115.28L259.84,113.84L261.24,111.55L262.64,111.69L264.04,111.16L265.44,109.52L266.84,111.97L268.24,112.18L269.64,114.57L271.04,115.9L272.44,118.17L273.84,117.71L275.24,119.2L276.64,115.67L278.04,116.11L279.44,118.08L280.84,116.83L282.24,116.58L283.64,116.36L285.04,117.37L286.44,118.87L287.84,118.97L289.24,120.45L290.64,121.21L292.04,121.65L293.44,121.26L294.84,121.73L296.24,121.7L297.64,122.11L299.04,123L300.44,123.22L301.84,123.28L303.24,125.69L304.64,127.24L306.04,128.45L307.44,128.18L308.84,128.43L310.24,129.9L311.64,128.81L313.04,128.48L314.44,128.96L315.84,126.88L317.24,131.45L318.64,133.11L320.04,133.62L321.44,135.21L322.84,133.87L324.24,134.11L325.64,134.37L327.04,133.29L328.44,134.99L329.84,137.5L331.24,136.65L332.64,137.8L334.04,137.95L335.44,137.86L336.84,140L338.24,140.19L339.64,141.19L341.04,142.21L342.44,141.16L343.84,142.41L345.24,141.98L346.64,140.8L348.04,140.31L349.44,140.84L350.84,142.9L352.24,143.8L353.64,143.42L355.04,143.55L356.44,145.75L357.84,146.55L359.24,146.37L360.64,147.02L362.04,147.55L363.44,147.4L364.84,147.61L366.24,147.94L367.64,148.42L369.04,148.6L370.44,148.6L371.84,148.6L373.24,148.6L374.64,148.6L376.5,148.6M101.9,148.6L133.6,149.44L152.14,91.41L165.3,114.39L175.5,104.02L183.84,118.85L190.89,93.88L197,119.4L202.38,103.84L207.2,113.35L211.56,110.34L215.54,108.14L219.2,110.69L222.59,109.56L225.74,111.48L228.69,106.8L231.47,105.53L234.08,109.68L236.55,107.49L238.9,107.27L241.13,105.14L243.26,106.76L245.29,108.22L247.24,107.02L248.64,110.19L250.04,109.4L251.44,103.36L252.84,104.97L254.24,106.2L255.64,110.14L257.04,111.35L258.44,114.41L259.84,114L261.24,115.37L262.64,112.27L264.04,118.18L265.44,112.51L266.84,112.96L268.24,114.1L269.64,112.62L271.04,110.7L272.44,116.23L273.84,114.54L275.24,115.3L276.64,116.84L278.04,116.01L279.44,115.48L280.84,116.62L282.24,117.92L283.64,118.87L285.04,118.31L286.44,120.2L287.84,122.04L289.24,121.25L290.64,120.86L292.04,121.98L293.44,121.19L294.84,122.35L296.24,124.41L297.64,123.63L299.04,122.97L300.44,123.79L301.84,125.99L303.24,127.31L304.64,129.12L306.04,128.6L307.44,128.16L308.84,126.56L310.24,128.06L311.64,130.59L313.04,130.93L314.44,130.96L315.84,129.42L317.24,131.42L318.64,133.28L320.04,132.42L321.44,133.39L322.84,130.81L324.24,134.47L325.64,134.25L327.04,134.5L328.44,135.38L329.84,136.08L331.24,136.49L332.64,137.23L334.04,137.96L335.44,139.27L336.84,140.67L338.24,140.13L339.64,139.96L341.04,143.11L342.44,142.15L343.84,141.73L345.24,142.76L346.64,143.94L348.04,143.03L349.44,143.88L350.84,144.76L352.24,144.76L353.64,144.75L355.04,146.42L356.44,145.66L357.84,146.68L359.24,147.15L360.64,147.25L362.04,147.75L363.44,147.93L364.84,148.44L366.24,148.55L367.64,148.51L369.04,148.6L370.44,148.6L371.84,148.6L373.24,148.6L374.64,148.6L376.5,148.6M101.9,148.6L133.6,175.77L152.14,151.62L165.3,102.89L175.5,110.89L183.84,111.17L190.89,116.43L197,132.35L202.38,108.26L207.2,115.38L211.56,107.31L215.54,110.29L219.2,121.67L222.59,119.5L225.74,119.26L228.69,114.77L231.47,111.93L234.08,108.86L236.55,107.3L238.9,108.34L241.13,109.61L243.26,107.39L245.29,106.67L247.24,105.66L248.64,106.49L250.04,110.54L251.44,112.95L252.84,112.83L254.24,113.49L255.64,114.92L257.04,110.27L258.44,111.04L259.84,109.67L261.24,106.12L262.64,112.32L264.04,117.6L265.44,116.74L266.84,111.55L268.24,114.84L269.64,114.18L271.04,114.18L272.44,116.04L273.84,116.65L275.24,112.81L276.64,114.52L278.04,114.66L279.44,113.76L280.84,113.31L282.24,115.5L283.64,115.29L285.04,118.97L286.44,117.97L287.84,120.18L289.24,118.94L290.64,119.66L292.04,120.64L293.44,121.08L294.84,122.15L296.24,122.79L297.64,123.14L299.04,124.05L300.44,125.55L301.84,125.17L303.24,125.08L304.64,125.83L306.04,125.68L307.44,126.29L308.84,124.28L310.24,127.16L311.64,128.48L313.04,128.99L314.44,129.41L315.84,129.4L317.24,130.68L318.64,129.87L320.04,131.67L321.44,131.69L322.84,133.64L324.24,136.76L325.64,136.24L327.04,137.36L328.44,138.16L329.84,136.23L331.24,136.13L332.64,136.44L334.04,138.12L335.44,138.8L336.84,140.04L338.24,140.43L339.64,140.16L341.04,140.33L342.44,140.72L343.84,141.79L345.24,141.52L346.64,143.43L348.04,142.41L349.44,143.66L350.84,143.85L352.24,144.35L353.64,144.18L355.04,145.19L356.44,145.4L357.84,145.81L359.24,147.11L360.64,147.63L362.04,147.06L363.44,147.71L364.84,147.08L366.24,148.26L367.64,148.55L369.04,148.6L370.44,148.6L371.84,148.6L373.24,148.6L374.64,148.6L376.5,148.6M101.9,148.6L133.6,153.91L152.14,97.04L165.3,113.95L175.5,90.47L183.84,120.52L190.89,93.36L197,115.99L202.38,106.55L207.2,114.81L211.56,109.54L215.54,107.38L219.2,107.27L222.59,119.03L225.74,118.5L228.69,114.49L231.47,112.42L234.08,113.46L236.55,108.88L238.9,105.25L241.13,102.75L243.26,102.92L245.29,106.36L247.24,109.95L248.64,113.41L250.04,112.16L251.44,112.58L252.84,112.38L254.24,112.46L255.64,108.35L257.04,110.16L258.44,110.47L259.84,109.91L261.24,109.38L262.64,107.87L264.04,112.49L265.44,111.07L266.84,112.6L268.24,115.36L269.64,114.63L271.04,115.86L272.44,116.68L273.84,117.47L275.24,117.92L276.64,117.17L278.04,119.59L279.44,116.49L280.84,120.07L282.24,121.27L283.64,119.43L285.04,118.55L286.44,116.15L287.84,119.03L289.24,120.18L290.64,120.52L292.04,120.39L293.44,121.43L294.84,121.15L296.24,122.43L297.64,123.51L299.04,123.6L300.44,123.12L301.84,125.8L303.24,126.43L304.64,127.86L306.04,128.18L307.44,128.06L308.84,128.93L310.24,129.39L311.64,130.3L313.04,129.79L314.44,129.57L315.84,130.08L317.24,131.13L318.64,131.6L320.04,133.31L321.44,134.45L322.84,135.86L324.24,134.25L325.64,134.3L327.04,134.73L328.44,135.42L329.84,136.09L331.24,136.58L332.64,137.32L334.04,138.99L335.44,140.32L336.84,140.86L338.24,139.55L339.64,141.82L341.04,142.06L342.44,142.2L343.84,141.79L345.24,142L346.64,142.66L348.04,144.54L349.44,143.78L350.84,143.99L352.24,143.99L353.64,144.75L355.04,145.79L356.44,146.03L357.84,145.72L359.24,146.38L360.64,147.53L362.04,146.75L363.44,147.41L364.84,147.68L366.24,148.16L367.64,148.52L369.04,148.6L370.44,148.6L371.84,148.6L373.24,148.6L374.64,148.6L376.5,148.6M101.9,148.6L133.6,167.22L152.14,145.16L165.3,111.81L175.5,101.43L183.84,125.34L190.89,106.2L197,92.96L202.38,118.84L207.2,125.6L211.56,119.03L215.54,118.72L219.2,113.42L222.59,108.97L225.74,115.56L228.69,108.76L231.47,109.18L234.08,113.45L236.55,114.08L238.9,110.4L241.13,107.9L243.26,108.17L245.29,107.16L247.24,111.72L248.64,112.72L250.04,114.97L251.44,111.28L252.84,111.24L254.24,112.84L255.64,113.7L257.04,112.51L258.44,114.8L259.84,113.29L261.24,111.52L262.64,109.83L264.04,108.19L265.44,108.01L266.84,112.03L268.24,107.56L269.64,111.02L271.04,113.9L272.44,116.84L273.84,119.67L275.24,117.33L276.64,117.01L278.04,119.58L279.44,119.22L280.84,116.75L282.24,114.89L283.64,117.23L285.04,118.78L286.44,119.78L287.84,119.65L289.24,120.22L290.64,120.6L292.04,120.65L293.44,122L294.84,119.65L296.24,122.08L297.64,123L299.04,123.56L300.44,123.32L301.84,121.84L303.24,121.29L304.64,123.67L306.04,125.22L307.44,126.99L308.84,128.17L310.24,128.74L311.64,128.65L313.04,129.24L314.44,131.61L315.84,130.6L317.24,131.99L318.64,131.73L320.04,132.21L321.44,133.26L322.84,134.54L324.24,134.13L325.64,134.83L327.04,134.12L328.44,135.74L329.84,136.08L331.24,134.33L332.64,137.38L334.04,136.54L335.44,138.09L336.84,139.03L338.24,140.55L339.64,141.95L341.04,140.3L342.44,140.83L343.84,141.57L345.24,142.19L346.64,143.58L348.04,142.59L349.44,144.03L350.84,144.2L352.24,143.84L353.64,144.75L355.04,144.64L356.44,145.4L357.84,146.27L359.24,146.33L360.64,146.96L362.04,147.82L363.44,147.81L364.84,148.45L366.24,148.42L367.64,148.52L369.04,148.6L370.44,148.6L371.84,148.6L373.24,148.6L374.64,148.6L376.5,148.6M101.9,148.6L133.6,144.36L152.14,89.9L165.3,108.75L175.5,107.95L183.84,117.5L190.89,114.81L197,97.83L202.38,113.35L207.2,116.64L211.56,104.27L215.54,109.95L219.2,113.08L222.59,111.25L225.74,108.66L228.69,107.07L231.47,106.98L234.08,103.25L236.55,103.05L238.9,107.61L241.13,108.04L243.26,112.5L245.29,113.36L247.24,112.35L248.64,115.54L250.04,113.38L251.44,112.67L252.84,111.38L254.24,113.02L255.64,110.74L257.04,113.23L258.44,114.37L259.84,113.43L261.24,114.8L262.64,114.33L264.04,114.58L265.44,113.82L266.84,114.41L268.24,115.27L269.64,113.35L271.04,115.51L272.44,118.22L273.84,119.08L275.24,118.52L276.64,115.08L278.04,114.62L279.44,117.93L280.84,118.2L282.24,117.32L283.64,117.36L285.04,118.26L286.44,118.27L287.84,118.19L289.24,118.23L290.64,120.17L292.04,120.43L293.44,121.37L294.84,122.69L296.24,124.37L297.64,124.89L299.04,124.79L300.44,125.48L301.84,125.26L303.24,125.29L304.64,124.73L306.04,126.36L307.44,128.6L308.84,129.85L310.24,128.06L311.64,128.26L313.04,128.25L314.44,129.77L315.84,131.53L317.24,130.94L318.64,131.72L320.04,132.25L321.44,133.89L322.84,135L324.24,134.58L325.64,136.67L327.04,136.01L328.44,136.69L329.84,137.24L331.24,136.37L332.64,136.45L334.04,137.54L335.44,139.13L336.84,140.22L338.24,141.1L339.64,140.91L341.04,143.18L342.44,141.27L343.84,141.52L345.24,142.63L346.64,141.7L348.04,140.95L349.44,143.01L350.84,142.93L352.24,144.21L353.64,144.7L355.04,144.46L356.44,145.07L357.84,146.05L359.24,146.3L360.64,146.31L362.04,146.61L363.44,147.53L364.84,147.96L366.24,148.35L367.64,148.51L369.04,148.6L370.44,148.6L371.84,148.6L373.24,148.6L374.64,148.6L376.5,148.6M101.9,148.6L133.6,160.86L152.14,135.37L165.3,126.34L175.5,101.57L183.84,138.8L190.89,95.09L197,122.17L202.38,124.03L207.2,122.18L211.56,112.92L215.54,103.72L219.2,112.63L222.59,114.21L225.74,114.79L228.69,111.13L231.47,107.8L234.08,108.07L236.55,107.39L238.9,110.83L241.13,112.05L243.26,113.29L245.29,110.23L247.24,109.99L248.64,106.37L250.04,106.26L251.44,110.73L252.84,107.14L254.24,106.67L255.64,104.41L257.04,111.98L258.44,111.22L259.84,111.09L261.24,110.03L262.64,112.21L264.04,116.37L265.44,114.2L266.84,114.02L268.24,114.09L269.64,113.08L271.04,113.47L272.44,113.56L273.84,113.51L275.24,113.16L276.64,118.25L278.04,117.61L279.44,118.15L280.84,116.45L282.24,117.28L283.64,118.68L285.04,118.91L286.44,116.7L287.84,118.91L289.24,118.69L290.64,120.17L292.04,119.83L293.44,121.28L294.84,124.06L296.24,124.28L297.64,125.01L299.04,125.26L300.44,123.64L301.84,124.71L303.24,125.15L304.64,128.26L306.04,127.05L307.44,129.36L308.84,128.32L310.24,128.08L311.64,128.61L313.04,129.32L314.44,131L315.84,130.86L317.24,132.45L318.64,132.88L320.04,133.98L321.44,132.71L322.84,134.67L324.24,134.39L325.64,134.57L327.04,134.31L328.44,134.58L329.84,135.75L331.24,138.13L332.64,138.33L334.04,139.25L335.44,138.08L336.84,138.34L338.24,139.5L339.64,140.59L341.04,140.38L342.44,141.24L343.84,141.21L345.24,142.65L346.64,142.83L348.04,142.1L349.44,144.12L350.84,144.1L352.24,145.06L353.64,144.85L355.04,145.94L356.44,145.18L357.84,145.98L359.24,146.09L360.64,146.41L362.04,147.11L363.44,147.3L364.84,147.47L366.24,147.62L367.64,148.36L369.04,148.6L370.44,148.6L371.84,148.6L373.24,148.6L374.64,148.6L376.5,148.6M101.9,148.6L133.6,164.54L152.14,141.44L165.3,104.52L175.5,104.4L183.84,130.39L190.89,91.68L197,119.76L202.38,122.24L207.2,112.22L211.56,114.75L215.54,116.8L219.2,108.13L222.59,103.77L225.74,106.73L228.69,109.54L231.47,107.35L234.08,106.99L236.55,103.89L238.9,102.84L241.13,113.89L243.26,114.94L245.29,112.99L247.24,114.19L248.64,111.38L250.04,106.4L251.44,111.51L252.84,115.09L254.24,113.62L255.64,114.95L257.04,115.29L258.44,114.68L259.84,111.79L261.24,111.59L262.64,112.24L264.04,111.89L265.44,117.61L266.84,115.45L268.24,116.08L269.64,114.86L271.04,112.81L272.44,114.79L273.84,109.53L275.24,111.7L276.64,115.57L278.04,115.77L279.44,116.3L280.84,116.79L282.24,117L283.64,117.53L285.04,116.94L286.44,118.83L287.84,118.65L289.24,119.49L290.64,119.96L292.04,123.19L293.44,122.28L294.84,121.77L296.24,123.65L297.64,123.7L299.04,124.23L300.44,124.12L301.84,124.22L303.24,124.63L304.64,126.76L306.04,128.46L307.44,126.73L308.84,126.63L310.24,129.05L311.64,128.4L313.04,127.76L314.44,127.67L315.84,129L317.24,129.34L318.64,127.83L320.04,131.24L321.44,132.8L322.84,134.66L324.24,135.72L325.64,134.55L327.04,135.17L328.44,136.77L329.84,134.83L331.24,136.02L332.64,135.75L334.04,137.66L335.44,138.4L336.84,138.28L338.24,138.55L339.64,139.73L341.04,141.23L342.44,141.01L343.84,141.56L345.24,143.16L346.64,143.74L348.04,144.68L349.44,144.05L350.84,144.64L352.24,145.57L353.64,145.03L355.04,145.74L356.44,146.55L357.84,146.93L359.24,147.48L360.64,146.63L362.04,146.64L363.44,147.36L364.84,147.77L366.24,147.82L367.64,148.45L369.04,148.6L370.44,148.6L371.84,148.6L373.24,148.6L374.64,148.6L376.5,148.6M101.9,148.6L133.6,146.18L152.14,97.3L165.3,105.31L175.5,95.75L183.84,115.75L190.89,117.66L197,84.27L202.38,120.82L207.2,119.22L211.56,110.8L215.54,114.96L219.2,112.19L222.59,110.9L225.74,113.23L228.69,105.97L231.47,106.63L234.08,106.94L236.55,111.57L238.9,110.05L241.13,110.77L243.26,111.25L245.29,110.29L247.24,109.86L248.64,113.29L250.04,110.15L251.44,109.71L252.84,110.47L254.24,109.95L255.64,110.55L257.04,111.52L258.44,113.07L259.84,111.51L261.24,112.73L262.64,111.52L264.04,110.63L265.44,112.91L266.84,115.24L268.24,114.54L269.64,117.11L271.04,116.16L272.44,118.4L273.84,119.43L275.24,118.22L276.64,120.41L278.04,118.62L279.44,116.51L280.84,116.1L282.24,116.67L283.64,117.33L285.04,116.87L286.44,118.54L287.84,121.33L289.24,121.07L290.64,120.19L292.04,120.5L293.44,121.04L294.84,121.84L296.24,122.34L297.64,124.38L299.04,123.11L300.44,123.9L301.84,124.19L303.24,125.18L304.64,125.6L306.04,125.72L307.44,125.49L308.84,125.83L310.24,127.9L311.64,129.69L313.04,130.53L314.44,130.73L315.84,131.31L317.24,132.16L318.64,133.33L320.04,133.9L321.44,134.7L322.84,133.58L324.24,133.34L325.64,134.67L327.04,134.8L328.44,135.71L329.84,135.24L331.24,136.39L332.64,136.97L334.04,136.61L335.44,137.06L336.84,138.39L338.24,139.49L339.64,140.56L341.04,140.96L342.44,140.79L343.84,140.84L345.24,140.59L346.64,141.64L348.04,141.9L349.44,143.07L350.84,143.68L352.24,143.15L353.64,142.6L355.04,143.94L356.44,145.54L357.84,145.91L359.24,146.48L360.64,147.17L362.04,148.56L363.44,147.88L364.84,147.84L366.24,148.1L367.64,148.57L369.04,148.6L370.44,148.6L371.84,148.6L373.24,148.6L374.64,148.6L376.5,148.6M101.9,148.6L133.6,166.13L152.14,148.02L165.3,106.64L175.5,114.76L183.84,108.61L190.89,118.02L197,102.27L202.38,103.63L207.2,112.79L211.56,110L215.54,112.51L219.2,107.93L222.59,112.66L225.74,111.35L228.69,109.67L231.47,107.57L234.08,104.94L236.55,106L238.9,108.05L241.13,108.88L243.26,114.61L245.29,112.25L247.24,109.64L248.64,110.43L250.04,109.91L251.44,108.33L252.84,111.04L254.24,112.95L255.64,113.4L257.04,113.95L258.44,111.91L259.84,112.52L261.24,107.72L262.64,111.6L264.04,112.51L265.44,109.1L266.84,114.99L268.24,115.07L269.64,115.43L271.04,113.82L272.44,110.22L273.84,114.72L275.24,118.11L276.64,117.96L278.04,115.57L279.44,116.45L280.84,114.89L282.24,113.51L283.64,116.97L285.04,114.08L286.44,118.77L287.84,123.46L289.24,119.65L290.64,119.8L292.04,120.56L293.44,121.26L294.84,121.82L296.24,122.43L297.64,122.75L299.04,123.92L300.44,122.78L301.84,124.89L303.24,125.26L304.64,124.88L306.04,129.26L307.44,129.76L308.84,130.47L310.24,128.94L311.64,129.72L313.04,131.26L314.44,130.5L315.84,130.52L317.24,131.09L318.64,131.73L320.04,131.57L321.44,131.89L322.84,132.07L324.24,134.38L325.64,136.51L327.04,136.97L328.44,136.23L329.84,136.95L331.24,139.35L332.64,137.85L334.04,137.09L335.44,139.27L336.84,141.69L338.24,141.28L339.64,139.97L341.04,141.4L342.44,141.74L343.84,141.36L345.24,143.02L346.64,142.15L348.04,142.96L349.44,142.43L350.84,141.65L352.24,144.13L353.64,144.25L355.04,145.1L356.44,145.97L357.84,146.66L359.24,146.76L360.64,147.14L362.04,147.59L363.44,148.17L364.84,147.53L366.24,148.14L367.64,148.5L369.04,148.6L370.44,148.6L371.84,148.6L373.24,148.6L374.64,148.6L376.5,148.6M101.9,148.6L133.6,145.31L152.14,105.62L165.3,111.85L175.5,109.77L183.84,112.99L190.89,116.24L197,111.89L202.38,120.56L207.2,109.01L211.56,115.78L215.54,117.94L219.2,108.87L222.59,109.51L225.74,106.34L228.69,107.14L231.47,107.95L234.08,108.25L236.55,109.7L238.9,106.28L241.13,105.05L243.26,106.44L245.29,106.51L247.24,106.74L248.64,106.13L250.04,109.43L251.44,106.81L252.84,105.79L254.24,108.13L255.64,109.4L257.04,109.06L258.44,110.98L259.84,110.88L261.24,110.43L262.64,113.31L264.04,114.21L265.44,116.73L266.84,114.87L268.24,115.3L269.64,114.62L271.04,116.07L272.44,115.41L273.84,114.94L275.24,116.32L276.64,116.77L278.04,119.2L279.44,118.71L280.84,119.35L282.24,118.38L283.64,117.89L285.04,118.23L286.44,118.9L287.84,119.88L289.24,120.63L290.64,119.84L292.04,120.63L293.44,121.24L294.84,120.89L296.24,123.4L297.64,122.84L299.04,123.88L300.44,126.65L301.84,124.64L303.24,125.9L304.64,125.8L306.04,128.75L307.44,128.38L308.84,129.21L310.24,129.7L311.64,130.82L313.04,130.41L314.44,129.08L315.84,131.25L317.24,132.73L318.64,132.65L320.04,132.34L321.44,131.97L322.84,131.16L324.24,130.31L325.64,133.99L327.04,134.14L328.44,134.37L329.84,135.97L331.24,137.44L332.64,137.14L334.04,138.17L335.44,139.58L336.84,140.07L338.24,139.47L339.64,141.5L341.04,141.33L342.44,141.2L343.84,142.29L345.24,142.03L346.64,143.47L348.04,142.77L349.44,143.22L350.84,144.23L352.24,145.56L353.64,145.32L355.04,145.11L356.44,145.6L357.84,146.17L359.24,146.3L360.64,146.8L362.04,146.85L363.44,147.79L364.84,147.79L366.24,148.23L367.64,148.58L369.04,148.6L370.44,148.6L371.84,148.6L373.24,148.6L374.64,148.6L376.5,148.6M101.9,148.6L133.6,163.01L152.14,113.07L165.3,110.93L175.5,104.74L183.84,134.16L190.89,102.34L197,119.48L202.38,104.91L207.2,119.58L211.56,115.65L215.54,107.93L219.2,111.92L222.59,116.33L225.74,115.37L228.69,113.01L231.47,108.31L234.08,106.41L236.55,111.99L238.9,112.44L241.13,115.07L243.26,111.53L245.29,115.08L247.24,115.84L248.64,112.58L250.04,112.95L251.44,112.04L252.84,112.64L254.24,114.34L255.64,113.17L257.04,117.7L258.44,112.92L259.84,111.39L261.24,112.03L262.64,112.07L264.04,111.79L265.44,113.34L266.84,116.21L268.24,117.4L269.64,113.2L271.04,113.62L272.44,114.57L273.84,114.61L275.24,113.21L276.64,110.65L278.04,111.21L279.44,111.77L280.84,114.17L282.24,118.26L283.64,119.83L285.04,119.97L286.44,120L287.84,119.24L289.24,120.49L290.64,119.64L292.04,121.74L293.44,121.6L294.84,122.01L296.24,124.55L297.64,126.67L299.04,126.56L300.44,127.15L301.84,126.3L303.24,126.54L304.64,126.05L306.04,125.15L307.44,125.68L308.84,128.33L310.24,128.45L311.64,128.83L313.04,128.42L314.44,129.78L315.84,129.54L317.24,130.74L318.64,132.57L320.04,132.54L321.44,132.69L322.84,132.76L324.24,133.62L325.64,134.26L327.04,136.17L328.44,136.79L329.84,136.96L331.24,137.73L332.64,137.21L334.04,137.76L335.44,138.47L336.84,138.72L338.24,139.32L339.64,140.99L341.04,141.33L342.44,141.22L343.84,141.17L345.24,142.02L346.64,142.19L348.04,143.41L349.44,144.1L350.84,144.53L352.24,144.51L353.64,143.74L355.04,143.45L356.44,145.14L357.84,145.59L359.24,146.33L360.64,146.69L362.04,147.48L363.44,147.77L364.84,147.36L366.24,147.84L367.64,148.44L369.04,148.6L370.44,148.6L371.84,148.6L373.24,148.6L374.64,148.6L376.5,148.6M101.9,148.6L133.6,144.6L152.14,94.46L165.3,112.16L175.5,78.8L183.84,118.86L190.89,122.61L197,77.6L202.38,113.46L207.2,119.6L211.56,117.19L215.54,106.53L219.2,106.23L222.59,111.01L225.74,112.34L228.69,114.47L231.47,112.79L234.08,114.03L236.55,113.69L238.9,113.33L241.13,107.34L243.26,108.66L245.29,108.79L247.24,114.82L248.64,112.24L250.04,111.96L251.44,109.91L252.84,109.74L254.24,111.22L255.64,107.46L257.04,111.86L258.44,111.2L259.84,110.55L261.24,110.97L262.64,115.11L264.04,112.33L265.44,112.47L266.84,112.8L268.24,115.71L269.64,114.33L271.04,110.97L272.44,111.86L273.84,114.75L275.24,115.53L276.64,115.64L278.04,117.64L279.44,118.55L280.84,118.58L282.24,118.72L283.64,117.85L285.04,119.03L286.44,119.89L287.84,120.4L289.24,122.8L290.64,124.22L292.04,122.07L293.44,120.45L294.84,122.85L296.24,123.66L297.64,124.89L299.04,124.37L300.44,124.04L301.84,125.99L303.24,126.78L304.64,125.96L306.04,126.35L307.44,125.28L308.84,128.35L310.24,128.59L311.64,128.87L313.04,129.95L314.44,130.16L315.84,129.41L317.24,131.27L318.64,133.06L320.04,132.58L321.44,132.25L322.84,133.51L324.24,135.92L325.64,135.45L327.04,134.62L328.44,135.36L329.84,133.63L331.24,136.5L332.64,137.53L334.04,137.53L335.44,139.21L336.84,139.71L338.24,140.33L339.64,141.27L341.04,140.57L342.44,141.58L343.84,141.44L345.24,142.4L346.64,144.11L348.04,143.94L349.44,143.89L350.84,144.79L352.24,144.26L353.64,144.62L355.04,144.68L356.44,146.27L357.84,146.61L359.24,147.47L360.64,146.97L362.04,146.91L363.44,147.72L364.84,147.82L366.24,148.22L367.64,148.62L369.04,148.6L370.44,148.6L371.84,148.6L373.24,148.6L374.64,148.6L376.5,148.6M101.9,148.6L133.6,173.14L152.14,150.55L165.3,107.43L175.5,93.17L183.84,116.15L190.89,94.27L197,120.01L202.38,101.69L207.2,117.92L211.56,126.94L215.54,120.87L219.2,118.4L222.59,113.38L225.74,114.61L228.69,115.09L231.47,117.05L234.08,117.18L236.55,111.77L238.9,112.48L241.13,112.3L243.26,110.01L245.29,113.64L247.24,113.29L248.64,114.01L250.04,111.33L251.44,113.17L252.84,113.28L254.24,112.93L255.64,111.47L257.04,115.71L258.44,115.28L259.84,117.98L261.24,114.68L262.64,113.41L264.04,113.09L265.44,112.43L266.84,112.93L268.24,114.63L269.64,114.61L271.04,116.78L272.44,117.35L273.84,116.62L275.24,115.27L276.64,114.42L278.04,114.5L279.44,114.48L280.84,115.51L282.24,114.33L283.64,118.25L285.04,117.86L286.44,119.55L287.84,121.15L289.24,120.18L290.64,121.23L292.04,120.26L293.44,119.48L294.84,123.16L296.24,122.45L297.64,122.99L299.04,123.37L300.44,124.17L301.84,123.53L303.24,124.45L304.64,124.98L306.04,126.61L307.44,127.78L308.84,129.52L310.24,128.62L311.64,129.27L313.04,130.25L314.44,129.91L315.84,131.69L317.24,133.57L318.64,133.68L320.04,133.82L321.44,133.68L322.84,133.01L324.24,133.08L325.64,133.17L327.04,135.77L328.44,135.78L329.84,136.25L331.24,136.8L332.64,136.62L334.04,137.84L335.44,137.41L336.84,138.35L338.24,139.23L339.64,140.94L341.04,141.09L342.44,138.91L343.84,140.68L345.24,141.99L346.64,142.6L348.04,143.72L349.44,144.6L350.84,144.39L352.24,145.57L353.64,145.14L355.04,144.76L356.44,145.35L357.84,145.16L359.24,146.95L360.64,146.23L362.04,147.13L363.44,147.57L364.84,148.15L366.24,148.03L367.64,148.32L369.04,148.6L370.44,148.6L371.84,148.6L373.24,148.6L374.64,148.6L376.5,148.6M101.9,148.6L133.6,169.23L152.14,139.15L165.3,111.88L175.5,102.31L183.84,107.8L190.89,116.43L197,106.93L202.38,107.22L207.2,114.51L211.56,114.68L215.54,120.34L219.2,117.29L222.59,116.83L225.74,110.21L228.69,109.26L231.47,106.35L234.08,105.1L236.55,107.78L238.9,114.24L241.13,110.7L243.26,113.34L245.29,108.73L247.24,108.67L248.64,111.7L250.04,112.89L251.44,111.78L252.84,110.56L254.24,109.67L255.64,110.93L257.04,108.69L258.44,111.21L259.84,112.8L261.24,110.93L262.64,110.1L264.04,109.91L265.44,107.37L266.84,108.37L268.24,110.9L269.64,109.76L271.04,110.49L272.44,109.4L273.84,115.05L275.24,116.34L276.64,115.2L278.04,114.29L279.44,114.61L280.84,118.24L282.24,117.35L283.64,117.43L285.04,115.08L286.44,119.66L287.84,119.21L289.24,120.02L290.64,120.61L292.04,120.16L293.44,121.42L294.84,122.05L296.24,122.33L297.64,122.94L299.04,122.82L300.44,124.52L301.84,123.6L303.24,126.03L304.64,124.84L306.04,123.7L307.44,125.13L308.84,128.25L310.24,128.7L311.64,130.49L313.04,130.55L314.44,130.9L315.84,130.84L317.24,131.36L318.64,132.22L320.04,132.22L321.44,132.89L322.84,134.2L324.24,132.61L325.64,133.58L327.04,136.47L328.44,137.48L329.84,136.29L331.24,138.65L332.64,138.23L334.04,139.33L335.44,139.49L336.84,139.75L338.24,140.12L339.64,140.87L341.04,140.63L342.44,141.57L343.84,141.1L345.24,141.94L346.64,143.05L348.04,142.96L349.44,143.45L350.84,144.85L352.24,145.02L353.64,144.79L355.04,144.63L356.44,146.22L357.84,146.75L359.24,146.28L360.64,146.42L362.04,146.62L363.44,147.07L364.84,147.01L366.24,147.58L367.64,148.12L369.04,148.6L370.44,148.6L371.84,148.6L373.24,148.6L374.64,148.6L376.5,148.6M101.9,148.6L133.6,176.91L152.14,162.6L165.3,99.56L175.5,104.17L183.84,113.51L190.89,101.67L197,115.93L202.38,114.81L207.2,103.01L211.56,108.23L215.54,105.57L219.2,108.52L222.59,111.58L225.74,114.68L228.69,111.45L231.47,110.65L234.08,106.75L236.55,109.95L238.9,107.22L241.13,115.63L243.26,117.3L245.29,117.21L247.24,115.57L248.64,113.27L250.04,110.58L251.44,112.01L252.84,110.04L254.24,110.31L255.64,108.88L257.04,111.33L258.44,111.69L259.84,113.24L261.24,111.96L262.64,112.06L264.04,112.52L265.44,115.99L266.84,112.45L268.24,108.65L269.64,111.95L271.04,111.61L272.44,115.5L273.84,116.18L275.24,119.05L276.64,118.73L278.04,120.63L279.44,121.05L280.84,120.08L282.24,119.65L283.64,118.54L285.04,118.27L286.44,120.76L287.84,118.25L289.24,115.93L290.64,119.73L292.04,120.58L293.44,120.86L294.84,122.87L296.24,123.2L297.64,123.29L299.04,125.26L300.44,123.84L301.84,123.27L303.24,125.95L304.64,125.67L306.04,125.59L307.44,125.01L308.84,126.75L310.24,127.94L311.64,128.67L313.04,129.2L314.44,128.82L315.84,127.45L317.24,129.98L318.64,131.68L320.04,132.83L321.44,133.73L322.84,134.33L324.24,134.82L325.64,134.6L327.04,134.88L328.44,137.43L329.84,137.74L331.24,136.88L332.64,138.7L334.04,139.39L335.44,139.11L336.84,140.96L338.24,140L339.64,140.36L341.04,139.97L342.44,138.75L343.84,138.74L345.24,140.07L346.64,140.86L348.04,142.64L349.44,143.43L350.84,143.74L352.24,145.28L353.64,145.42L355.04,145.59L356.44,146.15L357.84,146.77L359.24,146.32L360.64,146.68L362.04,146.98L363.44,147.04L364.84,147.86L366.24,148.31L367.64,148.51L369.04,148.6L370.44,148.6L371.84,148.6L373.24,148.6L374.64,148.6L376.5,148.6M101.9,148.6L133.6,181L152.14,166L165.3,113.13L175.5,82.65L183.84,121.13L190.89,121.55L197,96.33L202.38,114.79L207.2,107.64L211.56,111.57L215.54,107.11L219.2,109.08L222.59,105.23L225.74,111.34L228.69,111.64L231.47,113.63L234.08,111.14L236.55,107.93L238.9,112.51L241.13,111.26L243.26,112.81L245.29,113.64L247.24,113.66L248.64,109.76L250.04,112.66L251.44,111.63L252.84,112.35L254.24,112.06L255.64,112.62L257.04,113.6L258.44,115.72L259.84,114.01L261.24,111.5L262.64,111.14L264.04,112.47L265.44,112.85L266.84,112.88L268.24,111.71L269.64,113.07L271.04,116.61L272.44,118.09L273.84,115.61L275.24,115.19L276.64,115.48L278.04,115.7L279.44,116.17L280.84,116.95L282.24,116.93L283.64,117.06L285.04,118.4L286.44,120.36L287.84,120.27L289.24,120.86L290.64,119.87L292.04,120.04L293.44,121.21L294.84,121.71L296.24,125.92L297.64,124.26L299.04,124.24L300.44,124.11L301.84,124.32L303.24,124.66L304.64,126.72L306.04,125.99L307.44,128.47L308.84,127.9L310.24,129.27L311.64,129.95L313.04,130.1L314.44,129.69L315.84,130.01L317.24,130.05L318.64,130.78L320.04,132.86L321.44,133.82L322.84,135.2L324.24,134.01L325.64,136.59L327.04,136.37L328.44,138.07L329.84,138.95L331.24,137.68L332.64,138.27L334.04,138.3L335.44,138.47L336.84,141.46L338.24,140.62L339.64,141.68L341.04,141.3L342.44,140.65L343.84,140.85L345.24,141.39L346.64,141.97L348.04,142.03L349.44,142.83L350.84,143.12L352.24,144.36L353.64,145.47L355.04,145.82L356.44,146.27L357.84,145.13L359.24,146.37L360.64,146.17L362.04,147.1L363.44,146.98L364.84,147.26L366.24,147.84L367.64,148.51L369.04,148.6L370.44,148.6L371.84,148.6L373.24,148.6L374.64,148.6L376.5,148.6M101.9,148.6L133.6,176.22L152.14,155.65L165.3,99.84L175.5,102.99L183.84,107.01L190.89,114.78L197,121.01L202.38,112.44L207.2,116.09L211.56,124.34L215.54,113.5L219.2,107.96L222.59,106.84L225.74,113.42L228.69,114.34L231.47,113.07L234.08,111.46L236.55,107.8L238.9,110.74L241.13,111.58L243.26,107.77L245.29,113.09L247.24,113.9L248.64,114.26L250.04,115.77L251.44,112.41L252.84,111.88L254.24,110.16L255.64,111.5L257.04,114.23L258.44,115.28L259.84,113.17L261.24,110.46L262.64,111.12L264.04,113.51L265.44,112.1L266.84,113.65L268.24,110.73L269.64,112.27L271.04,115.54L272.44,115.64L273.84,113.41L275.24,114.09L276.64,114.03L278.04,115.5L279.44,116.74L280.84,118.7L282.24,118.22L283.64,119.21L285.04,118.67L286.44,118.37L287.84,120.02L289.24,119.33L290.64,119.52L292.04,119.46L293.44,120.75L294.84,122.94L296.24,123.73L297.64,123.01L299.04,123.79L300.44,125.53L301.84,126.03L303.24,126L304.64,126.77L306.04,127.46L307.44,128.29L308.84,127.52L310.24,127.92L311.64,128.42L313.04,128.81L314.44,128.78L315.84,130.71L317.24,131.06L318.64,132.83L320.04,133.56L321.44,134.35L322.84,133.2L324.24,134.04L325.64,132.54L327.04,134.15L328.44,134.93L329.84,134.46L331.24,135.81L332.64,137.19L334.04,138.36L335.44,138.84L336.84,138.88L338.24,140.12L339.64,140.07L341.04,140.75L342.44,143.1L343.84,143.47L345.24,143.24L346.64,142.33L348.04,142.47L349.44,142.64L350.84,143.93L352.24,143.52L353.64,144.37L355.04,145.32L356.44,145.91L357.84,145.35L359.24,145.61L360.64,146.67L362.04,147.46L363.44,147.46L364.84,147.68L366.24,147.74L367.64,148.46L369.04,148.6L370.44,148.6L371.84,148.6L373.24,148.6L374.64,148.6L376.5,148.6M101.9,148.6L133.6,172.27L152.14,148.37L165.3,102.66L175.5,105.8L183.84,119.48L190.89,101.36L197,120.37L202.38,111.9L207.2,104.71L211.56,109.41L215.54,106.13L219.2,108.14L222.59,107.08L225.74,113.63L228.69,114.95L231.47,114.76L234.08,112.66L236.55,108.6L238.9,111.67L241.13,109.08L243.26,107.04L245.29,105.56L247.24,104.79L248.64,110.88L250.04,112.98L251.44,110.42L252.84,113.52L254.24,111.99L255.64,107.32L257.04,107.51L258.44,109.59L259.84,108.83L261.24,112.35L262.64,111.75L264.04,111.85L265.44,114.81L266.84,116.22L268.24,114.51L269.64,117.01L271.04,117.26L272.44,117.64L273.84,117.22L275.24,117.58L276.64,116.8L278.04,117.49L279.44,118.94L280.84,118.85L282.24,117.45L283.64,113.45L285.04,115.18L286.44,118.36L287.84,120.19L289.24,119.28L290.64,120.13L292.04,118.86L293.44,120.64L294.84,121.86L296.24,123.4L297.64,122.94L299.04,123.73L300.44,124.92L301.84,124.41L303.24,126.01L304.64,125.84L306.04,126.1L307.44,126.79L308.84,127.45L310.24,129.08L311.64,129.64L313.04,131.5L314.44,131.13L315.84,131.92L317.24,133.05L318.64,132.39L320.04,132.46L321.44,132.75L322.84,132.5L324.24,134.09L325.64,134.62L327.04,134.99L328.44,135.64L329.84,136.29L331.24,137.19L332.64,137.29L334.04,138.92L335.44,138.43L336.84,139.54L338.24,140.22L339.64,139.61L341.04,139.39L342.44,140.2L343.84,140.91L345.24,142.73L346.64,142.43L348.04,142.8L349.44,144.65L350.84,145.26L352.24,145.06L353.64,145.31L355.04,145.05L356.44,144.74L357.84,145.57L359.24,146.31L360.64,147.38L362.04,147.58L363.44,147.93L364.84,148.39L366.24,148.25L367.64,148.46L369.04,148.6L370.44,148.6L371.84,148.6L373.24,148.6L374.64,148.6L376.5,148.6M101.9,148.6L133.6,149.1L152.14,101.56L165.3,107.13L175.5,90.97L183.84,121.74L190.89,117.51L197,108.88L202.38,118.34L207.2,124.11L211.56,118.65L215.54,118.35L219.2,116.45L222.59,111.35L225.74,109.42L228.69,111.16L231.47,105.44L234.08,109.09L236.55,111.69L238.9,108.63L241.13,109.32L243.26,111.33L245.29,113.63L247.24,112.82L248.64,108.47L250.04,113.46L251.44,114.14L252.84,112.5L254.24,111.04L255.64,112.97L257.04,113.59L258.44,116.16L259.84,112.85L261.24,113.72L262.64,112.91L264.04,113.84L265.44,113.57L266.84,115.01L268.24,114.79L269.64,113.18L271.04,112.64L272.44,111.31L273.84,114.06L275.24,115.29L276.64,115.65L278.04,116.08L279.44,119.71L280.84,121.57L282.24,121.89L283.64,120.72L285.04,119.83L286.44,120.99L287.84,118.31L289.24,116.54L290.64,119.15L292.04,118.78L293.44,121.01L294.84,123.28L296.24,123.75L297.64,122.58L299.04,123.15L300.44,123.31L301.84,121.89L303.24,124.29L304.64,125.87L306.04,126.18L307.44,127.48L308.84,128.63L310.24,127.03L311.64,127.76L313.04,126.51L314.44,129.17L315.84,128.98L317.24,131.04L318.64,130.67L320.04,131.57L321.44,132.67L322.84,133.79L324.24,136.68L325.64,135.35L327.04,135.6L328.44,137.2L329.84,137.99L331.24,137.85L332.64,137.36L334.04,137.99L335.44,139.09L336.84,139.07L338.24,139.98L339.64,139.65L341.04,140.47L342.44,140.17L343.84,141.34L345.24,143.29L346.64,144.01L348.04,143.93L349.44,143.58L350.84,145.1L352.24,145.28L353.64,145.73L355.04,145.2L356.44,144.75L357.84,145L359.24,145.99L360.64,146.19L362.04,146.5L363.44,147.01L364.84,147.86L366.24,148.36L367.64,148.51L369.04,148.6L370.44,148.6L371.84,148.6L373.24,148.6L374.64,148.6L376.5,148.6M101.9,148.6L133.6,127.62L152.14,75.7L165.3,110.8L175.5,96.72L183.84,118.34L190.89,85.24L197,121.37L202.38,113.24L207.2,104.32L211.56,107.29L215.54,109.98L219.2,112.2L222.59,109.61L225.74,103.79L228.69,110.54L231.47,108.9L234.08,106.03L236.55,107.41L238.9,108.54L241.13,112.84L243.26,108.27L245.29,109.07L247.24,109.06L248.64,112.5L250.04,114.29L251.44,110.73L252.84,109.42L254.24,108.13L255.64,111.17L257.04,111.21L258.44,110.76L259.84,111.46L261.24,113.5L262.64,114.45L264.04,114.88L265.44,110.51L266.84,112.36L268.24,115.28L269.64,113.92L271.04,114.93L272.44,117.68L273.84,116.17L275.24,115.49L276.64,115.56L278.04,117.91L279.44,120.13L280.84,116.84L282.24,118.82L283.64,118.52L285.04,119.65L286.44,118.73L287.84,119.25L289.24,121.76L290.64,119.96L292.04,120.53L293.44,122.45L294.84,123.02L296.24,124.55L297.64,123.97L299.04,126.28L300.44,124.04L301.84,123.99L303.24,125.81L304.64,126.39L306.04,128.82L307.44,126.01L308.84,127.03L310.24,127.95L311.64,128.59L313.04,128.75L314.44,129.86L315.84,128.26L317.24,132.6L318.64,131.7L320.04,131.37L321.44,132.4L322.84,133.46L324.24,133.07L325.64,134.51L327.04,135.91L328.44,136.76L329.84,137.64L331.24,138.11L332.64,139.17L334.04,137.95L335.44,138.33L336.84,139.19L338.24,139.46L339.64,138.34L341.04,139.52L342.44,139.62L343.84,141.26L345.24,140.38L346.64,142.64L348.04,143.44L349.44,143.3L350.84,143.84L352.24,144.32L353.64,144.74L355.04,144.45L356.44,144.73L357.84,145.38L359.24,145.73L360.64,146.31L362.04,147.02L363.44,147.62L364.84,148.01L366.24,148.29L367.64,148.56L369.04,148.6L370.44,148.6L371.84,148.6L373.24,148.6L374.64,148.6L376.5,148.6M101.9,148.6L133.6,173.71L152.14,151.48L165.3,97.08L175.5,103.8L183.84,99.82L190.89,110.31L197,116.24L202.38,102.92L207.2,116.47L211.56,121.57L215.54,121.43L219.2,116.19L222.59,107.99L225.74,112.89L228.69,108.97L231.47,113.44L234.08,110.58L236.55,107.23L238.9,108.16L241.13,107.37L243.26,109.14L245.29,111.36L247.24,113.51L248.64,109.15L250.04,108.3L251.44,110.75L252.84,112.02L254.24,111.76L255.64,111.75L257.04,116.26L258.44,113.83L259.84,112.77L261.24,112.47L262.64,112.97L264.04,111.58L265.44,109.56L266.84,115.28L268.24,114.79L269.64,115.05L271.04,115.01L272.44,116.35L273.84,114.56L275.24,116L276.64,118.76L278.04,119.92L279.44,117.88L280.84,116.96L282.24,116.87L283.64,118.65L285.04,121.79L286.44,120.3L287.84,119.23L289.24,117.85L290.64,119.94L292.04,120.55L293.44,123.46L294.84,123.71L296.24,124.11L297.64,123.03L299.04,123.51L300.44,125.98L301.84,124.37L303.24,122.59L304.64,125.31L306.04,125.75L307.44,125.58L308.84,125.96L310.24,127.77L311.64,130.57L313.04,131.1L314.44,131.33L315.84,132.08L317.24,133.25L318.64,133.9L320.04,134.93L321.44,134.05L322.84,134.11L324.24,134.89L325.64,135.29L327.04,135.32L328.44,136.24L329.84,137.31L331.24,136.58L332.64,136.71L334.04,137.2L335.44,136.63L336.84,138.45L338.24,139.08L339.64,138.97L341.04,140.36L342.44,141.72L343.84,141.57L345.24,142.91L346.64,143.96L348.04,143.86L349.44,144.59L350.84,145.41L352.24,145.06L353.64,145.25L355.04,145.64L356.44,145.09L357.84,145.98L359.24,146.73L360.64,146.83L362.04,147.56L363.44,147.52L364.84,147.81L366.24,148.23L367.64,148.43L369.04,148.6L370.44,148.6L371.84,148.6L373.24,148.6L374.64,148.6L376.5,148.6M101.9,148.6L133.6,171.78L152.14,154.12L165.3,120.23L175.5,104.2L183.84,110.43L190.89,88.26L197,115.86L202.38,126.57L207.2,132L211.56,118.53L215.54,120.46L219.2,120.92L222.59,116.55L225.74,109.83L228.69,107.4L231.47,107.11L234.08,107.31L236.55,110.33L238.9,114.61L241.13,111.05L243.26,106.78L245.29,112.84L247.24,113.59L248.64,111.85L250.04,111.85L251.44,113.4L252.84,110.62L254.24,111.36L255.64,113.68L257.04,110.92L258.44,111.57L259.84,109.28L261.24,106.59L262.64,110.79L264.04,110.57L265.44,111.01L266.84,112.48L268.24,116.73L269.64,117.58L271.04,114.9L272.44,114.59L273.84,114.63L275.24,114.8L276.64,116.75L278.04,115.98L279.44,117.03L280.84,114.63L282.24,116.8L283.64,115.9L285.04,117.98L286.44,119.66L287.84,118.6L289.24,119.34L290.64,120.22L292.04,120.69L293.44,121.16L294.84,121.46L296.24,122.88L297.64,124.66L299.04,124.65L300.44,124.45L301.84,125.48L303.24,127.56L304.64,127.95L306.04,127.85L307.44,127.4L308.84,128.15L310.24,127.8L311.64,128.67L313.04,128.06L314.44,130.84L315.84,130.91L317.24,130.23L318.64,133.97L320.04,133.75L321.44,133.92L322.84,133.85L324.24,133.99L325.64,134.59L327.04,135L328.44,135.9L329.84,137.07L331.24,136.84L332.64,137.41L334.04,138.09L335.44,138.46L336.84,137.91L338.24,139.64L339.64,140.17L341.04,141.41L342.44,141.22L343.84,141.91L345.24,143.51L346.64,144L348.04,143.02L349.44,142.29L350.84,143.81L352.24,144.36L353.64,145.16L355.04,145.63L356.44,146.16L357.84,145.93L359.24,146.88L360.64,146.61L362.04,145.5L363.44,147.31L364.84,147.27L366.24,148.02L367.64,148.41L369.04,148.6L370.44,148.6L371.84,148.6L373.24,148.6L374.64,148.6L376.5,148.6M101.9,148.6L133.6,149.83L152.14,108.53L165.3,101.56L175.5,109.58L183.84,101.03L190.89,117.43L197,79.38L202.38,114.18L207.2,98.11L211.56,109.77L215.54,106.88L219.2,110.88L222.59,105.41L225.74,107.17L228.69,103.19L231.47,106.51L234.08,107.27L236.55,110.62L238.9,110.74L241.13,108.86L243.26,108.14L245.29,110.18L247.24,109.71L248.64,107.63L250.04,109.82L251.44,110.79L252.84,115.01L254.24,112.46L255.64,116.2L257.04,113.98L258.44,111.88L259.84,113.04L261.24,111.82L262.64,110.51L264.04,109.25L265.44,116.05L266.84,115L268.24,115.17L269.64,114.32L271.04,114.22L272.44,114.12L273.84,115.94L275.24,116.29L276.64,115.71L278.04,115.56L279.44,116.1L280.84,118.06L282.24,117.49L283.64,118.74L285.04,117.56L286.44,119.2L287.84,118.59L289.24,119.45L290.64,119.43L292.04,120.18L293.44,119.44L294.84,119.69L296.24,118.74L297.64,122.06L299.04,124.07L300.44,124.8L301.84,124.28L303.24,123.02L304.64,124.19L306.04,124.46L307.44,126.78L308.84,127.39L310.24,128.09L311.64,130.4L313.04,129.65L314.44,129.83L315.84,131.12L317.24,130.11L318.64,130.78L320.04,131.26L321.44,133.72L322.84,133.24L324.24,135.03L325.64,133.94L327.04,134.43L328.44,135.53L329.84,137.61L331.24,136.01L332.64,137.79L334.04,136.81L335.44,137.68L336.84,139.7L338.24,140.05L339.64,139.08L341.04,142.85L342.44,143.35L343.84,141.46L345.24,141.3L346.64,142.27L348.04,142.89L349.44,143.87L350.84,144.51L352.24,145.6L353.64,146.37L355.04,145.92L356.44,145.35L357.84,145.74L359.24,147.42L360.64,147.4L362.04,148.27L363.44,147.52L364.84,147.86L366.24,148.21L367.64,148.48L369.04,148.6L370.44,148.6L371.84,148.6L373.24,148.6L374.64,148.6L376.5,148.6M101.9,148.6L133.6,152.13L152.14,96.58L165.3,105.92L175.5,86.81L183.84,117.66L190.89,120.51L197,122.08L202.38,119.87L207.2,102.98L211.56,107.97L215.54,113.2L219.2,112.8L222.59,116.31L225.74,116.57L228.69,111.1L231.47,105.79L234.08,105.54L236.55,105.03L238.9,111.47L241.13,108.29L243.26,110.47L245.29,108.74L247.24,112.36L248.64,106.67L250.04,106.6L251.44,111.85L252.84,115.26L254.24,113.64L255.64,111.21L257.04,110.78L258.44,111.13L259.84,111.18L261.24,113.45L262.64,110.79L264.04,114.82L265.44,114.17L266.84,113.05L268.24,110.54L269.64,108.91L271.04,112.23L272.44,111.94L273.84,113.29L275.24,118.15L276.64,116.48L278.04,117.84L279.44,119.3L280.84,120.73L282.24,116.67L283.64,116.52L285.04,117.2L286.44,117.36L287.84,119.79L289.24,120.53L290.64,120.15L292.04,121.25L293.44,122.45L294.84,122.82L296.24,122.4L297.64,124.08L299.04,124.49L300.44,126.26L301.84,124.91L303.24,126.35L304.64,126.87L306.04,125.91L307.44,125.72L308.84,127.21L310.24,127.93L311.64,128.22L313.04,127.14L314.44,128.08L315.84,129.82L317.24,130.01L318.64,131.05L320.04,132.66L321.44,134L322.84,134.05L324.24,135.3L325.64,134.13L327.04,132.58L328.44,132.17L329.84,132.79L331.24,135.91L332.64,136.13L334.04,137.91L335.44,138.72L336.84,139.26L338.24,139.5L339.64,139.68L341.04,139.94L342.44,141.54L343.84,141.57L345.24,143.28L346.64,144.15L348.04,143.67L349.44,142.04L350.84,143.77L352.24,145.12L353.64,145.25L355.04,144.7L356.44,145.5L357.84,145.2L359.24,146.1L360.64,146.65L362.04,147.15L363.44,147.47L364.84,147.11L366.24,148.1L367.64,148.51L369.04,148.6L370.44,148.6L371.84,148.6L373.24,148.6L374.64,148.6L376.5,148.6M101.9,148.6L133.6,163.13L152.14,120.91L165.3,103.12L175.5,97.28L183.84,117.78L190.89,117.76L197,116.11L202.38,112.5L207.2,121.53L211.56,108.95L215.54,102.43L219.2,108.27L222.59,110.42L225.74,111.84L228.69,112.6L231.47,113.86L234.08,111.31L236.55,106.31L238.9,106.77L241.13,106.6L243.26,106.09L245.29,108.5L247.24,112.81L248.64,109.83L250.04,108.28L251.44,109.93L252.84,113.18L254.24,111.52L255.64,113.26L257.04,110.6L258.44,110.22L259.84,107.89L261.24,110.52L262.64,111.26L264.04,110.78L265.44,111.47L266.84,113.14L268.24,113.19L269.64,114.63L271.04,115.06L272.44,114.57L273.84,113.95L275.24,115.06L276.64,117.15L278.04,119.85L279.44,119.07L280.84,118.06L282.24,118.58L283.64,119.89L285.04,121.99L286.44,120.71L287.84,119.14L289.24,120.1L290.64,119.29L292.04,119.49L293.44,119.98L294.84,122.13L296.24,122.92L297.64,122.58L299.04,121.49L300.44,123.53L301.84,125.49L303.24,125.28L304.64,127.14L306.04,127.96L307.44,126.94L308.84,128.16L310.24,128.51L311.64,128.17L313.04,129.85L314.44,130.2L315.84,130.44L317.24,130.91L318.64,132.14L320.04,132.3L321.44,134.13L322.84,133.75L324.24,133.37L325.64,133.87L327.04,135.34L328.44,136.6L329.84,136.43L331.24,135.91L332.64,137.41L334.04,137.95L335.44,138.49L336.84,140.18L338.24,139.35L339.64,138.37L341.04,140.57L342.44,141.33L343.84,141.66L345.24,141.76L346.64,141.19L348.04,142.68L349.44,142.88L350.84,143.09L352.24,142.46L353.64,142.37L355.04,143.25L356.44,144.94L357.84,146.74L359.24,146.51L360.64,146.71L362.04,147.01L363.44,147.53L364.84,147.67L366.24,147.96L367.64,148.47L369.04,148.6L370.44,148.6L371.84,148.6L373.24,148.6L374.64,148.6L376.5,148.6M101.9,148.6L133.6,164.33L152.14,149.19L165.3,99.58L175.5,104.05L183.84,120.3L190.89,100.53L197,116L202.38,108.01L207.2,112.04L211.56,116.84L215.54,113.67L219.2,113.42L222.59,118.31L225.74,114.82L228.69,114.24L231.47,116.94L234.08,112.8L236.55,113.91L238.9,111.89L241.13,111.33L243.26,113.22L245.29,109.29L247.24,111.01L248.64,108.36L250.04,111.18L251.44,110.81L252.84,111.93L254.24,109.48L255.64,111.59L257.04,112.25L258.44,113.09L259.84,111.81L261.24,110.52L262.64,112.71L264.04,114.39L265.44,114.31L266.84,113.83L268.24,112.35L269.64,114.87L271.04,113.37L272.44,110.06L273.84,114.3L275.24,115.8L276.64,116.65L278.04,114.03L279.44,115.99L280.84,119.39L282.24,118.36L283.64,117.99L285.04,118.38L286.44,120.15L287.84,119.08L289.24,119.91L290.64,120.1L292.04,121.42L293.44,122.03L294.84,120.55L296.24,122.12L297.64,121.45L299.04,122.85L300.44,125.19L301.84,126.43L303.24,126.89L304.64,127.57L306.04,128.16L307.44,128.38L308.84,128.32L310.24,129.33L311.64,129.5L313.04,128.2L314.44,129.8L315.84,130.47L317.24,130.69L318.64,130.62L320.04,132.04L321.44,134.67L322.84,135.94L324.24,135.79L325.64,133.97L327.04,134.85L328.44,135.57L329.84,135.44L331.24,136.84L332.64,138.58L334.04,139.65L335.44,138.84L336.84,139.26L338.24,139.52L339.64,140.21L341.04,140.3L342.44,140.8L343.84,140.92L345.24,141.1L346.64,140.74L348.04,142.59L349.44,142.68L350.84,142.23L352.24,144.21L353.64,144.27L355.04,144.7L356.44,145.35L357.84,145.42L359.24,145.93L360.64,146.16L362.04,147.3L363.44,148.04L364.84,148.39L366.24,148.15L367.64,148.53L369.04,148.6L370.44,148.6L371.84,148.6L373.24,148.6L374.64,148.6L376.5,148.6M101.9,148.6L133.6,150.24L152.14,90.85L165.3,110.66L175.5,117.4L183.84,110.74L190.89,112.59L197,101.38L202.38,115.22L207.2,114.37L211.56,116.83L215.54,116.76L219.2,117.52L222.59,116.08L225.74,115.28L228.69,119.3L231.47,115.37L234.08,115.77L236.55,117.94L238.9,115.73L241.13,116.82L243.26,116.73L245.29,114.03L247.24,109.42L248.64,112.6L250.04,109.5L251.44,110.73L252.84,110.94L254.24,109.35L255.64,111.24L257.04,111.92L258.44,112.54L259.84,115.48L261.24,115.53L262.64,115.24L264.04,116.71L265.44,114.9L266.84,115.57L268.24,115.64L269.64,114.2L271.04,115.62L272.44,116.27L273.84,118.35L275.24,118.57L276.64,117.92L278.04,115.93L279.44,118.98L280.84,118.11L282.24,118.96L283.64,119.32L285.04,121.32L286.44,120.43L287.84,119.38L289.24,123.27L290.64,121.1L292.04,122.13L293.44,121.69L294.84,121.83L296.24,122.57L297.64,122.92L299.04,123.11L300.44,124.24L301.84,125.36L303.24,126.16L304.64,126.2L306.04,126.37L307.44,127.42L308.84,129.1L310.24,129.91L311.64,129.32L313.04,129.52L314.44,129.93L315.84,131.17L317.24,131.09L318.64,132.12L320.04,133.58L321.44,133.63L322.84,134.24L324.24,134.91L325.64,135.55L327.04,135.16L328.44,136.48L329.84,137.13L331.24,137.52L332.64,137.22L334.04,137.4L335.44,138.35L336.84,138.68L338.24,137.46L339.64,140.82L341.04,139.79L342.44,138.73L343.84,139.87L345.24,141.23L346.64,142.27L348.04,143.5L349.44,143.48L350.84,145.47L352.24,144.37L353.64,144.34L355.04,145.36L356.44,146.75L357.84,146.46L359.24,146.36L360.64,146.37L362.04,147.04L363.44,147.42L364.84,148.01L366.24,148.34L367.64,148.52L369.04,148.6L370.44,148.6L371.84,148.6L373.24,148.6L374.64,148.6L376.5,148.6M101.9,148.6L133.6,147.78L152.14,92.79L165.3,108.35L175.5,95.86L183.84,127.99L190.89,104.69L197,93.3L202.38,115.77L207.2,111.78L211.56,106.76L215.54,106.13L219.2,102.78L222.59,105.14L225.74,103.28L228.69,107.95L231.47,109.75L234.08,108.59L236.55,112.81L238.9,105.86L241.13,112.06L243.26,115.34L245.29,112.71L247.24,111.64L248.64,112.88L250.04,111.16L251.44,110.46L252.84,110.94L254.24,111.75L255.64,113.76L257.04,111.41L258.44,112.35L259.84,111.7L261.24,112.05L262.64,112.69L264.04,114.98L265.44,106.86L266.84,112.11L268.24,115.22L269.64,117.52L271.04,113.75L272.44,114.22L273.84,114.28L275.24,114.47L276.64,115.65L278.04,115.89L279.44,119.12L280.84,119.85L282.24,119.83L283.64,117.9L285.04,115.01L286.44,117.6L287.84,117.88L289.24,118.25L290.64,120.14L292.04,120.5L293.44,121.9L294.84,121.76L296.24,122.37L297.64,124.11L299.04,124.65L300.44,123.47L301.84,124.29L303.24,124.1L304.64,122.82L306.04,124.57L307.44,127.21L308.84,126.66L310.24,128.33L311.64,130.56L313.04,132.23L314.44,131.4L315.84,129.17L317.24,132.18L318.64,132.2L320.04,131.65L321.44,133.72L322.84,135.74L324.24,136.46L325.64,135.56L327.04,136.09L328.44,136.85L329.84,136.65L331.24,138.13L332.64,137.33L334.04,137.94L335.44,139.77L336.84,139.42L338.24,139.73L339.64,141.13L341.04,142.7L342.44,141.86L343.84,141.17L345.24,141.22L346.64,142.43L348.04,144.85L349.44,143.47L350.84,144.56L352.24,145.3L353.64,145.25L355.04,145.19L356.44,146.09L357.84,146.7L359.24,146.76L360.64,146.85L362.04,147.44L363.44,147.84L364.84,148.04L366.24,148.49L367.64,148.59L369.04,148.6L370.44,148.6L371.84,148.6L373.24,148.6L374.64,148.6L376.5,148.6M101.9,148.6L133.6,169.59L152.14,137.09L165.3,98.37L175.5,102.92L183.84,105.83L190.89,116.04L197,119.75L202.38,125.17L207.2,122.4L211.56,119.9L215.54,107.12L219.2,105.03L222.59,103.99L225.74,113.07L228.69,112.12L231.47,112.32L234.08,106.07L236.55,110.46L238.9,108.34L241.13,106.7L243.26,107.27L245.29,109.7L247.24,105.76L248.64,106.35L250.04,109.66L251.44,110.9L252.84,111.07L254.24,113.24L255.64,114.92L257.04,113.02L258.44,110.28L259.84,111.51L261.24,111.46L262.64,109.96L264.04,107.64L265.44,111.53L266.84,115.48L268.24,115.76L269.64,118.79L271.04,117.22L272.44,114.95L273.84,114.84L275.24,116.1L276.64,115.55L278.04,117.85L279.44,116.64L280.84,117.81L282.24,118.1L283.64,118.76L285.04,118.53L286.44,117.6L287.84,119.29L289.24,119.71L290.64,121.57L292.04,122.07L293.44,122.17L294.84,121.83L296.24,122.95L297.64,123.39L299.04,124.79L300.44,124.22L301.84,124.5L303.24,124.42L304.64,125.26L306.04,126.35L307.44,126.94L308.84,129.34L310.24,127.98L311.64,131.15L313.04,129.74L314.44,129.86L315.84,130.57L317.24,132.11L318.64,133.24L320.04,134.35L321.44,135.52L322.84,133.28L324.24,133.88L325.64,134.95L327.04,136.46L328.44,137.26L329.84,137.12L331.24,136.84L332.64,138.06L334.04,139.67L335.44,139.24L336.84,139.5L338.24,139.34L339.64,139.91L341.04,139.96L342.44,139.64L343.84,140.47L345.24,142.55L346.64,143.14L348.04,142.94L349.44,144.13L350.84,144.15L352.24,143.87L353.64,143.91L355.04,144.12L356.44,145.41L357.84,146.07L359.24,146.11L360.64,146.5L362.04,147.71L363.44,147.68L364.84,148.15L366.24,148.22L367.64,148.43L369.04,148.6L370.44,148.6L371.84,148.6L373.24,148.6L374.64,148.6L376.5,148.6M101.9,148.6L133.6,157.76L152.14,136.32L165.3,100.91L175.5,102.99L183.84,119.37L190.89,130.98L197,119.89L202.38,105.67L207.2,116.2L211.56,116.35L215.54,111.09L219.2,109.42L222.59,113.39L225.74,110.41L228.69,108L231.47,114.12L234.08,113.73L236.55,112.41L238.9,109.77L241.13,108.34L243.26,109.15L245.29,108.98L247.24,109.88L248.64,106.11L250.04,108.41L251.44,109.99L252.84,109.15L254.24,110.38L255.64,110.91L257.04,111.66L258.44,111.02L259.84,111.58L261.24,115.27L262.64,113.39L264.04,112.02L265.44,114.3L266.84,113.79L268.24,114.64L269.64,115.27L271.04,116.14L272.44,116.31L273.84,114.69L275.24,114.55L276.64,115.54L278.04,116.92L279.44,116.72L280.84,116.89L282.24,119.67L283.64,120.33L285.04,121.07L286.44,121.79L287.84,121.01L289.24,122.19L290.64,121.56L292.04,121.69L293.44,121.88L294.84,121.04L296.24,122.24L297.64,122.97L299.04,124.52L300.44,124.04L301.84,124.73L303.24,125.56L304.64,124.79L306.04,126.06L307.44,125.87L308.84,126.33L310.24,128.09L311.64,129.41L313.04,129.97L314.44,128.73L315.84,130.03L317.24,129.56L318.64,131.06L320.04,130.65L321.44,133.11L322.84,132.34L324.24,132.8L325.64,132.76L327.04,134.9L328.44,135.74L329.84,135.47L331.24,136.58L332.64,136.36L334.04,137.95L335.44,138.63L336.84,140.56L338.24,140.56L339.64,140.18L341.04,140.78L342.44,142.37L343.84,142.17L345.24,143.39L346.64,143.55L348.04,143.01L349.44,144.06L350.84,145.06L352.24,144.5L353.64,145.3L355.04,146.01L356.44,145.94L357.84,146.45L359.24,147.43L360.64,148.45L362.04,147.85L363.44,148.03L364.84,148.2L366.24,148.3L367.64,148.53L369.04,148.6L370.44,148.6L371.84,148.6L373.24,148.6L374.64,148.6L376.5,148.6M101.9,148.6L133.6,167.06L152.14,143.97L165.3,102.69L175.5,96.29L183.84,113.21L190.89,116.87L197,129.28L202.38,116.31L207.2,109.57L211.56,109.31L215.54,116.39L219.2,114.77L222.59,113.09L225.74,110.46L228.69,108.84L231.47,108.22L234.08,109.44L236.55,107.83L238.9,108.17L241.13,109.1L243.26,109.78L245.29,106.17L247.24,107.91L248.64,105.67L250.04,111.84L251.44,114.1L252.84,114L254.24,112.69L255.64,107.6L257.04,109.93L258.44,112.65L259.84,111.03L261.24,110.07L262.64,111.79L264.04,113.64L265.44,112.93L266.84,110.8L268.24,109.82L269.64,113.43L271.04,113.29L272.44,114.48L273.84,114.88L275.24,113.78L276.64,115.36L278.04,115.75L279.44,117.73L280.84,117.67L282.24,120.93L283.64,119.29L285.04,118.15L286.44,117.63L287.84,119.25L289.24,119.79L290.64,123.9L292.04,124.71L293.44,125.2L294.84,123.36L296.24,122.38L297.64,122.97L299.04,123.94L300.44,123.98L301.84,124.65L303.24,126.18L304.64,125.78L306.04,126.03L307.44,125.67L308.84,128.25L310.24,128.95L311.64,129.54L313.04,130.77L314.44,131.63L315.84,130.41L317.24,129.92L318.64,131.65L320.04,132.6L321.44,132.38L322.84,132.57L324.24,134.02L325.64,134.6L327.04,134.39L328.44,135.74L329.84,135.82L331.24,136.21L332.64,136.13L334.04,135.79L335.44,136.56L336.84,137.98L338.24,139.83L339.64,140.42L341.04,140.51L342.44,142.13L343.84,141.93L345.24,142.44L346.64,142.84L348.04,144.24L349.44,145.18L350.84,145.37L352.24,145.4L353.64,145.55L355.04,144.5L356.44,145.48L357.84,146.74L359.24,146.56L360.64,146.38L362.04,147.46L363.44,147.85L364.84,147.84L366.24,148.14L367.64,148.48L369.04,148.6L370.44,148.6L371.84,148.6L373.24,148.6L374.64,148.6L376.5,148.6M101.9,148.6L133.6,169.9L152.14,151.43L165.3,119.33L175.5,102.96L183.84,109.73L190.89,136.2L197,119.8L202.38,108.91L207.2,112.31L211.56,107.07L215.54,107.76L219.2,102.97L222.59,107.54L225.74,110.94L228.69,109.06L231.47,105.55L234.08,105.72L236.55,107.41L238.9,108.94L241.13,111.13L243.26,112.12L245.29,110.27L247.24,113.96L248.64,106.24L250.04,110.87L251.44,110.95L252.84,113.66L254.24,110.65L255.64,110.01L257.04,111.61L258.44,112.63L259.84,111.68L261.24,111.56L262.64,113.29L264.04,116L265.44,115.02L266.84,114.13L268.24,110.69L269.64,113.08L271.04,113.38L272.44,114.59L273.84,116.31L275.24,115.87L276.64,118.56L278.04,119.79L279.44,118.68L280.84,115.63L282.24,114.22L283.64,118.15L285.04,119.52L286.44,118.87L287.84,118.8L289.24,115.73L290.64,118.55L292.04,119L293.44,120.11L294.84,120.87L296.24,121.55L297.64,122.12L299.04,121.27L300.44,122.92L301.84,124.2L303.24,122.36L304.64,126.7L306.04,126.36L307.44,126.53L308.84,125.12L310.24,127.74L311.64,130.16L313.04,130.25L314.44,129.99L315.84,130.52L317.24,131.03L318.64,132.15L320.04,133.43L321.44,133.97L322.84,133.13L324.24,134.03L325.64,133.98L327.04,135.08L328.44,135.56L329.84,135.99L331.24,135.42L332.64,137.18L334.04,137.41L335.44,138.15L336.84,138.13L338.24,139.16L339.64,139.16L341.04,141.08L342.44,141.83L343.84,143.42L345.24,143.21L346.64,144.89L348.04,142.76L349.44,143.1L350.84,143.67L352.24,142.89L353.64,143.8L355.04,145.19L356.44,146.27L357.84,146.71L359.24,146.42L360.64,147.67L362.04,148.02L363.44,147.67L364.84,147.86L366.24,148.32L367.64,148.52L369.04,148.6L370.44,148.6L371.84,148.6L373.24,148.6L374.64,148.6L376.5,148.6M101.9,148.6L133.6,161.47L152.14,94.7L165.3,107.77L175.5,115.32L183.84,99.32L190.89,110.08L197,99.86L202.38,113.53L207.2,105.9L211.56,121.85L215.54,109.41L219.2,109.14L222.59,113.53L225.74,111.53L228.69,110.27L231.47,114.62L234.08,110.68L236.55,112.06L238.9,108.2L241.13,109.28L243.26,106.29L245.29,107.83L247.24,110.53L248.64,109.52L250.04,110.87L251.44,112.61L252.84,114.56L254.24,113.3L255.64,111.43L257.04,110.66L258.44,112.61L259.84,112.73L261.24,111.8L262.64,111.16L264.04,111.9L265.44,112.94L266.84,112.97L268.24,114.64L269.64,115.45L271.04,118L272.44,117.9L273.84,117.82L275.24,119.37L276.64,119.89L278.04,116.04L279.44,116.05L280.84,115.91L282.24,117.15L283.64,119.1L285.04,118.27L286.44,120.29L287.84,121.02L289.24,120.18L290.64,119.74L292.04,120.53L293.44,121.27L294.84,121.39L296.24,122.16L297.64,122.5L299.04,122.37L300.44,122.73L301.84,123.91L303.24,123.17L304.64,124.62L306.04,124.83L307.44,124.9L308.84,124.96L310.24,126.26L311.64,128.28L313.04,130.75L314.44,129.9L315.84,130.72L317.24,131.61L318.64,131.31L320.04,132.75L321.44,132.34L322.84,130.55L324.24,134.03L325.64,133.17L327.04,133.85L328.44,135.15L329.84,136.39L331.24,136.98L332.64,135.7L334.04,137.27L335.44,136.15L336.84,136.76L338.24,138.22L339.64,140.3L341.04,140.71L342.44,139.6L343.84,142.01L345.24,142.39L346.64,143.24L348.04,144.64L349.44,144.55L350.84,143.75L352.24,144.91L353.64,145.89L355.04,145.24L356.44,146.56L357.84,145.98L359.24,146.43L360.64,146.81L362.04,146.84L363.44,146.73L364.84,147.1L366.24,147.92L367.64,148.43L369.04,148.6L370.44,148.6L371.84,148.6L373.24,148.6L374.64,148.6L376.5,148.6M101.9,148.6L133.6,165.55L152.14,141.25L165.3,91.7L175.5,101.81L183.84,119.52L190.89,120.84L197,107.04L202.38,133L207.2,109.13L211.56,115.68L215.54,115.72L219.2,114.52L222.59,118.05L225.74,110.83L228.69,108.85L231.47,106.51L234.08,106.75L236.55,107.38L238.9,105.39L241.13,108.03L243.26,110.02L245.29,111.89L247.24,106.98L248.64,108.09L250.04,109.14L251.44,110.91L252.84,105.91L254.24,109.24L255.64,113.44L257.04,111.15L258.44,111.55L259.84,110.81L261.24,113.03L262.64,112.32L264.04,113.79L265.44,113.64L266.84,115.35L268.24,115.47L269.64,114.26L271.04,114.15L272.44,116.46L273.84,117.96L275.24,118.2L276.64,116.93L278.04,116.69L279.44,114.95L280.84,117.86L282.24,116.57L283.64,116.78L285.04,117.66L286.44,116.91L287.84,118.39L289.24,119.6L290.64,120.14L292.04,120.75L293.44,123.68L294.84,124.24L296.24,122.44L297.64,125.29L299.04,125.94L300.44,126.45L301.84,125.32L303.24,125.47L304.64,126.96L306.04,126.64L307.44,127.78L308.84,128.95L310.24,126.91L311.64,128.29L313.04,128.4L314.44,129.47L315.84,129.13L317.24,130.92L318.64,131.58L320.04,132.84L321.44,133.35L322.84,133L324.24,132.37L325.64,135.83L327.04,136.47L328.44,137.28L329.84,138.41L331.24,137.74L332.64,137.96L334.04,137.69L335.44,139.19L336.84,137.64L338.24,138.76L339.64,140.14L341.04,140.55L342.44,142.36L343.84,141.45L345.24,141.78L346.64,144.1L348.04,142.98L349.44,143.12L350.84,142.96L352.24,144.15L353.64,144.69L355.04,145.2L356.44,145.61L357.84,147.01L359.24,146.18L360.64,145.03L362.04,147.06L363.44,147.89L364.84,148.31L366.24,148.47L367.64,148.62L369.04,148.6L370.44,148.6L371.84,148.6L373.24,148.6L374.64,148.6L376.5,148.6M101.9,148.6L133.6,154.61L152.14,94.54L165.3,110.4L175.5,107.71L183.84,132.9L190.89,118.58L197,123.8L202.38,118.46L207.2,99.11L211.56,109.36L215.54,114.52L219.2,111.54L222.59,111.03L225.74,110.34L228.69,106.95L231.47,109.64L234.08,113.91L236.55,114.1L238.9,115.97L241.13,114.56L243.26,114.89L245.29,114L247.24,112.19L248.64,108.44L250.04,110.9L251.44,111.21L252.84,115.85L254.24,112.23L255.64,112.25L257.04,112.17L258.44,111.59L259.84,111.5L261.24,113.19L262.64,113L264.04,109.77L265.44,109.98L266.84,108.89L268.24,112.06L269.64,113.5L271.04,116.03L272.44,116.64L273.84,117.92L275.24,115.37L276.64,118.63L278.04,117.31L279.44,118.76L280.84,116.81L282.24,117.32L283.64,120.43L285.04,121.1L286.44,119.28L287.84,121.14L289.24,118.79L290.64,120.08L292.04,120.37L293.44,120.42L294.84,122.02L296.24,122.43L297.64,122.44L299.04,122.08L300.44,123.87L301.84,124.15L303.24,125.18L304.64,127.3L306.04,128.36L307.44,128.42L308.84,128.9L310.24,129.82L311.64,128.99L313.04,129.66L314.44,130.36L315.84,131.63L317.24,132.42L318.64,133.79L320.04,134.19L321.44,134.6L322.84,135.98L324.24,136.03L325.64,133.92L327.04,134.47L328.44,133.66L329.84,136.04L331.24,136.09L332.64,136.86L334.04,138.91L335.44,139.7L336.84,139.45L338.24,139.63L339.64,139.57L341.04,139.16L342.44,141.65L343.84,142.08L345.24,142.97L346.64,143.16L348.04,143.07L349.44,143.28L350.84,143.93L352.24,145.08L353.64,144.93L355.04,145.2L356.44,146.53L357.84,146.7L359.24,146.49L360.64,147.02L362.04,147.1L363.44,147.56L364.84,148.2L366.24,148.13L367.64,148.37L369.04,148.6L370.44,148.6L371.84,148.6L373.24,148.6L374.64,148.6L376.5,148.6M101.9,148.6L133.6,156.95L152.14,136.67L165.3,103.29L175.5,105.43L183.84,115.8L190.89,116.42L197,118.64L202.38,111.86L207.2,119.18L211.56,122.5L215.54,111.33L219.2,110.05L222.59,118.29L225.74,112.78L228.69,113.91L231.47,106.34L234.08,106.91L236.55,108.01L238.9,105.83L241.13,109.93L243.26,106.96L245.29,105.82L247.24,104.95L248.64,107.42L250.04,110.39L251.44,110.51L252.84,111.04L254.24,112L255.64,114.29L257.04,109.92L258.44,108.2L259.84,109.59L261.24,111.79L262.64,112.17L264.04,115.78L265.44,113.93L266.84,115.14L268.24,115.32L269.64,115.9L271.04,116.5L272.44,118.42L273.84,118.34L275.24,117.66L276.64,116.68L278.04,118.82L279.44,116.87L280.84,119.74L282.24,118.67L283.64,117.73L285.04,117.44L286.44,120.19L287.84,120.21L289.24,121.51L290.64,120.01L292.04,120.52L293.44,121.21L294.84,121.9L296.24,123.73L297.64,124.06L299.04,124.51L300.44,124L301.84,124.65L303.24,125.03L304.64,126.81L306.04,129.17L307.44,126.92L308.84,128.83L310.24,128.16L311.64,127.99L313.04,128.97L314.44,130.69L315.84,130.3L317.24,131.92L318.64,131.64L320.04,132.08L321.44,132.3L322.84,133.39L324.24,134.15L325.64,134.53L327.04,135.74L328.44,137.13L329.84,137.8L331.24,137.8L332.64,140.13L334.04,139.99L335.44,139.04L336.84,140.49L338.24,140.53L339.64,140.59L341.04,139.3L342.44,140.49L343.84,139.57L345.24,142.81L346.64,142.47L348.04,142.87L349.44,144.28L350.84,144.34L352.24,145.22L353.64,144.33L355.04,145.33L356.44,146.62L357.84,147.91L359.24,146.67L360.64,147.76L362.04,147.13L363.44,147.46L364.84,148.28L366.24,148.03L367.64,148.47L369.04,148.6L370.44,148.6L371.84,148.6L373.24,148.6L374.64,148.6L376.5,148.6M101.9,148.6L133.6,157.3L152.14,114.87L165.3,122.03L175.5,104.67L183.84,112.26L190.89,105.26L197,115.72L202.38,103.35L207.2,112.22L211.56,117.96L215.54,113.83L219.2,107.16L222.59,108.56L225.74,107.66L228.69,110.31L231.47,108.96L234.08,112.71L236.55,112.89L238.9,110.68L241.13,105.9L243.26,104.46L245.29,109.56L247.24,107.65L248.64,109.22L250.04,108.78L251.44,112.92L252.84,109.67L254.24,110.82L255.64,110.04L257.04,114.03L258.44,116.83L259.84,113.68L261.24,112.8L262.64,110.34L264.04,115.1L265.44,116.13L266.84,113.61L268.24,116.04L269.64,116.06L271.04,114.13L272.44,114.25L273.84,115.54L275.24,117.1L276.64,117.97L278.04,119.34L279.44,115.58L280.84,116.36L282.24,116.29L283.64,117.83L285.04,120.03L286.44,117.15L287.84,119.13L289.24,119.72L290.64,120.22L292.04,121.66L293.44,121.53L294.84,121.92L296.24,124.56L297.64,124.46L299.04,125.36L300.44,125.77L301.84,125.24L303.24,125.48L304.64,124.41L306.04,125.1L307.44,125.64L308.84,126.9L310.24,127.79L311.64,128.26L313.04,127.27L314.44,129.62L315.84,129.17L317.24,132.37L318.64,131.68L320.04,133.95L321.44,133.35L322.84,136.08L324.24,133.97L325.64,134.88L327.04,136.12L328.44,135.95L329.84,137.02L331.24,137.84L332.64,137.37L334.04,139.04L335.44,139.8L336.84,140.58L338.24,140.95L339.64,140.78L341.04,140.77L342.44,140.29L343.84,139.44L345.24,140.92L346.64,142.67L348.04,142.44L349.44,142.81L350.84,143.84L352.24,144.54L353.64,145.33L355.04,145.81L356.44,146.16L357.84,146.66L359.24,146.33L360.64,145.95L362.04,146.48L363.44,147.31L364.84,148.32L366.24,148.48L367.64,148.58L369.04,148.6L370.44,148.6L371.84,148.6L373.24,148.6L374.64,148.6L376.5,148.6M101.9,148.6L133.6,172.73L152.14,156.91L165.3,91.24L175.5,104.17L183.84,111.47L190.89,128.7L197,95.79L202.38,113.74L207.2,128.08L211.56,125.21L215.54,121.73L219.2,117.97L222.59,114.77L225.74,118.63L228.69,116.67L231.47,114.36L234.08,114.5L236.55,105.6L238.9,104.74L241.13,107.35L243.26,107.53L245.29,111.39L247.24,111.27L248.64,113.44L250.04,109.8L251.44,113.18L252.84,111.44L254.24,107L255.64,110.6L257.04,111.4L258.44,110.86L259.84,111.05L261.24,111.5L262.64,112.28L264.04,113.16L265.44,113.46L266.84,113.32L268.24,113.55L269.64,113.08L271.04,114.97L272.44,117.71L273.84,114.94L275.24,115.53L276.64,117.39L278.04,118.78L279.44,117.87L280.84,120.08L282.24,117.96L283.64,119.54L285.04,117.62L286.44,120.03L287.84,120.11L289.24,121.09L290.64,119.98L292.04,118.38L293.44,119.53L294.84,121.35L296.24,122.84L297.64,122.55L299.04,122.86L300.44,124.12L301.84,125.02L303.24,124.46L304.64,127.01L306.04,127.49L307.44,128.38L308.84,127.86L310.24,128.65L311.64,129.49L313.04,129.63L314.44,129.61L315.84,129.66L317.24,130.64L318.64,132.22L320.04,131.53L321.44,132.45L322.84,134.04L324.24,134.63L325.64,136.83L327.04,136.25L328.44,134.71L329.84,136.75L331.24,136.83L332.64,137.99L334.04,138.93L335.44,138.74L336.84,139.16L338.24,139.92L339.64,139.35L341.04,140.49L342.44,142.54L343.84,143.1L345.24,143.18L346.64,143.18L348.04,142.77L349.44,143.27L350.84,143.91L352.24,145.1L353.64,144.85L355.04,144.87L356.44,145.45L357.84,145.76L359.24,146.37L360.64,147.05L362.04,147.13L363.44,147.68L364.84,148.12L366.24,148.67L367.64,148.63L369.04,148.6L370.44,148.6L371.84,148.6L373.24,148.6L374.64,148.6L376.5,148.6M101.9,148.6L133.6,150.32L152.14,103.57L165.3,107.06L175.5,120L183.84,97.37L190.89,124.91L197,119.05L202.38,111.54L207.2,123.46L211.56,116.19L215.54,115.43L219.2,105.71L222.59,110.19L225.74,106.41L228.69,105.07L231.47,104.58L234.08,105.87L236.55,105.26L238.9,105.72L241.13,109.6L243.26,114.95L245.29,112.74L247.24,112.6L248.64,108.75L250.04,109.08L251.44,110.73L252.84,112.58L254.24,108.84L255.64,110.63L257.04,107.27L258.44,110.29L259.84,111.46L261.24,111.68L262.64,109.5L264.04,110.89L265.44,111.33L266.84,114.02L268.24,113.49L269.64,112.38L271.04,113.23L272.44,110.3L273.84,114.89L275.24,114.8L276.64,115.24L278.04,115.64L279.44,114.68L280.84,116.9L282.24,119.34L283.64,118.66L285.04,118.66L286.44,120.41L287.84,119.95L289.24,120.51L290.64,118.55L292.04,120.4L293.44,121.41L294.84,121.79L296.24,122.45L297.64,123.33L299.04,124.85L300.44,123.89L301.84,123.86L303.24,125.62L304.64,126.74L306.04,127.35L307.44,126.89L308.84,123.53L310.24,125.97L311.64,128.21L313.04,129.29L314.44,128.76L315.84,130.04L317.24,131.22L318.64,132.21L320.04,131.95L321.44,133.73L322.84,135.22L324.24,136.45L325.64,136.33L327.04,136.04L328.44,136.89L329.84,135.68L331.24,136.23L332.64,136.74L334.04,137.88L335.44,138.47L336.84,138.28L338.24,138.91L339.64,138.9L341.04,137.69L342.44,139.91L343.84,140.9L345.24,141.2L346.64,142.48L348.04,143L349.44,143.42L350.84,144.74L352.24,145.11L353.64,145.54L355.04,145.72L356.44,146.62L357.84,146.54L359.24,145.94L360.64,146.58L362.04,147.14L363.44,146.66L364.84,147.52L366.24,148.19L367.64,148.54L369.04,148.6L370.44,148.6L371.84,148.6L373.24,148.6L374.64,148.6L376.5,148.6M101.9,148.6L133.6,173.08L152.14,147.03L165.3,129.31L175.5,86.84L183.84,112.09L190.89,125.18L197,115.85L202.38,124.52L207.2,103.63L211.56,111.48L215.54,115.46L219.2,117.96L222.59,119L225.74,107.13L228.69,105.99L231.47,106.32L234.08,108.68L236.55,111.6L238.9,114.25L241.13,115.87L243.26,115.34L245.29,113.56L247.24,112.38L248.64,114L250.04,110.36L251.44,109.99L252.84,110.65L254.24,109.65L255.64,111.03L257.04,112.24L258.44,113.72L259.84,113.52L261.24,109.99L262.64,109.42L264.04,110.53L265.44,112.81L266.84,111.75L268.24,112.28L269.64,111.45L271.04,113.87L272.44,111.79L273.84,113.92L275.24,114.48L276.64,116.29L278.04,117.13L279.44,121.36L280.84,117.6L282.24,116.31L283.64,116.84L285.04,118.92L286.44,119.69L287.84,120.04L289.24,119.42L290.64,119.59L292.04,119.45L293.44,121.6L294.84,122.06L296.24,122.38L297.64,124.18L299.04,126.03L300.44,124.08L301.84,125.02L303.24,125.37L304.64,125.05L306.04,126.24L307.44,126.12L308.84,128.49L310.24,129.96L311.64,129.15L313.04,130.53L314.44,131.3L315.84,131.18L317.24,131.8L318.64,132.04L320.04,131.22L321.44,132.8L322.84,133.45L324.24,135.02L325.64,137.36L327.04,135.27L328.44,134.97L329.84,135.7L331.24,135.98L332.64,138.43L334.04,137.94L335.44,139.97L336.84,141.26L338.24,139.86L339.64,140.9L341.04,141.33L342.44,142.76L343.84,140.02L345.24,139.26L346.64,141.73L348.04,143.61L349.44,143.44L350.84,145.18L352.24,144.16L353.64,144.94L355.04,145.49L356.44,147.14L357.84,146.74L359.24,146.3L360.64,146.76L362.04,147.88L363.44,148.07L364.84,148.26L366.24,148.4L367.64,148.57L369.04,148.6L370.44,148.6L371.84,148.6L373.24,148.6L374.64,148.6L376.5,148.6M101.9,148.6L133.6,173.46L152.14,156.45L165.3,97.94L175.5,101.76L183.84,105.64L190.89,125.41L197,129.28L202.38,102.1L207.2,117.86L211.56,114.41L215.54,111.22L219.2,108.63L222.59,115.98L225.74,109.51L228.69,108.15L231.47,110.86L234.08,108.26L236.55,111.73L238.9,114.17L241.13,114.45L243.26,111.2L245.29,106.45L247.24,105.57L248.64,106.56L250.04,110.52L251.44,110.31L252.84,109.03L254.24,109.47L255.64,111.68L257.04,115.35L258.44,114.21L259.84,112.94L261.24,110.65L262.64,111.84L264.04,110.84L265.44,109.53L266.84,112.06L268.24,114.88L269.64,113.59L271.04,111.09L272.44,111.04L273.84,114.43L275.24,114.15L276.64,116.44L278.04,117.27L279.44,115.65L280.84,116.96L282.24,119.1L283.64,119.66L285.04,121.44L286.44,119.75L287.84,120.12L289.24,119.57L290.64,119.49L292.04,118.14L293.44,120.58L294.84,121.87L296.24,121.93L297.64,123.79L299.04,123.11L300.44,124.31L301.84,123.32L303.24,125.22L304.64,125.37L306.04,127.88L307.44,126.9L308.84,126.1L310.24,126.59L311.64,128.96L313.04,129.46L314.44,129.72L315.84,131.82L317.24,130.43L318.64,131.66L320.04,133.16L321.44,134.69L322.84,134.11L324.24,134.8L325.64,134.98L327.04,136.83L328.44,135.6L329.84,138.11L331.24,137.06L332.64,136.7L334.04,136.92L335.44,137.13L336.84,137.43L338.24,141.44L339.64,140.98L341.04,141.34L342.44,140.31L343.84,141.73L345.24,142.07L346.64,140.47L348.04,143.22L349.44,143.58L350.84,144.31L352.24,145.88L353.64,146.97L355.04,145.92L356.44,145.94L357.84,146.9L359.24,146.96L360.64,146.7L362.04,147.11L363.44,147.44L364.84,147.84L366.24,148.17L367.64,148.51L369.04,148.6L370.44,148.6L371.84,148.6L373.24,148.6L374.64,148.6L376.5,148.6M101.9,148.6L133.6,150.04L152.14,92.3L165.3,115.02L175.5,90.45L183.84,121.35L190.89,122.86L197,124.2L202.38,100.47L207.2,112.49L211.56,109.92L215.54,110.28L219.2,115.97L222.59,106.77L225.74,106.04L228.69,111.54L231.47,108.78L234.08,103.03L236.55,106.16L238.9,103.09L241.13,105.79L243.26,107.16L245.29,114.13L247.24,111.97L248.64,114.5L250.04,113.36L251.44,110.83L252.84,108.63L254.24,111.68L255.64,114.7L257.04,111.04L258.44,112.42L259.84,113.78L261.24,114.76L262.64,112.27L264.04,107.59L265.44,108.86L266.84,111.5L268.24,113L269.64,118.96L271.04,116.96L272.44,116.63L273.84,114.18L275.24,116.12L276.64,117.46L278.04,116.66L279.44,116.9L280.84,118.53L282.24,117.99L283.64,118.53L285.04,116.38L286.44,117.07L287.84,121.32L289.24,122.06L290.64,120.75L292.04,121.77L293.44,122.23L294.84,124.15L296.24,124.53L297.64,123.93L299.04,126.11L300.44,126.23L301.84,125.69L303.24,124.8L304.64,127.39L306.04,127.79L307.44,127.48L308.84,128.53L310.24,128.4L311.64,128.2L313.04,127.69L314.44,128.72L315.84,129.97L317.24,130.32L318.64,131.44L320.04,134.11L321.44,134.37L322.84,135.25L324.24,133.51L325.64,134.53L327.04,134.83L328.44,135.44L329.84,137.1L331.24,138L332.64,136.89L334.04,137.05L335.44,136.24L336.84,137.31L338.24,138.31L339.64,140.79L341.04,141.01L342.44,140.83L343.84,141.25L345.24,141.58L346.64,141.26L348.04,142.54L349.44,143.3L350.84,143.27L352.24,144.85L353.64,145.59L355.04,145.21L356.44,145.31L357.84,145.55L359.24,146.32L360.64,146.43L362.04,146.92L363.44,147.54L364.84,147.13L366.24,148L367.64,148.52L369.04,148.6L370.44,148.6L371.84,148.6L373.24,148.6L374.64,148.6L376.5,148.6M101.9,148.6L133.6,176.54L152.14,155.61L165.3,116.5L175.5,82.71L183.84,114.91L190.89,89.16L197,121.02L202.38,112.85L207.2,113.56L211.56,117.82L215.54,108.8L219.2,104.38L222.59,112.26L225.74,116.01L228.69,112.53L231.47,112.73L234.08,109.48L236.55,113.55L238.9,111.92L241.13,109.03L243.26,105.94L245.29,107.32L247.24,106.68L248.64,105.77L250.04,108.53L251.44,106.49L252.84,110.92L254.24,110.13L255.64,110.07L257.04,109.98L258.44,111.3L259.84,113.51L261.24,114.46L262.64,113.75L264.04,114.57L265.44,115.56L266.84,113.92L268.24,117L269.64,117.49L271.04,117.8L272.44,117.71L273.84,116.52L275.24,116.71L276.64,116.48L278.04,116.16L279.44,119.89L280.84,120.06L282.24,115.13L283.64,116.07L285.04,114.02L286.44,117.36L287.84,117.65L289.24,119.02L290.64,119.82L292.04,120.49L293.44,117.87L294.84,119.78L296.24,122.36L297.64,122.65L299.04,122.85L300.44,123.39L301.84,124.06L303.24,122.67L304.64,124.96L306.04,128.87L307.44,128.72L308.84,128.24L310.24,129.57L311.64,128.66L313.04,129.84L314.44,129.46L315.84,129.97L317.24,131.47L318.64,131.54L320.04,132.69L321.44,133.02L322.84,133.92L324.24,134.06L325.64,133.08L327.04,132.33L328.44,136.19L329.84,137.92L331.24,137.36L332.64,136.07L334.04,134.66L335.44,136.21L336.84,138.88L338.24,138.69L339.64,139.76L341.04,140.17L342.44,140.65L343.84,141.53L345.24,142.75L346.64,142.54L348.04,141.98L349.44,142.26L350.84,142.79L352.24,144.37L353.64,144.28L355.04,144.75L356.44,145.61L357.84,146.63L359.24,147.54L360.64,147.34L362.04,147.73L363.44,147.8L364.84,148.38L366.24,148.27L367.64,148.52L369.04,148.6L370.44,148.6L371.84,148.6L373.24,148.6L374.64,148.6L376.5,148.6M101.9,148.6L133.6,166.55L152.14,147.24L165.3,111.68L175.5,100.96L183.84,94.91L190.89,121.61L197,132.95L202.38,112.56L207.2,121.61L211.56,116.33L215.54,110.05L219.2,112.56L222.59,106.58L225.74,108.78L228.69,110.34L231.47,114.41L234.08,111.15L236.55,112.32L238.9,115.09L241.13,113.75L243.26,116.04L245.29,111.56L247.24,110.94L248.64,113.27L250.04,112.73L251.44,110.99L252.84,110L254.24,110.57L255.64,113.74L257.04,115.68L258.44,111.82L259.84,110.33L261.24,106.68L262.64,111.95L264.04,113.38L265.44,112.83L266.84,113.24L268.24,112.38L269.64,113.72L271.04,115.8L272.44,113.99L273.84,115.06L275.24,115.93L276.64,113.59L278.04,112.62L279.44,113.91L280.84,116.05L282.24,116.99L283.64,117.02L285.04,119.32L286.44,117.69L287.84,119.46L289.24,119.72L290.64,120.11L292.04,121.59L293.44,119.72L294.84,120.82L296.24,121.58L297.64,121.82L299.04,123.98L300.44,124.14L301.84,125.31L303.24,125.76L304.64,126.69L306.04,127.39L307.44,126.94L308.84,126.72L310.24,125.77L311.64,128.36L313.04,129.89L314.44,129.9L315.84,129.82L317.24,130.24L318.64,131.71L320.04,132.45L321.44,131.52L322.84,132.65L324.24,133.92L325.64,134.84L327.04,134.21L328.44,134.11L329.84,135.27L331.24,135.22L332.64,139.23L334.04,139.26L335.44,140.15L336.84,139.79L338.24,139.06L339.64,139.63L341.04,139.9L342.44,140.76L343.84,141.56L345.24,141.58L346.64,142.52L348.04,142.55L349.44,143.86L350.84,145.49L352.24,145.65L353.64,145.08L355.04,145.21L356.44,145.94L357.84,145.75L359.24,146.36L360.64,146.31L362.04,147.34L363.44,148.32L364.84,148.43L366.24,147.81L367.64,148.43L369.04,148.6L370.44,148.6L371.84,148.6L373.24,148.6L374.64,148.6L376.5,148.6M101.9,148.6L133.6,174.93L152.14,155.98L165.3,87.7L175.5,110.74L183.84,104.07L190.89,116.11L197,118.39L202.38,125.59L207.2,113.06L211.56,105.1L215.54,115.33L219.2,114.13L222.59,109.91L225.74,113.38L228.69,111.65L231.47,105.8L234.08,109.96L236.55,111.93L238.9,110.37L241.13,110.11L243.26,108.3L245.29,112.23L247.24,113.55L248.64,109.93L250.04,111.79L251.44,111.53L252.84,111L254.24,110.91L255.64,113.56L257.04,111.35L258.44,114.92L259.84,113.68L261.24,113.94L262.64,113.74L264.04,117.61L265.44,111.9L266.84,113.24L268.24,115.45L269.64,114.5L271.04,115.97L272.44,115.38L273.84,114.53L275.24,115.17L276.64,119.24L278.04,118.83L279.44,116.43L280.84,114.97L282.24,112.89L283.64,116.61L285.04,114.01L286.44,116.36L287.84,118.89L289.24,119.78L290.64,120.21L292.04,119.97L293.44,121.28L294.84,122.88L296.24,122.18L297.64,123.01L299.04,123.61L300.44,124.85L301.84,125.3L303.24,125.18L304.64,125.83L306.04,127.57L307.44,125.88L308.84,126.22L310.24,126.62L311.64,128.65L313.04,128.52L314.44,129.21L315.84,129.95L317.24,132.29L318.64,130.77L320.04,131.37L321.44,130.55L322.84,132.76L324.24,132.97L325.64,133.13L327.04,134.88L328.44,135.61L329.84,135.39L331.24,136.79L332.64,137L334.04,137.8L335.44,137.77L336.84,139.29L338.24,139.48L339.64,141.37L341.04,142.16L342.44,142.13L343.84,142.25L345.24,142.16L346.64,142.38L348.04,142.98L349.44,144.28L350.84,144.59L352.24,144.2L353.64,144.67L355.04,143.52L356.44,146.6L357.84,146.36L359.24,146.8L360.64,147.45L362.04,147.13L363.44,147.29L364.84,147.88L366.24,148.3L367.64,148.56L369.04,148.6L370.44,148.6L371.84,148.6L373.24,148.6L374.64,148.6L376.5,148.6M101.9,148.6L133.6,150.17L152.14,104.05L165.3,108.35L175.5,109.21L183.84,108.98L190.89,128.64L197,100.07L202.38,116.64L207.2,116.56L211.56,112.03L215.54,109.92L219.2,107.39L222.59,110.26L225.74,112.83L228.69,112.05L231.47,112.14L234.08,112.87L236.55,109.06L238.9,110.86L241.13,111.54L243.26,112.94L245.29,112.98L247.24,112.88L248.64,115.26L250.04,110.31L251.44,112.49L252.84,110.15L254.24,111.51L255.64,112.3L257.04,114.49L258.44,111.3L259.84,111.65L261.24,109.31L262.64,112.46L264.04,112.47L265.44,109.72L266.84,111.22L268.24,113.13L269.64,116.32L271.04,115.19L272.44,114.47L273.84,114.89L275.24,118.76L276.64,117.87L278.04,119.47L279.44,116.45L280.84,119.09L282.24,119.09L283.64,119.89L285.04,119.21L286.44,117.56L287.84,119.73L289.24,120.04L290.64,119.6L292.04,120.67L293.44,121.66L294.84,121.75L296.24,122.93L297.64,123.71L299.04,124.34L300.44,124.08L301.84,124.57L303.24,123.76L304.64,124.45L306.04,123.92L307.44,125.31L308.84,126.03L310.24,126.05L311.64,124.73L313.04,126.16L314.44,127.5L315.84,129.66L317.24,129.5L318.64,131.69L320.04,132.77L321.44,132.65L322.84,133.46L324.24,132.99L325.64,133.02L327.04,135.05L328.44,136.14L329.84,137.56L331.24,137.22L332.64,137.35L334.04,137.67L335.44,139.06L336.84,139.52L338.24,139.39L339.64,138.75L341.04,140.14L342.44,140.75L343.84,141.46L345.24,141.91L346.64,142.54L348.04,142.91L349.44,143.92L350.84,144.68L352.24,144.34L353.64,143.14L355.04,144.35L356.44,144.82L357.84,145.86L359.24,146.31L360.64,146.47L362.04,147.47L363.44,147.74L364.84,148.3L366.24,148.38L367.64,148.37L369.04,148.6L370.44,148.6L371.84,148.6L373.24,148.6L374.64,148.6L376.5,148.6M101.9,148.6L133.6,169.89L152.14,146.69L165.3,101.43L175.5,107.21L183.84,110.35L190.89,105.54L197,119.4L202.38,95.48L207.2,116.76L211.56,118.72L215.54,110.17L219.2,106.49L222.59,113.35L225.74,108.59L228.69,108.28L231.47,110.99L234.08,113.18L236.55,112.7L238.9,116.29L241.13,116.56L243.26,110.48L245.29,109.27L247.24,112.51L248.64,112.76L250.04,112.3L251.44,113.48L252.84,110.19L254.24,110.8L255.64,112.58L257.04,115.3L258.44,114.64L259.84,113.39L261.24,110.34L262.64,111.04L264.04,109.77L265.44,111.97L266.84,113.26L268.24,114.46L269.64,112.09L271.04,113.62L272.44,115.28L273.84,116.37L275.24,116.56L276.64,116.94L278.04,117.01L279.44,115.85L280.84,118.5L282.24,117.37L283.64,119.26L285.04,119.36L286.44,114.57L287.84,116.82L289.24,119.34L290.64,122.1L292.04,122.9L293.44,122.03L294.84,121.87L296.24,122.37L297.64,122.21L299.04,123.37L300.44,123.7L301.84,124.46L303.24,125.27L304.64,126.47L306.04,126.32L307.44,127.61L308.84,128.15L310.24,129.99L311.64,128.85L313.04,129.36L314.44,131.22L315.84,131.84L317.24,131.75L318.64,132.61L320.04,132.88L321.44,132.46L322.84,135.62L324.24,135.95L325.64,133.97L327.04,135.17L328.44,134.95L329.84,135.34L331.24,136.84L332.64,140.21L334.04,140.03L335.44,139.63L336.84,140.25L338.24,140.51L339.64,139.16L341.04,138.33L342.44,140.6L343.84,140.82L345.24,141.06L346.64,141.38L348.04,142.17L349.44,142.38L350.84,143.27L352.24,143.86L353.64,144.27L355.04,144.55L356.44,146.06L357.84,145.44L359.24,146.36L360.64,147.08L362.04,147.14L363.44,147.86L364.84,147.68L366.24,148.06L367.64,148.49L369.04,148.6L370.44,148.6L371.84,148.6L373.24,148.6L374.64,148.6L376.5,148.6M101.9,148.6L133.6,155.67L152.14,123.72L165.3,85.93L175.5,105.3L183.84,96.67L190.89,117.43L197,122.25L202.38,107.89L207.2,114.64L211.56,114L215.54,110.3L219.2,116.48L222.59,109.36L225.74,113.07L228.69,112.6L231.47,110.84L234.08,111.95L236.55,112.81L238.9,117.34L241.13,111.23L243.26,111.2L245.29,107.04L247.24,105.2L248.64,104.86L250.04,110.72L251.44,111.72L252.84,112.29L254.24,112.06L255.64,111.49L257.04,112.09L258.44,110.48L259.84,111.12L261.24,112.34L262.64,112.44L264.04,113.43L265.44,111.99L266.84,112.85L268.24,114.23L269.64,113.8L271.04,113.08L272.44,112.41L273.84,110.99L275.24,115.42L276.64,115.27L278.04,114.18L279.44,115.79L280.84,115.79L282.24,116.91L283.64,118.4L285.04,118.73L286.44,118.77L287.84,120.64L289.24,121.67L290.64,121.63L292.04,120.25L293.44,120.44L294.84,121.58L296.24,121.42L297.64,122.93L299.04,125.73L300.44,125.21L301.84,125.69L303.24,127.03L304.64,127.19L306.04,127.44L307.44,126.97L308.84,127.55L310.24,128.47L311.64,128.43L313.04,126.5L314.44,128.76L315.84,129.9L317.24,131.02L318.64,130.12L320.04,131.13L321.44,132.14L322.84,133.46L324.24,132.81L325.64,134.38L327.04,134.88L328.44,136.18L329.84,136.88L331.24,137.01L332.64,138.25L334.04,138.58L335.44,138.49L336.84,138.96L338.24,139.55L339.64,139.87L341.04,139.23L342.44,141.04L343.84,142.16L345.24,143.32L346.64,144.31L348.04,142.66L349.44,143.47L350.84,144.75L352.24,144.71L353.64,145.71L355.04,145.45L356.44,145.46L357.84,146.1L359.24,146.3L360.64,146.45L362.04,147.15L363.44,146.97L364.84,147.67L366.24,148.43L367.64,148.53L369.04,148.6L370.44,148.6L371.84,148.6L373.24,148.6L374.64,148.6L376.5,148.6M101.9,148.6L133.6,157.9L152.14,140.58L165.3,86.93L175.5,102.55L183.84,124.72L190.89,108.32L197,116.36L202.38,105.16L207.2,113.77L211.56,119.05L215.54,109.73L219.2,112.42L222.59,106.09L225.74,108.53L228.69,107.51L231.47,112.7L234.08,114.12L236.55,114.9L238.9,117.16L241.13,113.55L243.26,109.11L245.29,112.17L247.24,116.32L248.64,115.46L250.04,112.4L251.44,111.28L252.84,114.23L254.24,112.13L255.64,110.51L257.04,111.91L258.44,111.49L259.84,111.73L261.24,112.45L262.64,111.97L264.04,109.86L265.44,112.88L266.84,114.41L268.24,116.13L269.64,116.38L271.04,115.16L272.44,116.57L273.84,114.94L275.24,113.29L276.64,115.6L278.04,117L279.44,118.39L280.84,120.94L282.24,118.86L283.64,117.81L285.04,118.63L286.44,122.63L287.84,120.68L289.24,120.51L290.64,120.05L292.04,119.9L293.44,121.41L294.84,123.95L296.24,123.42L297.64,122.67L299.04,123.43L300.44,120.86L301.84,124.39L303.24,124.05L304.64,123.72L306.04,125.45L307.44,127.49L308.84,127.63L310.24,128.79L311.64,128.02L313.04,129.75L314.44,131.99L315.84,131.39L317.24,131.11L318.64,129.75L320.04,132.56L321.44,129.41L322.84,130.88L324.24,131.94L325.64,133.02L327.04,134.28L328.44,134.54L329.84,134.41L331.24,134.02L332.64,136.21L334.04,137.22L335.44,138.55L336.84,140.32L338.24,139.73L339.64,139.65L341.04,140.12L342.44,141.75L343.84,141.53L345.24,141.78L346.64,142.42L348.04,143.72L349.44,142.57L350.84,142.83L352.24,141.88L353.64,143.94L355.04,145.52L356.44,146.31L357.84,145.82L359.24,146.36L360.64,147.11L362.04,148.19L363.44,148.01L364.84,147.79L366.24,148.03L367.64,148.47L369.04,148.6L370.44,148.6L371.84,148.6L373.24,148.6L374.64,148.6L376.5,148.6M101.9,148.6L133.6,174.92L152.14,155.29L165.3,104.09L175.5,118.07L183.84,110.15L190.89,101.08L197,111.53L202.38,110.15L207.2,115.12L211.56,111.63L215.54,114.63L219.2,119.71L222.59,119.58L225.74,120.07L228.69,114.05L231.47,115.18L234.08,114.65L236.55,114.86L238.9,112.83L241.13,106.13L243.26,108.97L245.29,113.44L247.24,113.07L248.64,111.95L250.04,107.69L251.44,109.19L252.84,109.48L254.24,105.6L255.64,109.19L257.04,112.6L258.44,110.93L259.84,111.34L261.24,111.66L262.64,111.16L264.04,111.86L265.44,115.06L266.84,116.82L268.24,118.59L269.64,116.48L271.04,115.28L272.44,115.1L273.84,112.9L275.24,110.76L276.64,117.92L278.04,117.52L279.44,118.14L280.84,118.7L282.24,119.64L283.64,118.33L285.04,116.61L286.44,118.65L287.84,118.2L289.24,120.23L290.64,121.71L292.04,122.49L293.44,123.08L294.84,124.22L296.24,124.01L297.64,123.54L299.04,124.05L300.44,123.41L301.84,124.3L303.24,124.59L304.64,127.41L306.04,126.37L307.44,126.81L308.84,126.03L310.24,126.84L311.64,127.83L313.04,128.4L314.44,131.34L315.84,130.21L317.24,129.3L318.64,131.21L320.04,129.48L321.44,129.07L322.84,131.62L324.24,132.86L325.64,135.48L327.04,135.28L328.44,136.36L329.84,135.65L331.24,136.49L332.64,135.83L334.04,137.9L335.44,139.73L336.84,139.51L338.24,140.7L339.64,139.7L341.04,140.27L342.44,140.91L343.84,141.98L345.24,142.01L346.64,142.88L348.04,142.79L349.44,145.31L350.84,145.23L352.24,145.95L353.64,145.57L355.04,146.64L356.44,146.82L357.84,146.54L359.24,147.86L360.64,147.64L362.04,147L363.44,147.64L364.84,148.31L366.24,148.42L367.64,148.56L369.04,148.6L370.44,148.6L371.84,148.6L373.24,148.6L374.64,148.6L376.5,148.6M101.9,148.6L133.6,134.57L152.14,90.05L165.3,108.44L175.5,98.54L183.84,109.35L190.89,88.63L197,116.75L202.38,121.32L207.2,118.71L211.56,109.96L215.54,115.61L219.2,113.34L222.59,113.74L225.74,112.71L228.69,112.25L231.47,112.56L234.08,112.15L236.55,111.42L238.9,111.17L241.13,112.89L243.26,115.68L245.29,110.77L247.24,103.99L248.64,108.12L250.04,110.29L251.44,110.74L252.84,106.76L254.24,107.79L255.64,110L257.04,111.38L258.44,111.28L259.84,112.74L261.24,114.37L262.64,118.26L264.04,114.05L265.44,112.74L266.84,114.29L268.24,111.37L269.64,113.43L271.04,113.71L272.44,117.03L273.84,114.74L275.24,112.22L276.64,113.89L278.04,115.52L279.44,116.33L280.84,115.39L282.24,117.92L283.64,117.83L285.04,118.2L286.44,120.32L287.84,118.39L289.24,118.73L290.64,119.99L292.04,119.53L293.44,117.37L294.84,121.37L296.24,124.42L297.64,123.73L299.04,125.08L300.44,124.15L301.84,124.63L303.24,125.28L304.64,126.24L306.04,127.62L307.44,127.88L308.84,129.7L310.24,127.96L311.64,128.6L313.04,130.96L314.44,131.71L315.84,131.36L317.24,132.17L318.64,132.48L320.04,133.74L321.44,130.91L322.84,134.08L324.24,136.61L325.64,137.15L327.04,135.99L328.44,135.73L329.84,136.17L331.24,137.71L332.64,138.69L334.04,138.09L335.44,138.71L336.84,141.31L338.24,141.26L339.64,141.16L341.04,141.66L342.44,142.4L343.84,141.74L345.24,141.14L346.64,143.2L348.04,143.06L349.44,144.03L350.84,143.9L352.24,145.23L353.64,144.38L355.04,144.85L356.44,145.58L357.84,145.99L359.24,146.77L360.64,146.32L362.04,146.81L363.44,147.62L364.84,147.28L366.24,148.29L367.64,148.49L369.04,148.6L370.44,148.6L371.84,148.6L373.24,148.6L374.64,148.6L376.5,148.6M101.9,148.6L133.6,137.92L152.14,94.78L165.3,113.65L175.5,113.08L183.84,103.79L190.89,109.1L197,131.74L202.38,102.32L207.2,112.25L211.56,117.74L215.54,109.65L219.2,110.91L222.59,107.53L225.74,108.74L228.69,109.94L231.47,111.65L234.08,113.37L236.55,112.37L238.9,112.35L241.13,111.92L243.26,114.41L245.29,108.53L247.24,110.29L248.64,115.64L250.04,110.96L251.44,111.37L252.84,110.33L254.24,113.32L255.64,112.96L257.04,114.83L258.44,111.51L259.84,110.67L261.24,112.93L262.64,112.3L264.04,112.24L265.44,112.47L266.84,113.77L268.24,113.51L269.64,115.17L271.04,115.01L272.44,116.27L273.84,114.84L275.24,114.25L276.64,116.93L278.04,116.12L279.44,116.36L280.84,116.89L282.24,117.18L283.64,116.22L285.04,119.66L286.44,119.53L287.84,118.59L289.24,119.53L290.64,120.98L292.04,120.84L293.44,120.42L294.84,119.79L296.24,120.58L297.64,122.63L299.04,123.37L300.44,123.27L301.84,123.69L303.24,122.92L304.64,124.42L306.04,126.02L307.44,125.72L308.84,127.37L310.24,130.01L311.64,129.05L313.04,129.79L314.44,131.79L315.84,131.82L317.24,132.97L318.64,133.7L320.04,133.17L321.44,133.02L322.84,133.91L324.24,134.09L325.64,134.98L327.04,136.37L328.44,137.38L329.84,136.62L331.24,136.81L332.64,137.28L334.04,137.1L335.44,138.04L336.84,139.04L338.24,139.51L339.64,139.4L341.04,139.46L342.44,139.5L343.84,140.73L345.24,142.99L346.64,141.68L348.04,143.24L349.44,143.9L350.84,143.73L352.24,144.31L353.64,145.29L355.04,145.01L356.44,146.81L357.84,145.98L359.24,147.04L360.64,147.66L362.04,147.36L363.44,147.33L364.84,146.73L366.24,148.12L367.64,148.35L369.04,148.6L370.44,148.6L371.84,148.6L373.24,148.6L374.64,148.6L376.5,148.6M101.9,148.6L133.6,161.4L152.14,134.87L165.3,113.56L175.5,98L183.84,119.87L190.89,105.85L197,117.35L202.38,123.02L207.2,111.81L211.56,113.41L215.54,117.33L219.2,116.7L222.59,112.61L225.74,114.03L228.69,113.06L231.47,111.77L234.08,114.3L236.55,109.46L238.9,108.69L241.13,107.67L243.26,110.38L245.29,111.37L247.24,113.87L248.64,111.86L250.04,112.32L251.44,110.77L252.84,110.7L254.24,112.5L255.64,110.95L257.04,111.27L258.44,111.56L259.84,112.96L261.24,113.63L262.64,116.02L264.04,117.81L265.44,114.39L266.84,114.04L268.24,113.56L269.64,113.29L271.04,113.69L272.44,113.81L273.84,114.52L275.24,115.76L276.64,116.15L278.04,116.09L279.44,117.44L280.84,118.52L282.24,120.53L283.64,120.03L285.04,116.67L286.44,118.03L287.84,118.52L289.24,120.31L290.64,120.13L292.04,117.46L293.44,121.33L294.84,122.92L296.24,122.43L297.64,122.96L299.04,122.8L300.44,120.17L301.84,120.73L303.24,123.17L304.64,125.84L306.04,126.87L307.44,127L308.84,129.05L310.24,128.92L311.64,130.28L313.04,129.4L314.44,129.68L315.84,130.45L317.24,128.5L318.64,129.83L320.04,129.44L321.44,131.07L322.84,132.47L324.24,131.99L325.64,133.93L327.04,135.76L328.44,136.46L329.84,136.77L331.24,136.86L332.64,137.45L334.04,138.95L335.44,139.64L336.84,140.5L338.24,141.29L339.64,140.75L341.04,141.64L342.44,143.56L343.84,143.2L345.24,143.14L346.64,142.51L348.04,144.09L349.44,143.69L350.84,145.46L352.24,145.15L353.64,144.88L355.04,145.17L356.44,143.73L357.84,144.79L359.24,146.55L360.64,147.51L362.04,148.25L363.44,147.94L364.84,148.39L366.24,148.27L367.64,148.53L369.04,148.6L370.44,148.6L371.84,148.6L373.24,148.6L374.64,148.6L376.5,148.6M101.9,148.6L133.6,153.36L152.14,97.72L165.3,107.3L175.5,103.1L183.84,109.87L190.89,124.75L197,121.35L202.38,114.71L207.2,106.68L211.56,104.55L215.54,117.45L219.2,118.24L222.59,107.18L225.74,111.34L228.69,108.61L231.47,106.49L234.08,111.84L236.55,112.43L238.9,109.77L241.13,110.94L243.26,113.69L245.29,116.22L247.24,114.42L248.64,111.9L250.04,112.44L251.44,111.43L252.84,105.52L254.24,111.82L255.64,115.35L257.04,114.29L258.44,115.01L259.84,111.73L261.24,110.69L262.64,111.7L264.04,113.34L265.44,113.31L266.84,111.83L268.24,107.97L269.64,112.4L271.04,112.57L272.44,114.42L273.84,116.8L275.24,115.01L276.64,117.89L278.04,119.11L279.44,118.08L280.84,119.28L282.24,119.88L283.64,119.78L285.04,118.25L286.44,120.59L287.84,121.9L289.24,122.24L290.64,120.24L292.04,119.24L293.44,122.22L294.84,122.85L296.24,122.96L297.64,123.71L299.04,124.89L300.44,123.97L301.84,124.73L303.24,127.29L304.64,127.71L306.04,125.2L307.44,124.85L308.84,127.46L310.24,128.15L311.64,128.47L313.04,127.97L314.44,128.3L315.84,130.13L317.24,130.96L318.64,131.61L320.04,132.92L321.44,132.38L322.84,134.17L324.24,134.75L325.64,136.24L327.04,137.08L328.44,137.63L329.84,137.87L331.24,136.78L332.64,137.16L334.04,139.66L335.44,139.91L336.84,138.81L338.24,139.45L339.64,141.2L341.04,141.32L342.44,141L343.84,141.49L345.24,140.26L346.64,142.26L348.04,142.04L349.44,142.02L350.84,143.48L352.24,144.31L353.64,144.31L355.04,145.19L356.44,146.79L357.84,146.6L359.24,146.96L360.64,146.74L362.04,147.18L363.44,147.69L364.84,147.97L366.24,148.1L367.64,148.54L369.04,148.6L370.44,148.6L371.84,148.6L373.24,148.6L374.64,148.6L376.5,148.6M101.9,148.6L133.6,166.65L152.14,149.54L165.3,99.36L175.5,103.4L183.84,116.42L190.89,99.37L197,118.04L202.38,111.55L207.2,98.45L211.56,106.9L215.54,105.44L219.2,109.48L222.59,113L225.74,106.19L228.69,108.89L231.47,111.02L234.08,109.22L236.55,106.62L238.9,113.97L241.13,115.91L243.26,110.31L245.29,107.12L247.24,104.58L248.64,110.55L250.04,112.31L251.44,111.16L252.84,113.39L254.24,113.4L255.64,112.35L257.04,110.98L258.44,111L259.84,114.26L261.24,114.57L262.64,115.02L264.04,118.05L265.44,114.84L266.84,117.02L268.24,116.02L269.64,117.63L271.04,114.81L272.44,115.82L273.84,114.77L275.24,115.46L276.64,117.86L278.04,118.02L279.44,116.38L280.84,118.52L282.24,117.36L283.64,118.45L285.04,120.03L286.44,121.54L287.84,119.13L289.24,120.23L290.64,119.3L292.04,120.7L293.44,122.11L294.84,123.58L296.24,124.07L297.64,124.35L299.04,124.31L300.44,125.23L301.84,126.72L303.24,126.45L304.64,128.01L306.04,127.57L307.44,125.05L308.84,127.4L310.24,127.16L311.64,129.85L313.04,131.16L314.44,131.3L315.84,131.37L317.24,130.34L318.64,132.08L320.04,132.5L321.44,132.87L322.84,133.01L324.24,130.91L325.64,133.97L327.04,135.97L328.44,136.86L329.84,138.13L331.24,139.21L332.64,139.1L334.04,138.7L335.44,138.39L336.84,138.66L338.24,140.54L339.64,141.31L341.04,142L342.44,141.27L343.84,142.23L345.24,142.8L346.64,144.5L348.04,143.84L349.44,143.92L350.84,143.33L352.24,144.55L353.64,145.4L355.04,145.9L356.44,146.06L357.84,146.31L359.24,146.25L360.64,146.76L362.04,147.11L363.44,147.94L364.84,148.16L366.24,148.08L367.64,148.44L369.04,148.6L370.44,148.6L371.84,148.6L373.24,148.6L374.64,148.6L376.5,148.6M101.9,148.6L133.6,172.31L152.14,150.14L165.3,102.69L175.5,103.4L183.84,111.54L190.89,117.4L197,104.36L202.38,108.17L207.2,115.09L211.56,112.22L215.54,115.59L219.2,117.44L222.59,112.03L225.74,115.36L228.69,111.98L231.47,109.68L234.08,109.75L236.55,109L238.9,110.64L241.13,113.12L243.26,108.1L245.29,109.75L247.24,110.81L248.64,108.82L250.04,110.8L251.44,110.59L252.84,109.17L254.24,108.67L255.64,112.12L257.04,113.16L258.44,111.48L259.84,113.42L261.24,113.55L262.64,112.89L264.04,117.02L265.44,115.8L266.84,114.63L268.24,113.49L269.64,114.9L271.04,115.58L272.44,114.39L273.84,114.85L275.24,114.59L276.64,116.02L278.04,115.57L279.44,116.05L280.84,117.47L282.24,118.78L283.64,116.44L285.04,117.99L286.44,118.86L287.84,118.35L289.24,119.4L290.64,119.77L292.04,120.69L293.44,121.16L294.84,122.33L296.24,124.22L297.64,123.96L299.04,125.48L300.44,124.84L301.84,125.13L303.24,125.57L304.64,125.81L306.04,128.87L307.44,128.4L308.84,127.25L310.24,128.03L311.64,128.54L313.04,128.43L314.44,129.65L315.84,132.16L317.24,132.9L318.64,132.3L320.04,131.08L321.44,132.02L322.84,133.79L324.24,134.17L325.64,134.29L327.04,135.1L328.44,135.65L329.84,136.08L331.24,137.57L332.64,137.14L334.04,138.59L335.44,138.91L336.84,139.89L338.24,139.81L339.64,140.69L341.04,141.71L342.44,140.7L343.84,141.97L345.24,142.67L346.64,143.72L348.04,143.94L349.44,144.5L350.84,144.57L352.24,145.72L353.64,145.38L355.04,145.09L356.44,146.15L357.84,146.12L359.24,147.31L360.64,147.41L362.04,147.88L363.44,148.09L364.84,148.03L366.24,148.19L367.64,148.61L369.04,148.6L370.44,148.6L371.84,148.6L373.24,148.6L374.64,148.6L376.5,148.6M101.9,148.6L133.6,156.07L152.14,134.13L165.3,94.39L175.5,104.81L183.84,114.04L190.89,96.76L197,117.02L202.38,110.75L207.2,113.84L211.56,119.71L215.54,116.47L219.2,111.71L222.59,117.14L225.74,116.74L228.69,114.01L231.47,111.12L234.08,107.89L236.55,108.57L238.9,111.87L241.13,110.97L243.26,109.75L245.29,107.59L247.24,106.56L248.64,111.07L250.04,107.05L251.44,110.53L252.84,111.87L254.24,111.01L255.64,113.73L257.04,115.95L258.44,110.93L259.84,109.86L261.24,111.72L262.64,110.21L264.04,110.71L265.44,111.24L266.84,116.06L268.24,115.22L269.64,114.97L271.04,117.49L272.44,116.74L273.84,115.06L275.24,117.05L276.64,115.62L278.04,115.13L279.44,112.82L280.84,114.68L282.24,117.5L283.64,120.78L285.04,120.96L286.44,120.81L287.84,119.21L289.24,119.64L290.64,121.14L292.04,122.23L293.44,121.46L294.84,121.78L296.24,122.45L297.64,123.7L299.04,123.64L300.44,124.16L301.84,126.17L303.24,124.57L304.64,125.84L306.04,125.97L307.44,127.42L308.84,125.01L310.24,128.36L311.64,128.58L313.04,128.53L314.44,129.75L315.84,131.74L317.24,131.56L318.64,131.06L320.04,132.14L321.44,133.81L322.84,134.38L324.24,135.55L325.64,135.96L327.04,135.6L328.44,136.16L329.84,136.65L331.24,137.15L332.64,136.9L334.04,137.66L335.44,138.58L336.84,140.07L338.24,140.04L339.64,139.69L341.04,140.4L342.44,141.08L343.84,140.84L345.24,140.16L346.64,142.27L348.04,142.9L349.44,143L350.84,142.99L352.24,144.18L353.64,145.83L355.04,145.93L356.44,146.35L357.84,146.31L359.24,148.02L360.64,147.56L362.04,146.96L363.44,147.35L364.84,148.19L366.24,148.41L367.64,148.54L369.04,148.6L370.44,148.6L371.84,148.6L373.24,148.6L374.64,148.6L376.5,148.6M101.9,148.6L133.6,156.09L152.14,137.86L165.3,114.1L175.5,106.1L183.84,126.27L190.89,107.25L197,94.89L202.38,114.15L207.2,114.23L211.56,118.65L215.54,120.43L219.2,109.73L222.59,104.43L225.74,109.42L228.69,113.75L231.47,114.51L234.08,110.19L236.55,114.47L238.9,116.06L241.13,112.94L243.26,114.76L245.29,112.55L247.24,111.76L248.64,113.57L250.04,114.4L251.44,114.7L252.84,113.38L254.24,113.12L255.64,112.85L257.04,115.41L258.44,117.84L259.84,114.83L261.24,116.58L262.64,117.2L264.04,114.6L265.44,112.56L266.84,114.79L268.24,112.75L269.64,115.13L271.04,116.11L272.44,114.11L273.84,114.8L275.24,116.21L276.64,115.49L278.04,115.17L279.44,113.11L280.84,112.33L282.24,117.2L283.64,117.61L285.04,118.13L286.44,122.35L287.84,120.07L289.24,120.54L290.64,120.22L292.04,120.71L293.44,121.64L294.84,124.29L296.24,124.11L297.64,123.52L299.04,123.48L300.44,124.57L301.84,125.93L303.24,126.19L304.64,125.63L306.04,123.84L307.44,124.79L308.84,123.89L310.24,127.11L311.64,129.84L313.04,129.99L314.44,130.58L315.84,131.85L317.24,132.66L318.64,131.86L320.04,131.54L321.44,131.43L322.84,133.04L324.24,133.39L325.64,134.49L327.04,132.13L328.44,134.58L329.84,136.05L331.24,138.17L332.64,139.41L334.04,139.32L335.44,139.63L336.84,139.92L338.24,140.46L339.64,140.5L341.04,140.89L342.44,142.7L343.84,143.53L345.24,141.52L346.64,142.58L348.04,142.53L349.44,142.12L350.84,143.03L352.24,144.35L353.64,144.77L355.04,146.08L356.44,145.44L357.84,146.02L359.24,146.54L360.64,145.82L362.04,147.67L363.44,147.75L364.84,147.86L366.24,148.12L367.64,148.51L369.04,148.6L370.44,148.6L371.84,148.6L373.24,148.6L374.64,148.6L376.5,148.6M101.9,148.6L133.6,153.94L152.14,98.83L165.3,106.75L175.5,115.4L183.84,109.98L190.89,88.65L197,118.81L202.38,119.36L207.2,118.74L211.56,118.89L215.54,120.23L219.2,125L222.59,121.54L225.74,111.65L228.69,108.49L231.47,108.51L234.08,110.33L236.55,113.15L238.9,113.6L241.13,112.55L243.26,112.11L245.29,112.11L247.24,112.59L248.64,111.83L250.04,108.19L251.44,108.73L252.84,109.95L254.24,110.06L255.64,111.5L257.04,112.32L258.44,112.65L259.84,113.42L261.24,110.62L262.64,111.64L264.04,106.85L265.44,110.89L266.84,113.17L268.24,112.97L269.64,111.11L271.04,112.9L272.44,117.6L273.84,118.04L275.24,116.3L276.64,117.43L278.04,115.98L279.44,118.4L280.84,116.72L282.24,117.25L283.64,117.5L285.04,117.61L286.44,117.01L287.84,118.75L289.24,120.44L290.64,120.09L292.04,120.66L293.44,122.82L294.84,125.62L296.24,123.63L297.64,123.5L299.04,121.47L300.44,123.09L301.84,122.95L303.24,124.67L304.64,124.63L306.04,126.43L307.44,127.07L308.84,129.01L310.24,129.98L311.64,128.33L313.04,125.67L314.44,128.33L315.84,128.94L317.24,129.69L318.64,128.98L320.04,130.17L321.44,131.81L322.84,129.69L324.24,132.26L325.64,134.6L327.04,134.88L328.44,134.67L329.84,135.85L331.24,135.71L332.64,135.62L334.04,137.09L335.44,137.83L336.84,139.17L338.24,140.45L339.64,139.91L341.04,140.99L342.44,142.21L343.84,141.6L345.24,142.04L346.64,144.06L348.04,143.82L349.44,145.4L350.84,145.48L352.24,145.65L353.64,146.62L355.04,145.83L356.44,147.42L357.84,147.52L359.24,145.86L360.64,146.84L362.04,147.04L363.44,148.1L364.84,147.97L366.24,148.24L367.64,148.5L369.04,148.6L370.44,148.6L371.84,148.6L373.24,148.6L374.64,148.6L376.5,148.6M101.9,148.6L133.6,165.8L152.14,143.67L165.3,96.45L175.5,102.26L183.84,105L190.89,125.19L197,91.48L202.38,119.67L207.2,119.07L211.56,104.99L215.54,113.42L219.2,113.26L222.59,121.48L225.74,108.48L228.69,112.46L231.47,113.57L234.08,110.66L236.55,108.01L238.9,109.13L241.13,107.58L243.26,110.61L245.29,111.69L247.24,102.78L248.64,107.87L250.04,112.01L251.44,110.91L252.84,107.87L254.24,111.12L255.64,110.64L257.04,107.81L258.44,109.53L259.84,109.91L261.24,115.1L262.64,113.99L264.04,114.08L265.44,112.4L266.84,116.63L268.24,115.05L269.64,116.59L271.04,119.26L272.44,116.8L273.84,118.1L275.24,114.46L276.64,115.27L278.04,116.08L279.44,117.58L280.84,118.75L282.24,118.96L283.64,118.68L285.04,118.41L286.44,118.78L287.84,120.1L289.24,118.62L290.64,118.4L292.04,118.99L293.44,120.12L294.84,120.89L296.24,123.17L297.64,123.62L299.04,123.34L300.44,123.91L301.84,124.11L303.24,124.55L304.64,125.49L306.04,122.41L307.44,124.43L308.84,126.08L310.24,128.15L311.64,130.14L313.04,130.01L314.44,129.9L315.84,130.55L317.24,131.48L318.64,131.2L320.04,131.76L321.44,131.77L322.84,133.32L324.24,133.34L325.64,132.95L327.04,134.44L328.44,135.58L329.84,136.3L331.24,138.86L332.64,139.22L334.04,137.91L335.44,138.44L336.84,136.69L338.24,139.17L339.64,140.15L341.04,140.71L342.44,140.32L343.84,140.72L345.24,142.06L346.64,143.44L348.04,142.38L349.44,142.87L350.84,143.51L352.24,144.85L353.64,145.27L355.04,145.31L356.44,145.81L357.84,147.71L359.24,147.92L360.64,147.58L362.04,148.51L363.44,148.29L364.84,148.5L366.24,147.96L367.64,148.55L369.04,148.6L370.44,148.6L371.84,148.6L373.24,148.6L374.64,148.6L376.5,148.6M101.9,148.6L133.6,165.24L152.14,108.21L165.3,100.08L175.5,109.15L183.84,123.21L190.89,116L197,90.79L202.38,113.97L207.2,121L211.56,119.31L215.54,116.54L219.2,116.54L222.59,114.63L225.74,111.33L228.69,108.93L231.47,106.79L234.08,112.18L236.55,107.2L238.9,109.03L241.13,107.57L243.26,105.37L245.29,105.07L247.24,105.97L248.64,102.89L250.04,107.98L251.44,110.26L252.84,112.46L254.24,113.91L255.64,111.25L257.04,110.28L258.44,113.55L259.84,114.36L261.24,115.02L262.64,116.76L264.04,116.67L265.44,117.67L266.84,118.68L268.24,117.28L269.64,113.18L271.04,114.33L272.44,114.3L273.84,114.05L275.24,114.95L276.64,116.06L278.04,117.2L279.44,119.4L280.84,120.07L282.24,118.83L283.64,115.78L285.04,118.01L286.44,118.67L287.84,118.33L289.24,117.95L290.64,122.05L292.04,121.53L293.44,121.18L294.84,121.83L296.24,121.57L297.64,122.87L299.04,123.19L300.44,124.03L301.84,125.09L303.24,125.25L304.64,126.18L306.04,126.6L307.44,127.79L308.84,129.3L310.24,129.03L311.64,128.51L313.04,129.91L314.44,130.75L315.84,130.77L317.24,132.01L318.64,131.73L320.04,131.82L321.44,132.83L322.84,134.07L324.24,134.64L325.64,133.47L327.04,132.91L328.44,136.39L329.84,137.75L331.24,138.51L332.64,138.59L334.04,137.89L335.44,138.54L336.84,141.74L338.24,142.48L339.64,142.6L341.04,142.48L342.44,142.37L343.84,142.57L345.24,143.14L346.64,143.26L348.04,143.73L349.44,143.51L350.84,143.45L352.24,143.32L353.64,142.95L355.04,143.6L356.44,144.86L357.84,145.73L359.24,146.25L360.64,146.64L362.04,147.85L363.44,147.74L364.84,148.69L366.24,148.73L367.64,148.62L369.04,148.6L370.44,148.6L371.84,148.6L373.24,148.6L374.64,148.6L376.5,148.6M101.9,148.6L133.6,172.68L152.14,153.74L165.3,90.55L175.5,109.03L183.84,114.06L190.89,96.19L197,119.42L202.38,118.88L207.2,115.09L211.56,117.2L215.54,112.32L219.2,109.65L222.59,110.85L225.74,113.51L228.69,110.66L231.47,109.06L234.08,104.67L236.55,105.85L238.9,111.94L241.13,110.25L243.26,109.28L245.29,106.84L247.24,109.24L248.64,113.86L250.04,110.86L251.44,111.78L252.84,112.72L254.24,113.99L255.64,117.56L257.04,116.98L258.44,115.26L259.84,113.33L261.24,112L262.64,111.69L264.04,114.47L265.44,115.18L266.84,114.23L268.24,113.58L269.64,112.66L271.04,113.22L272.44,116.41L273.84,114.34L275.24,110.09L276.64,114.75L278.04,114.47L279.44,117.05L280.84,116.58L282.24,117.4L283.64,116.81L285.04,118.59L286.44,118.67L287.84,118.09L289.24,118.96L290.64,119.7L292.04,121.98L293.44,121.91L294.84,122.95L296.24,123.13L297.64,123.57L299.04,122.87L300.44,124.14L301.84,125.2L303.24,127.18L304.64,126.57L306.04,126.04L307.44,126.22L308.84,126.6L310.24,128.08L311.64,129.35L313.04,129.23L314.44,130.67L315.84,129.9L317.24,128.87L318.64,131.15L320.04,132.14L321.44,134.63L322.84,133.71L324.24,133.13L325.64,134.14L327.04,135.49L328.44,136.22L329.84,137.16L331.24,138.79L332.64,137.39L334.04,138.19L335.44,139.69L336.84,139.94L338.24,140.33L339.64,138.97L341.04,140.43L342.44,141.29L343.84,141L345.24,142.03L346.64,142.27L348.04,143.63L349.44,144.28L350.84,143.68L352.24,144.07L353.64,144.47L355.04,144.07L356.44,145.25L357.84,145.94L359.24,146.61L360.64,147.41L362.04,148.14L363.44,147L364.84,147.85L366.24,147.83L367.64,148.52L369.04,148.6L370.44,148.6L371.84,148.6L373.24,148.6L374.64,148.6L376.5,148.6M101.9,148.6L133.6,141.48L152.14,88.05L165.3,106.3L175.5,90.12L183.84,114.68L190.89,117.92L197,88.04L202.38,119.99L207.2,115.1L211.56,117.4L215.54,123.4L219.2,122.91L222.59,109.23L225.74,111.7L228.69,114.75L231.47,112.86L234.08,108.5L236.55,106.95L238.9,109.61L241.13,109.91L243.26,108.68L245.29,114.38L247.24,114.26L248.64,111.06L250.04,110.19L251.44,104.39L252.84,111.49L254.24,112.77L255.64,112.74L257.04,110.85L258.44,108.96L259.84,113.43L261.24,115.76L262.64,114.14L264.04,112.17L265.44,109.7L266.84,112L268.24,110.71L269.64,113.89L271.04,115.11L272.44,117.34L273.84,117.22L275.24,111.66L276.64,114.98L278.04,117.25L279.44,116.45L280.84,120.21L282.24,116.57L283.64,116.75L285.04,116.12L286.44,119.19L287.84,121.01L289.24,119.57L290.64,122.58L292.04,122.8L293.44,122.76L294.84,121.82L296.24,121.78L297.64,121.73L299.04,123.49L300.44,123.56L301.84,124.47L303.24,125.04L304.64,125.68L306.04,126.84L307.44,127.04L308.84,126.26L310.24,127.37L311.64,128.4L313.04,130.8L314.44,131.31L315.84,132.04L317.24,131.82L318.64,131.67L320.04,132.41L321.44,132.64L322.84,133.79L324.24,134.84L325.64,135.21L327.04,135.17L328.44,135.73L329.84,135.49L331.24,136.86L332.64,137.38L334.04,138.92L335.44,139.28L336.84,141.91L338.24,140.86L339.64,138.65L341.04,140.44L342.44,141.49L343.84,141.23L345.24,142.47L346.64,144.77L348.04,144.45L349.44,144.34L350.84,143.61L352.24,142.99L353.64,144.19L355.04,143.43L356.44,144.88L357.84,144.74L359.24,145.72L360.64,146.41L362.04,146.87L363.44,147.62L364.84,148.06L366.24,148.14L367.64,148.53L369.04,148.6L370.44,148.6L371.84,148.6L373.24,148.6L374.64,148.6L376.5,148.6M101.9,148.6L133.6,164.92L152.14,140.79L165.3,109.31L175.5,95.08L183.84,120.43L190.89,121.34L197,115.61L202.38,123.51L207.2,106.95L211.56,109.7L215.54,107.65L219.2,109.92L222.59,112.18L225.74,107.98L228.69,111.97L231.47,114.12L234.08,113.09L236.55,112.62L238.9,105.79L241.13,108.8L243.26,110.76L245.29,112.74L247.24,111.18L248.64,107.88L250.04,109.8L251.44,111.71L252.84,110.8L254.24,107.19L255.64,104.5L257.04,111.16L258.44,110.2L259.84,111.54L261.24,110.95L262.64,112.44L264.04,112.28L265.44,108.87L266.84,112.08L268.24,116.38L269.64,115.21L271.04,116.63L272.44,114.58L273.84,114.64L275.24,117.23L276.64,115.72L278.04,116.34L279.44,118.52L280.84,119.06L282.24,119.21L283.64,120.09L285.04,119.65L286.44,119.74L287.84,118.91L289.24,119.22L290.64,119.5L292.04,118.78L293.44,119.43L294.84,120.21L296.24,122.47L297.64,123.08L299.04,122.93L300.44,125.21L301.84,126.54L303.24,127.04L304.64,128.24L306.04,128.15L307.44,130.1L308.84,128.74L310.24,130.32L311.64,130.82L313.04,128.95L314.44,129.11L315.84,128.48L317.24,132.24L318.64,131.44L320.04,131.1L321.44,130.78L322.84,132.44L324.24,133.56L325.64,132.73L327.04,133.1L328.44,134.03L329.84,135.71L331.24,135.97L332.64,136.43L334.04,139.46L335.44,139.72L336.84,139.01L338.24,138.71L339.64,139.46L341.04,140.41L342.44,141.02L343.84,142.5L345.24,143.27L346.64,143.42L348.04,144.51L349.44,143.84L350.84,144.97L352.24,145.38L353.64,145.18L355.04,145.13L356.44,146.13L357.84,145.99L359.24,145.94L360.64,146.27L362.04,147.16L363.44,148.26L364.84,148.06L366.24,148.19L367.64,148.47L369.04,148.6L370.44,148.6L371.84,148.6L373.24,148.6L374.64,148.6L376.5,148.6M101.9,148.6L133.6,148.34L152.14,103.81L165.3,107.24L175.5,107.68L183.84,109.98L190.89,117.94L197,116.57L202.38,117.71L207.2,115.38L211.56,109.79L215.54,116.49L219.2,119.22L222.59,115.59L225.74,115.75L228.69,113.87L231.47,112.14L234.08,113.97L236.55,112.99L238.9,114.69L241.13,111.51L243.26,116.45L245.29,108.97L247.24,108.11L248.64,114.31L250.04,115.58L251.44,113.98L252.84,113.9L254.24,114.36L255.64,112.1L257.04,110.4L258.44,112.81L259.84,113.45L261.24,111.1L262.64,112.95L264.04,114.57L265.44,113.32L266.84,114.91L268.24,114.78L269.64,112.77L271.04,110.89L272.44,114.52L273.84,113.13L275.24,114.53L276.64,116.23L278.04,120.05L279.44,120.33L280.84,119.93L282.24,121.65L283.64,119.61L285.04,115.95L286.44,115.85L287.84,118.26L289.24,119.45L290.64,119.84L292.04,119.43L293.44,120.71L294.84,123.76L296.24,123.27L297.64,123.95L299.04,124.87L300.44,124.1L301.84,124.36L303.24,123.53L304.64,123.95L306.04,126.39L307.44,127.26L308.84,126.92L310.24,124.64L311.64,125.73L313.04,125.35L314.44,128.87L315.84,129.43L317.24,130.9L318.64,131.13L320.04,131.68L321.44,133.83L322.84,136.22L324.24,136.69L325.64,135.73L327.04,135.11L328.44,135.09L329.84,134.5L331.24,135.55L332.64,135.93L334.04,139L335.44,138.99L336.84,140.25L338.24,140.56L339.64,140.79L341.04,140.51L342.44,141.19L343.84,141.38L345.24,141.91L346.64,143.36L348.04,143.88L349.44,143.79L350.84,143.71L352.24,144.27L353.64,143.33L355.04,144.47L356.44,146.44L357.84,145.81L359.24,146.37L360.64,147.27L362.04,147.78L363.44,147.52L364.84,148.09L366.24,148.28L367.64,148.53L369.04,148.6L370.44,148.6L371.84,148.6L373.24,148.6L374.64,148.6L376.5,148.6M101.9,148.6L133.6,157.66L152.14,109.89L165.3,117.1L175.5,87.19L183.84,121.59L190.89,126.7L197,92.26L202.38,121.87L207.2,112.63L211.56,111.08L215.54,116.61L219.2,110.92L222.59,108.88L225.74,105.97L228.69,110.24L231.47,112.31L234.08,110.46L236.55,111.92L238.9,115.46L241.13,110.99L243.26,113.04L245.29,112.47L247.24,109.39L248.64,114.27L250.04,111.99L251.44,111.01L252.84,110.64L254.24,107.63L255.64,106.51L257.04,110.42L258.44,109.83L259.84,109.81L261.24,112.06L262.64,106.16L264.04,106.51L265.44,110.88L266.84,107.28L268.24,112L269.64,113.43L271.04,112.08L272.44,114.45L273.84,116.39L275.24,117.73L276.64,117.46L278.04,118.05L279.44,118.08L280.84,119.98L282.24,118.83L283.64,119.2L285.04,120.05L286.44,118.51L287.84,118.44L289.24,119.19L290.64,119.68L292.04,120.6L293.44,122.31L294.84,122.72L296.24,122.1L297.64,123.02L299.04,124.31L300.44,124.5L301.84,125.15L303.24,122.96L304.64,124.71L306.04,126.67L307.44,126.85L308.84,127.52L310.24,127.01L311.64,127.85L313.04,128.98L314.44,128.4L315.84,130.36L317.24,131.96L318.64,131.45L320.04,131.68L321.44,133.5L322.84,133.48L324.24,134.94L325.64,135.83L327.04,135.43L328.44,135.35L329.84,137.08L331.24,136.63L332.64,136.85L334.04,138.17L335.44,137.8L336.84,136.93L338.24,138.97L339.64,138.82L341.04,139.02L342.44,141.57L343.84,141.51L345.24,142.02L346.64,143.57L348.04,142.71L349.44,143.46L350.84,144.93L352.24,145.16L353.64,144.8L355.04,146.39L356.44,147.43L357.84,145.9L359.24,145.99L360.64,145.92L362.04,147.15L363.44,147.72L364.84,148.35L366.24,148.42L367.64,148.58L369.04,148.6L370.44,148.6L371.84,148.6L373.24,148.6L374.64,148.6L376.5,148.6" stroke="#06baff" stroke-width="0.72" stroke-linejoin="miter"/>
<path d="M128,148.6H214" stroke="#000" stroke-width="0.78" stroke-opacity="0.28" stroke-dasharray="5 3"/>
<path d="M101.9,148.6L133.6,157.9L152.1,130L165.3,106.7L175.5,102.2L183.8,113L190.9,114.5L197,115.5L202.4,114L207.2,112.7L208.7,112.57L210.2,112.48L211.7,112.4L213.2,112.34L214.7,112.26L216.2,112.15L217.7,112.02L219.2,111.88L220.7,111.73L222.2,111.57L223.7,111.42L225.2,111.28L226.7,111.15L228.2,111.01L229.7,110.88L231.2,110.76L232.7,110.64L234.2,110.54L235.7,110.46L237.2,110.38L238.7,110.32L240.2,110.3L241.7,110.33L243.2,110.4L244.7,110.5L246.2,110.61L247.7,110.73L249.2,110.85L250.7,110.94L252.2,111.03L253.7,111.12L255.2,111.23L256.7,111.37L258.2,111.56L259.7,111.79L261.2,112.05L262.7,112.35L264.2,112.66L265.7,113L267.2,113.35L268.7,113.7L270.2,114.05L271.7,114.41L273.2,114.79L274.7,115.18L276.2,115.59L277.7,116.02L279.2,116.47L280.7,116.92L282.2,117.39L283.7,117.87L285.2,118.37L286.7,118.87L288.2,119.38L289.7,119.9L291.2,120.43L292.7,121.01L294.2,121.61L295.7,122.23L297.2,122.85L298.7,123.47L300.2,124.08L301.7,124.68L303.2,125.27L304.7,125.86L306.2,126.46L307.7,127.06L309.2,127.67L310.7,128.29L312.2,128.93L313.7,129.58L315.2,130.24L316.7,130.89L318.2,131.54L319.7,132.18L321.2,132.8L322.7,133.41L324.2,134.03L325.7,134.64L327.2,135.25L328.7,135.85L330.2,136.45L331.7,137.05L333.2,137.63L334.7,138.21L336.2,138.79L337.7,139.35L339.2,139.91L340.7,140.45L342.2,141L343.7,141.53L345.2,142.05L346.7,142.57L348.2,143.08L349.7,143.57L351.2,144.05L352.7,144.52L354.2,144.97L355.7,145.4L357.2,145.83L358.7,146.24L360.2,146.65L361.7,147.07L363.2,147.47L364.7,147.83L366.2,148.2L367.7,148.53L369.2,148.6L370.7,148.6L372.2,148.6L373.7,148.6L375.2,148.6L376.5,148.6" stroke="#0000f6" stroke-width="2.1"/>
<path d="M101.9,148.6L133.6,70L152.1,24" stroke="#55009a" stroke-width="2.2" stroke-dasharray="7.2 2 1.4 2 1.4 2 1.4 2"/>
<path d="M210.9,32.78L212.4,34.88L213.9,36.95L215.4,39L216.9,41.03L218.4,43.06L219.9,45.09L221.4,47.14L222.9,49.21L224.4,51.28L225.9,53.35L227.4,55.42L228.9,57.49L230.4,59.55L231.9,61.6L233.4,63.62L234.9,65.63L236.4,67.63L237.9,69.66L239.4,71.73L240.9,73.82L242.4,75.92L243.9,78.04L245.4,80.18L246.9,82.34L248.4,84.44L249.9,86.41L251.4,88.33L252.9,90.21L254.4,92.1L255.9,94.02L257.4,95.94L258.9,97.83L260.4,99.66L261.9,101.42L263.4,103.12L264.9,104.79L266.4,106.42L267.9,108.04L269.4,109.63L270.9,111.22L272.4,112.82L273.9,114.43L275.4,116.02L276.9,117.57L278.4,119.09L279.9,120.54L281.4,121.91L282.9,123.21L284.4,124.46L285.9,125.66L287.4,126.82L288.9,127.94L290.4,129.02L291.9,130.08L293.4,131.13L294.9,132.1L296.4,132.89L297.9,133.56L299.4,134.17L300.9,134.73L302.4,135.25L303.9,135.74L305.4,136.22L306.9,136.69L308.4,137.17L309.9,137.67L311.4,138.18L312.9,138.7L314.4,139.22L315.9,139.73L317.4,140.22L318.9,140.68L320.4,141.11L321.9,141.51L323.4,141.89L324.9,142.26L326.4,142.61L327.9,142.95L329.4,143.29L330.9,143.63L332.4,143.98L333.9,144.32L335.4,144.65L336.9,144.96L338.4,145.27L339.9,145.55L341.4,145.8L342.9,146.03L344.4,146.25L345.9,146.46L347.4,146.66L348.9,146.85L350.4,147.03L351.9,147.2L353.4,147.37L354.9,147.53L356.4,147.69L357.9,147.84L359.4,147.98L360.9,148.11L362.4,148.23L363.9,148.35L365.4,148.47L366.9,148.56L368.4,148.6L369.9,148.6L371.4,148.6L372.9,148.6L374.4,148.6L375.9,148.6L376.5,148.6" stroke="#55009a" stroke-width="2.2" stroke-dasharray="7.2 2 1.4 2 1.4 2 1.4 2"/>
<path d="M101.9,148.6L133.6,237" stroke="#ff0000" stroke-width="2.2" stroke-dasharray="4.75 4.4"/>
<path d="M213,226.3L214.5,224.02L216,221.83L217.5,219.65L219,217.41L220.5,215.07L222,212.64L223.5,210.19L225,207.78L226.5,205.4L228,203.01L229.5,200.58L231,198.11L232.5,195.61L234,193.12L235.5,190.64L237,188.14L238.5,185.72L240,183.48L241.5,181.37L243,179.36L244.5,177.43L246,175.58L247.5,173.8L249,172.07L250.5,170.36L252,168.62L253.5,166.9L255,165.25L256.5,163.7L258,162.27L259.5,160.92L261,159.61L262.5,158.3L264,156.97L265.5,155.64L267,154.33L268.5,153.08L270,151.9L271.5,150.75L273,149.65L274.5,148.59L276,147.59L277.5,146.64L279,145.72L280.5,144.84L282,144L283.5,143.23L285,142.52L286.5,141.84L288,141.21L289.5,140.63L291,140.11L292.5,139.66L294,139.25L295.5,138.87L297,138.53L298.5,138.24L300,138L301.5,137.79L303,137.58L304.5,137.41L306,137.27L307.5,137.2L309,137.22L310.5,137.3L312,137.44L313.5,137.63L315,137.84L316.5,138.08L318,138.31L319.5,138.53L321,138.74L322.5,138.95L324,139.18L325.5,139.41L327,139.66L328.5,139.91L330,140.18L331.5,140.45L333,140.74L334.5,141.04L336,141.34L337.5,141.66L339,141.98L340.5,142.31L342,142.66L343.5,143.03L345,143.41L346.5,143.81L348,144.2L349.5,144.58L351,144.96L352.5,145.33L354,145.67L355.5,145.99L357,146.3L358.5,146.6L360,146.9L361.5,147.2L363,147.52L364.5,147.91L366,148.28L367.5,148.53L369,148.6L370.5,148.6L372,148.6L373.5,148.6L375,148.6L376.5,148.6" stroke="#ff0000" stroke-width="2.2" stroke-dasharray="4.75 4.4"/>
</g>
<g fill="none">
<path d="M239,49.75H262" stroke="#0000f6" stroke-width="2.1"/>
<path d="M238.7,69.1H262.2" stroke="#55009a" stroke-width="2.2" stroke-dasharray="7.2 2 1.4 2 1.4 2 1.4 2"/>
<path d="M238.7,88.4H262.2" stroke="#ff0000" stroke-width="2.2" stroke-dasharray="4.7 4.5"/>
<path d="M101.9,226.3v-4.0M101.9,32.5v4.0M133.6,226.3v-2.0M133.6,32.5v2.0M152.14,226.3v-2.0M152.14,32.5v2.0M165.3,226.3v-2.0M165.3,32.5v2.0M175.5,226.3v-2.0M175.5,32.5v2.0M183.84,226.3v-2.0M183.84,32.5v2.0M190.89,226.3v-2.0M190.89,32.5v2.0M197,226.3v-2.0M197,32.5v2.0M202.38,226.3v-2.0M202.38,32.5v2.0M207.2,226.3v-4.0M207.2,32.5v4.0M238.9,226.3v-2.0M238.9,32.5v2.0M257.44,226.3v-2.0M257.44,32.5v2.0M270.6,226.3v-2.0M270.6,32.5v2.0M280.8,226.3v-2.0M280.8,32.5v2.0M289.14,226.3v-2.0M289.14,32.5v2.0M296.19,226.3v-2.0M296.19,32.5v2.0M302.3,226.3v-2.0M302.3,32.5v2.0M307.68,226.3v-2.0M307.68,32.5v2.0M312.5,226.3v-4.0M312.5,32.5v4.0M344.2,226.3v-2.0M344.2,32.5v2.0M362.74,226.3v-2.0M362.74,32.5v2.0M375.9,226.3v-2.0M375.9,32.5v2.0M101.5,226.1h5.5M376.5,226.1h-5.5M101.5,222.22h2.75M376.5,222.22h-2.75M101.5,218.35h2.75M376.5,218.35h-2.75M101.5,214.47h2.75M376.5,214.47h-2.75M101.5,210.6h2.75M376.5,210.6h-2.75M101.5,206.72h2.75M376.5,206.72h-2.75M101.5,202.85h2.75M376.5,202.85h-2.75M101.5,198.97h2.75M376.5,198.97h-2.75M101.5,195.1h2.75M376.5,195.1h-2.75M101.5,191.22h2.75M376.5,191.22h-2.75M101.5,187.35h5.5M376.5,187.35h-5.5M101.5,183.47h2.75M376.5,183.47h-2.75M101.5,179.6h2.75M376.5,179.6h-2.75M101.5,175.72h2.75M376.5,175.72h-2.75M101.5,171.85h2.75M376.5,171.85h-2.75M101.5,167.97h2.75M376.5,167.97h-2.75M101.5,164.1h2.75M376.5,164.1h-2.75M101.5,160.22h2.75M376.5,160.22h-2.75M101.5,156.35h2.75M376.5,156.35h-2.75M101.5,152.47h2.75M376.5,152.47h-2.75M101.5,148.6h5.5M376.5,148.6h-5.5M101.5,144.72h2.75M376.5,144.72h-2.75M101.5,140.85h2.75M376.5,140.85h-2.75M101.5,136.97h2.75M376.5,136.97h-2.75M101.5,133.1h2.75M376.5,133.1h-2.75M101.5,129.22h2.75M376.5,129.22h-2.75M101.5,125.35h2.75M376.5,125.35h-2.75M101.5,121.47h2.75M376.5,121.47h-2.75M101.5,117.6h2.75M376.5,117.6h-2.75M101.5,113.72h2.75M376.5,113.72h-2.75M101.5,109.85h5.5M376.5,109.85h-5.5M101.5,105.97h2.75M376.5,105.97h-2.75M101.5,102.1h2.75M376.5,102.1h-2.75M101.5,98.22h2.75M376.5,98.22h-2.75M101.5,94.35h2.75M376.5,94.35h-2.75M101.5,90.47h2.75M376.5,90.47h-2.75M101.5,86.6h2.75M376.5,86.6h-2.75M101.5,82.72h2.75M376.5,82.72h-2.75M101.5,78.85h2.75M376.5,78.85h-2.75M101.5,74.97h2.75M376.5,74.97h-2.75M101.5,71.1h5.5M376.5,71.1h-5.5M101.5,67.22h2.75M376.5,67.22h-2.75M101.5,63.35h2.75M376.5,63.35h-2.75M101.5,59.47h2.75M376.5,59.47h-2.75M101.5,55.6h2.75M376.5,55.6h-2.75M101.5,51.72h2.75M376.5,51.72h-2.75M101.5,47.85h2.75M376.5,47.85h-2.75M101.5,43.97h2.75M376.5,43.97h-2.75M101.5,40.1h2.75M376.5,40.1h-2.75M101.5,36.22h2.75M376.5,36.22h-2.75M101.5,32.35h5.5M376.5,32.35h-5.5" stroke="#333" stroke-width="0.45"/>
<rect x="101.5" y="32.5" width="275.0" height="193.8" stroke="#222" stroke-width="0.52"/>
<path d="M102.44,239.11L100.82,240.7L99.74,241.22L100.82,240.7L102.44,239.11L102.44,250.2L102.44,239.11M202.34,239.11L200.72,240.7L199.64,241.22L200.72,240.7L202.34,239.11L202.34,250.2L202.34,239.11M212.06,239.11L210.44,239.64L209.36,241.22L208.82,243.86L208.82,245.45L209.36,248.09L210.44,249.67L212.06,250.2L213.14,250.2L214.76,249.67L215.84,248.09L216.38,245.45L216.38,243.86L215.84,241.22L214.76,239.64L213.14,239.11L212.06,239.11M302.24,239.11L300.62,240.7L299.54,241.22L300.62,240.7L302.24,239.11L302.24,250.2L302.24,239.11M311.96,239.11L310.34,239.64L309.26,241.22L308.72,243.86L308.72,245.45L309.26,248.09L310.34,249.67L311.96,250.2L313.04,250.2L314.66,249.67L315.74,248.09L316.28,245.45L316.28,243.86L315.74,241.22L314.66,239.64L313.04,239.11L311.96,239.11M322.76,239.11L321.14,239.64L320.06,241.22L319.52,243.86L319.52,245.45L320.06,248.09L321.14,249.67L322.76,250.2L323.84,250.2L325.46,249.67L326.54,248.09L327.08,245.45L327.08,243.86L326.54,241.22L325.46,239.64L323.84,239.11L322.76,239.11M87.9,32.51L93.84,32.51L90.6,36.74L92.22,36.74L93.3,37.26L93.84,37.79L94.38,39.38L94.38,40.43L93.84,42.02L92.76,43.07L91.14,43.6L89.52,43.6L87.9,43.07L87.36,42.54L86.82,41.49L87.36,42.54L87.9,43.07L89.52,43.6L91.14,43.6L92.76,43.07L93.84,42.02L94.38,40.43L94.38,39.38L93.84,37.79L93.3,37.26L92.22,36.74L90.6,36.74L93.84,32.51L87.9,32.51M89.52,66.21L88.44,66.74L87.9,67.27L87.36,68.32L87.36,68.85L87.36,68.32L87.9,67.27L88.44,66.74L89.52,66.21L91.68,66.21L92.76,66.74L93.3,67.27L93.84,68.32L93.84,69.38L92.22,72.02L86.82,77.3L94.38,77.3L86.82,77.3L92.22,72.02L93.84,69.38L93.84,68.32L93.3,67.27L92.76,66.74L91.68,66.21L89.52,66.21M91.14,104.96L89.52,106.55L88.44,107.07L89.52,106.55L91.14,104.96L91.14,116.05L91.14,104.96M90.06,143.71L88.44,144.24L87.36,145.82L86.82,148.46L86.82,150.05L87.36,152.69L88.44,154.27L90.06,154.8L91.14,154.8L92.76,154.27L93.84,152.69L94.38,150.05L94.38,148.46L93.84,145.82L92.76,144.24L91.14,143.71L90.06,143.71M73.32,188.8L83.04,188.8L73.32,188.8M91.14,182.46L89.52,184.05L88.44,184.57L89.52,184.05L91.14,182.46L91.14,193.55L91.14,182.46M73.32,221.15L83.04,221.15L73.32,221.15M89.52,214.81L88.44,215.34L87.9,215.87L87.36,216.92L87.36,217.45L87.36,216.92L87.9,215.87L88.44,215.34L89.52,214.81L91.68,214.81L92.76,215.34L93.3,215.87L93.84,216.92L93.84,217.98L92.22,220.62L86.82,225.9L94.38,225.9L86.82,225.9L92.22,220.62L93.84,217.98L93.84,216.92L93.3,215.87L92.76,215.34L91.68,214.81L89.52,214.81M231.98,260.21L231.98,271.3L231.98,269.19L234.14,267.08L237.92,271.3L234.14,267.08L237.38,263.91L231.98,269.19L231.98,260.21M241.16,260.21L241.16,271.3L247.64,271.3L241.16,271.3L241.16,260.21M46.21,154.91L57.3,154.91M46.21,147.35L57.3,147.35M46.21,154.91L46.21,147.35M44.1,139.25L45.16,140.33L46.74,141.41L48.85,142.49L51.49,143.03L53.6,143.03L56.24,142.49L58.36,141.41L59.94,140.33L61,139.25L59.94,140.33L58.36,141.41L56.24,142.49L53.6,143.03L51.49,143.03L48.85,142.49L46.74,141.41L45.16,140.33L44.1,139.25M46.21,135.47L57.3,135.47L55.19,135.47L53.08,133.31L57.3,129.53L53.08,133.31L49.91,130.07L55.19,135.47L46.21,135.47M44.1,126.83L45.16,125.75L46.74,124.67L48.85,123.59L51.49,123.05L53.6,123.05L56.24,123.59L58.36,124.67L59.94,125.75L61,126.83L59.94,125.75L58.36,124.67L56.24,123.59L53.6,123.05L51.49,123.05L48.85,123.59L46.74,124.67L45.16,125.75L44.1,126.83M44.1,110.09L61,119.81L44.1,110.09M51.23,103.61L50.17,104.42L49.91,105.5L50.17,106.58L50.96,107.39L52.28,107.93L54.92,107.93L56.24,107.39L57.04,106.58L57.3,105.5L57.04,104.42L55.98,103.61M53.6,107.93L53.6,104.69M197.33,125.91L198.39,125.91L199.46,126.44L199.99,127.5L204.23,137M201.05,129.87L197.86,137M207.42,133.83L216.98,133.83L207.42,133.83M207.42,130.66L216.98,130.66L207.42,130.66M223.88,125.91L222.29,126.44L221.23,128.02L220.7,130.66L220.7,132.25L221.23,134.89L222.29,136.47L223.88,137L224.94,137L226.54,136.47L227.6,134.89L228.13,132.25L228.13,130.66L227.6,128.02L226.54,126.44L224.94,125.91L223.88,125.91M232.38,135.94L231.85,136.47L232.38,137L232.91,136.47L232.38,135.94M237.69,125.91L243.53,125.91L240.34,130.14L241.94,130.14L243,130.66L243.53,131.19L244.06,132.78L244.06,133.83L243.53,135.42L242.47,136.47L240.87,137L239.28,137L237.69,136.47L237.16,135.94L236.62,134.89L237.16,135.94L237.69,136.47L239.28,137L240.87,137L242.47,136.47L243.53,135.42L244.06,133.83L244.06,132.78L243.53,131.19L243,130.66L241.94,130.14L240.34,130.14L243.53,125.91L237.69,125.91M248.31,125.91L247.78,130.66L248.31,130.14L249.9,129.61L251.49,129.61L253.09,130.14L254.15,131.19L254.68,132.78L254.68,133.83L254.15,135.42L253.09,136.47L251.49,137L249.9,137L248.31,136.47L247.78,135.94L247.25,134.89L247.78,135.94L248.31,136.47L249.9,137L251.49,137L253.09,136.47L254.15,135.42L254.68,133.83L254.68,132.78L254.15,131.19L253.09,130.14L251.49,129.61L249.9,129.61L248.31,130.14L247.78,130.66L248.31,125.91L253.62,125.91L248.31,125.91M271.9,40.61L264.34,40.61L268.12,40.61L268.12,51.7L268.12,40.61L271.9,40.61M276.76,44.31L275.68,44.84L274.6,45.89L274.06,47.48L274.06,48.53L274.6,50.12L275.68,51.17L276.76,51.7L278.38,51.7L279.46,51.17L280.54,50.12L281.08,48.53L281.08,47.48L280.54,45.89L279.46,44.84L278.38,44.31L276.76,44.31M285.4,40.61L285.4,44.31L283.78,44.31L285.4,44.31L285.4,49.59L285.94,51.17L287.02,51.7L288.1,51.7L287.02,51.7L285.94,51.17L285.4,49.59L285.4,44.31L287.56,44.31L285.4,44.31L285.4,40.61M292.42,44.84L291.34,45.89L290.8,47.48L290.8,48.53L291.34,50.12L292.42,51.17L293.5,51.7L295.12,51.7L296.2,51.17L297.28,50.12L297.28,51.7L297.28,44.31L297.28,45.89L296.2,44.84L295.12,44.31L293.5,44.31L292.42,44.84M301.6,40.61L301.6,51.7L301.6,40.61M265.96,59.81L265.96,70.9L265.96,65.09L273.52,65.09L273.52,70.9L273.52,59.81L273.52,65.09L265.96,65.09L265.96,59.81M280,63.51L278.92,64.04L277.84,65.09L277.3,66.68L277.3,67.73L277.84,69.32L278.92,70.37L280,70.9L281.62,70.9L282.7,70.37L283.78,69.32L282.7,70.37L281.62,70.9L280,70.9L278.92,70.37L277.84,69.32L277.3,67.73L277.3,66.68L283.78,66.68L283.78,65.62L283.24,64.56L282.7,64.04L281.62,63.51L280,63.51M288.1,59.81L288.1,63.51L286.48,63.51L288.1,63.51L288.1,68.79L288.64,70.37L289.72,70.9L290.8,70.9L289.72,70.9L288.64,70.37L288.1,68.79L288.1,63.51L290.26,63.51L288.1,63.51L288.1,59.81M296.2,63.51L295.12,64.04L294.04,65.09L293.5,66.68L293.5,67.73L294.04,69.32L295.12,70.37L296.2,70.9L297.82,70.9L298.9,70.37L299.98,69.32L298.9,70.37L297.82,70.9L296.2,70.9L295.12,70.37L294.04,69.32L293.5,67.73L293.5,66.68L299.98,66.68L299.98,65.62L299.44,64.56L298.9,64.04L297.82,63.51L296.2,63.51M308.08,63.51L306.46,63.51L305.38,64.04L304.3,65.09L303.76,66.41L303.76,63.51L303.76,70.9L303.76,66.68L304.3,65.09L305.38,64.04L306.46,63.51L308.08,63.51M312.94,63.51L311.86,64.04L310.78,65.09L310.24,66.68L310.24,67.73L310.78,69.32L311.86,70.37L312.94,70.9L314.56,70.9L315.64,70.37L316.72,69.32L317.26,67.73L317.26,66.68L316.72,65.09L315.64,64.04L314.56,63.51L312.94,63.51M323.2,63.51L324.82,63.51L325.9,64.04L326.98,65.09L325.9,64.04L324.82,63.51L323.2,63.51L322.12,64.04L321.04,65.09L320.5,66.68L320.5,67.73L321.04,69.32L322.12,70.37L323.2,70.9L324.82,70.9L325.9,70.37L326.98,69.32L325.9,70.37L324.82,70.9L323.2,70.9L322.12,70.37L321.04,69.32L320.5,67.73L320.5,66.68L321.04,65.09L322.12,64.04L323.2,63.51M330.76,59.81L330.76,70.9L330.76,65.62L332.38,64.04L333.46,63.51L335.08,63.51L336.16,64.04L336.7,65.62L336.7,70.9L336.7,65.62L336.16,64.04L335.08,63.51L333.46,63.51L332.38,64.04L330.76,65.62L330.76,59.81M341.02,63.51L341.02,70.9L341.02,63.51M341.02,59.28L340.48,59.81L341.02,60.34L341.56,59.81L341.02,59.28M349.66,63.51L348.04,63.51L346.96,64.04L345.88,65.09L345.34,66.41L345.34,63.51L345.34,70.9L345.34,66.68L345.88,65.09L346.96,64.04L348.04,63.51L349.66,63.51M353.44,64.04L352.36,65.09L351.82,66.68L351.82,67.73L352.36,69.32L353.44,70.37L354.52,70.9L356.14,70.9L357.22,70.37L358.3,69.32L358.3,70.9L358.3,63.51L358.3,65.09L357.22,64.04L356.14,63.51L354.52,63.51L353.44,64.04M362.62,59.81L362.62,70.9L362.62,59.81M265.96,79.01L265.96,90.1L265.96,84.29L273.52,84.29L273.52,90.1L273.52,79.01L273.52,84.29L265.96,84.29L265.96,79.01M280,82.71L278.92,83.24L277.84,84.29L277.3,85.88L277.3,86.93L277.84,88.52L278.92,89.57L280,90.1L281.62,90.1L282.7,89.57L283.78,88.52L284.32,86.93L284.32,85.88L283.78,84.29L282.7,83.24L281.62,82.71L280,82.71M288.1,82.71L288.1,90.1L288.1,84.82L289.72,83.24L290.8,82.71L292.42,82.71L293.5,83.24L294.04,84.82L294.04,90.1L294.04,84.82L295.66,83.24L296.74,82.71L298.36,82.71L299.44,83.24L299.98,84.82L299.98,90.1L299.98,84.82L299.44,83.24L298.36,82.71L296.74,82.71L295.66,83.24L294.04,84.82L293.5,83.24L292.42,82.71L290.8,82.71L289.72,83.24L288.1,84.82L288.1,82.71M306.46,82.71L305.38,83.24L304.3,84.29L303.76,85.88L303.76,86.93L304.3,88.52L305.38,89.57L306.46,90.1L308.08,90.1L309.16,89.57L310.24,88.52L310.78,86.93L310.78,85.88L310.24,84.29L309.16,83.24L308.08,82.71L306.46,82.71M316.72,82.71L318.34,82.71L319.42,83.24L320.5,84.29L319.42,83.24L318.34,82.71L316.72,82.71L315.64,83.24L314.56,84.29L314.02,85.88L314.02,86.93L314.56,88.52L315.64,89.57L316.72,90.1L318.34,90.1L319.42,89.57L320.5,88.52L319.42,89.57L318.34,90.1L316.72,90.1L315.64,89.57L314.56,88.52L314.02,86.93L314.02,85.88L314.56,84.29L315.64,83.24L316.72,82.71M324.28,79.01L324.28,90.1L324.28,84.82L325.9,83.24L326.98,82.71L328.6,82.71L329.68,83.24L330.22,84.82L330.22,90.1L330.22,84.82L329.68,83.24L328.6,82.71L326.98,82.71L325.9,83.24L324.28,84.82L324.28,79.01M334.54,82.71L334.54,90.1L334.54,82.71M334.54,78.48L334,79.01L334.54,79.54L335.08,79.01L334.54,78.48M343.18,82.71L341.56,82.71L340.48,83.24L339.4,84.29L338.86,85.61L338.86,82.71L338.86,90.1L338.86,85.88L339.4,84.29L340.48,83.24L341.56,82.71L343.18,82.71M346.96,83.24L345.88,84.29L345.34,85.88L345.34,86.93L345.88,88.52L346.96,89.57L348.04,90.1L349.66,90.1L350.74,89.57L351.82,88.52L351.82,90.1L351.82,82.71L351.82,84.29L350.74,83.24L349.66,82.71L348.04,82.71L346.96,83.24M356.14,79.01L356.14,90.1L356.14,79.01" stroke="#111" stroke-width="1.15" stroke-linecap="round" stroke-linejoin="round"/>
</g>
</svg>
</body></html>
